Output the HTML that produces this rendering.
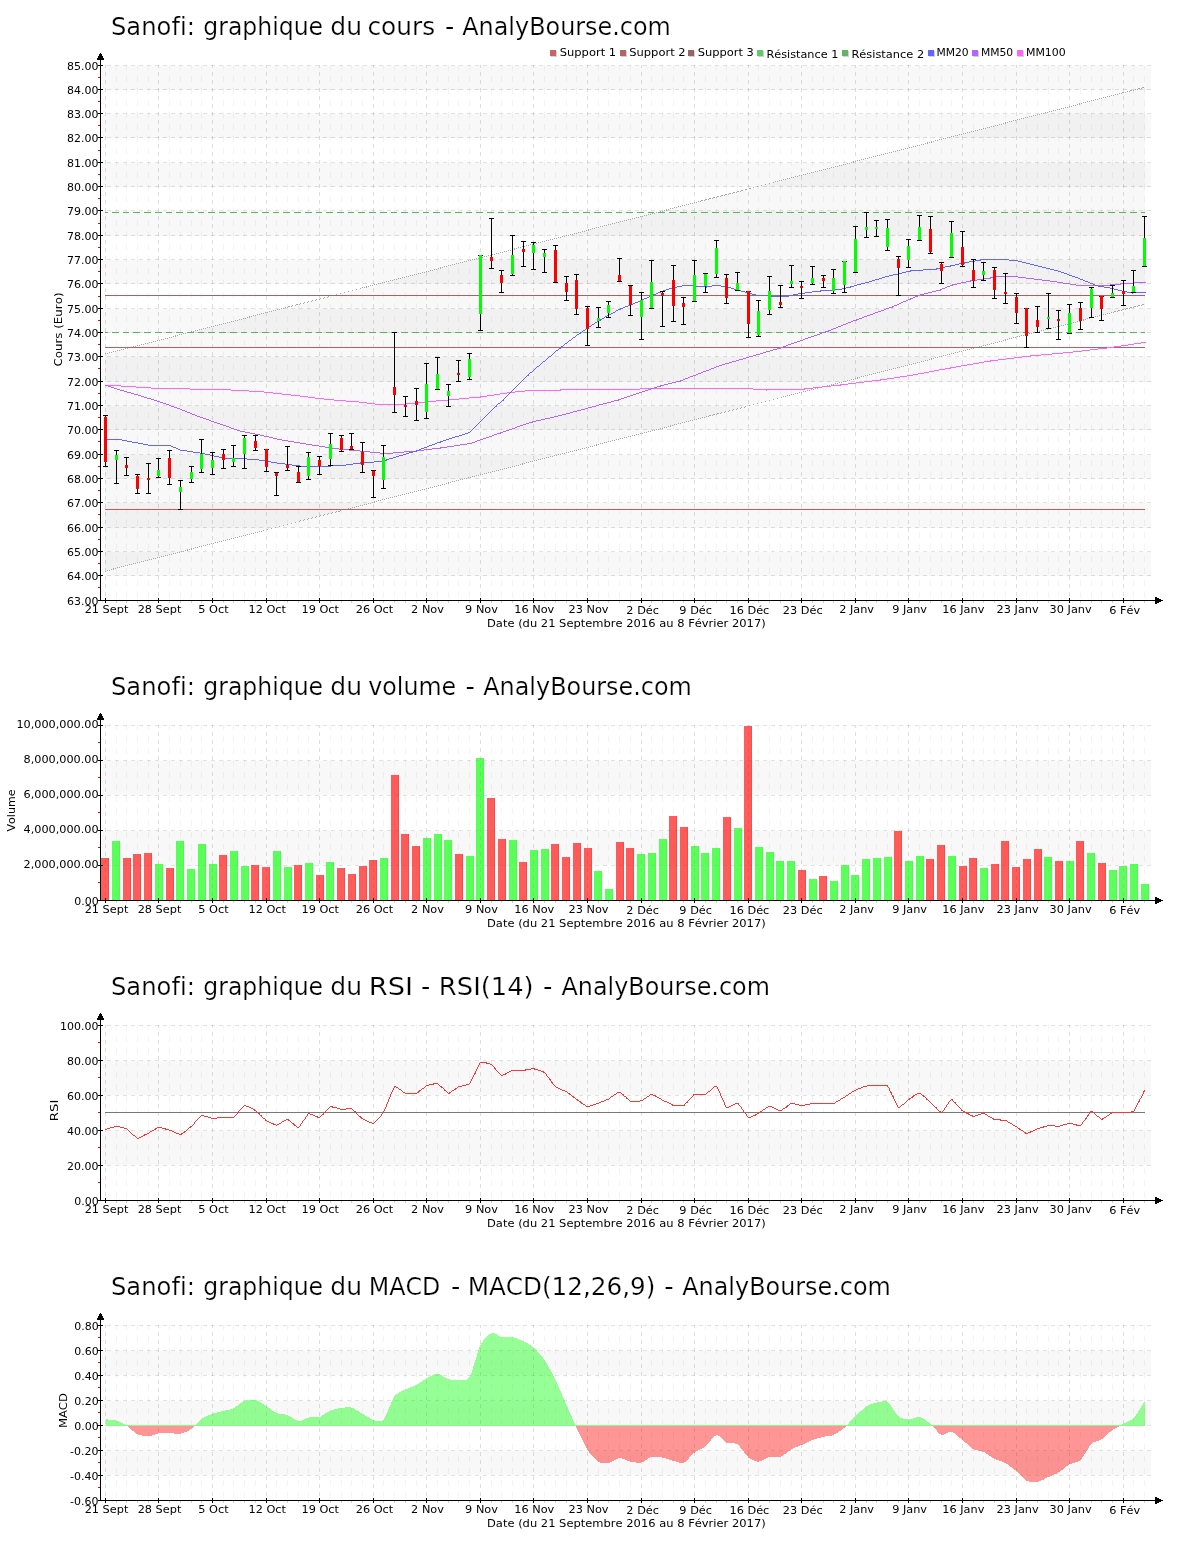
<!DOCTYPE html>
<html lang="fr"><head><meta charset="utf-8"><title>Sanofi - AnalyBourse.com</title>
<style>html,body{margin:0;padding:0;background:#fff}svg{display:block;will-change:transform}text{font-family:'DejaVu Sans','Liberation Sans',sans-serif;fill:#000;font-variant-ligatures:none;font-feature-settings:"liga" 0,"clig" 0;font-kerning:none}.T{stroke:#fff;stroke-width:.22px}</style></head><body>
<svg width="1200" height="1550" viewBox="0 0 1200 1550">
<rect width="1200" height="1550" fill="#fff"/>
<text x="110.99" y="34.60" font-size="24" textLength="83.84" lengthAdjust="spacingAndGlyphs" class="T">Sanofi:</text>
<text x="203.27" y="34.60" font-size="24" textLength="119.85" lengthAdjust="spacingAndGlyphs" class="T">graphique</text>
<text x="330.29" y="34.60" font-size="24" textLength="31.81" lengthAdjust="spacingAndGlyphs" class="T">du</text>
<text x="367.51" y="34.60" font-size="24" textLength="67.55" lengthAdjust="spacingAndGlyphs" class="T">cours</text>
<text x="444.96" y="34.60" font-size="24" textLength="9.30" lengthAdjust="spacingAndGlyphs" class="T">-</text>
<text x="462.25" y="34.60" font-size="24" textLength="208.63" lengthAdjust="spacingAndGlyphs" class="T">AnalyBourse.com</text>
<g shape-rendering="crispEdges">
<rect x="102" y="66" width="1049" height="24" fill="#f8f8f8"/>
<rect x="102" y="114" width="1049" height="24" fill="#f8f8f8"/>
<rect x="102" y="163" width="1049" height="24" fill="#f8f8f8"/>
<rect x="102" y="211" width="1049" height="25" fill="#f8f8f8"/>
<rect x="102" y="260" width="1049" height="24" fill="#f8f8f8"/>
<rect x="102" y="309" width="1049" height="24" fill="#f8f8f8"/>
<rect x="102" y="357" width="1049" height="25" fill="#f8f8f8"/>
<rect x="102" y="406" width="1049" height="24" fill="#f8f8f8"/>
<rect x="102" y="455" width="1049" height="24" fill="#f8f8f8"/>
<rect x="102" y="503" width="1049" height="25" fill="#f8f8f8"/>
<rect x="102" y="552" width="1049" height="24" fill="#f8f8f8"/>
</g>
<polygon points="105,354.1 1145,87.2 1145,304.2 105,571.2" fill="#000" fill-opacity="0.027"/>
<g shape-rendering="crispEdges" fill="none" stroke-width="1">
<line x1="105.5" y1="65" x2="105.5" y2="600" stroke="#000" stroke-opacity="0.125" stroke-dasharray="4 4" stroke-dashoffset="1"/>
<line x1="116.5" y1="65" x2="116.5" y2="600" stroke="#000" stroke-opacity="0.045" stroke-dasharray="6 6" stroke-dashoffset="1"/>
<line x1="126.5" y1="65" x2="126.5" y2="600" stroke="#000" stroke-opacity="0.045" stroke-dasharray="6 6" stroke-dashoffset="1"/>
<line x1="137.5" y1="65" x2="137.5" y2="600" stroke="#000" stroke-opacity="0.045" stroke-dasharray="6 6" stroke-dashoffset="1"/>
<line x1="148.5" y1="65" x2="148.5" y2="600" stroke="#000" stroke-opacity="0.045" stroke-dasharray="6 6" stroke-dashoffset="1"/>
<line x1="158.5" y1="65" x2="158.5" y2="600" stroke="#000" stroke-opacity="0.125" stroke-dasharray="4 4" stroke-dashoffset="1"/>
<line x1="169.5" y1="65" x2="169.5" y2="600" stroke="#000" stroke-opacity="0.045" stroke-dasharray="6 6" stroke-dashoffset="1"/>
<line x1="180.5" y1="65" x2="180.5" y2="600" stroke="#000" stroke-opacity="0.045" stroke-dasharray="6 6" stroke-dashoffset="1"/>
<line x1="191.5" y1="65" x2="191.5" y2="600" stroke="#000" stroke-opacity="0.045" stroke-dasharray="6 6" stroke-dashoffset="1"/>
<line x1="201.5" y1="65" x2="201.5" y2="600" stroke="#000" stroke-opacity="0.045" stroke-dasharray="6 6" stroke-dashoffset="1"/>
<line x1="212.5" y1="65" x2="212.5" y2="600" stroke="#000" stroke-opacity="0.125" stroke-dasharray="4 4" stroke-dashoffset="1"/>
<line x1="223.5" y1="65" x2="223.5" y2="600" stroke="#000" stroke-opacity="0.045" stroke-dasharray="6 6" stroke-dashoffset="1"/>
<line x1="233.5" y1="65" x2="233.5" y2="600" stroke="#000" stroke-opacity="0.045" stroke-dasharray="6 6" stroke-dashoffset="1"/>
<line x1="244.5" y1="65" x2="244.5" y2="600" stroke="#000" stroke-opacity="0.045" stroke-dasharray="6 6" stroke-dashoffset="1"/>
<line x1="255.5" y1="65" x2="255.5" y2="600" stroke="#000" stroke-opacity="0.045" stroke-dasharray="6 6" stroke-dashoffset="1"/>
<line x1="266.5" y1="65" x2="266.5" y2="600" stroke="#000" stroke-opacity="0.125" stroke-dasharray="4 4" stroke-dashoffset="1"/>
<line x1="276.5" y1="65" x2="276.5" y2="600" stroke="#000" stroke-opacity="0.045" stroke-dasharray="6 6" stroke-dashoffset="1"/>
<line x1="287.5" y1="65" x2="287.5" y2="600" stroke="#000" stroke-opacity="0.045" stroke-dasharray="6 6" stroke-dashoffset="1"/>
<line x1="298.5" y1="65" x2="298.5" y2="600" stroke="#000" stroke-opacity="0.045" stroke-dasharray="6 6" stroke-dashoffset="1"/>
<line x1="308.5" y1="65" x2="308.5" y2="600" stroke="#000" stroke-opacity="0.045" stroke-dasharray="6 6" stroke-dashoffset="1"/>
<line x1="319.5" y1="65" x2="319.5" y2="600" stroke="#000" stroke-opacity="0.125" stroke-dasharray="4 4" stroke-dashoffset="1"/>
<line x1="330.5" y1="65" x2="330.5" y2="600" stroke="#000" stroke-opacity="0.045" stroke-dasharray="6 6" stroke-dashoffset="1"/>
<line x1="341.5" y1="65" x2="341.5" y2="600" stroke="#000" stroke-opacity="0.045" stroke-dasharray="6 6" stroke-dashoffset="1"/>
<line x1="351.5" y1="65" x2="351.5" y2="600" stroke="#000" stroke-opacity="0.045" stroke-dasharray="6 6" stroke-dashoffset="1"/>
<line x1="362.5" y1="65" x2="362.5" y2="600" stroke="#000" stroke-opacity="0.045" stroke-dasharray="6 6" stroke-dashoffset="1"/>
<line x1="373.5" y1="65" x2="373.5" y2="600" stroke="#000" stroke-opacity="0.125" stroke-dasharray="4 4" stroke-dashoffset="1"/>
<line x1="383.5" y1="65" x2="383.5" y2="600" stroke="#000" stroke-opacity="0.045" stroke-dasharray="6 6" stroke-dashoffset="1"/>
<line x1="394.5" y1="65" x2="394.5" y2="600" stroke="#000" stroke-opacity="0.045" stroke-dasharray="6 6" stroke-dashoffset="1"/>
<line x1="405.5" y1="65" x2="405.5" y2="600" stroke="#000" stroke-opacity="0.045" stroke-dasharray="6 6" stroke-dashoffset="1"/>
<line x1="416.5" y1="65" x2="416.5" y2="600" stroke="#000" stroke-opacity="0.045" stroke-dasharray="6 6" stroke-dashoffset="1"/>
<line x1="426.5" y1="65" x2="426.5" y2="600" stroke="#000" stroke-opacity="0.125" stroke-dasharray="4 4" stroke-dashoffset="1"/>
<line x1="437.5" y1="65" x2="437.5" y2="600" stroke="#000" stroke-opacity="0.045" stroke-dasharray="6 6" stroke-dashoffset="1"/>
<line x1="448.5" y1="65" x2="448.5" y2="600" stroke="#000" stroke-opacity="0.045" stroke-dasharray="6 6" stroke-dashoffset="1"/>
<line x1="458.5" y1="65" x2="458.5" y2="600" stroke="#000" stroke-opacity="0.045" stroke-dasharray="6 6" stroke-dashoffset="1"/>
<line x1="469.5" y1="65" x2="469.5" y2="600" stroke="#000" stroke-opacity="0.045" stroke-dasharray="6 6" stroke-dashoffset="1"/>
<line x1="480.5" y1="65" x2="480.5" y2="600" stroke="#000" stroke-opacity="0.125" stroke-dasharray="4 4" stroke-dashoffset="1"/>
<line x1="491.5" y1="65" x2="491.5" y2="600" stroke="#000" stroke-opacity="0.045" stroke-dasharray="6 6" stroke-dashoffset="1"/>
<line x1="501.5" y1="65" x2="501.5" y2="600" stroke="#000" stroke-opacity="0.045" stroke-dasharray="6 6" stroke-dashoffset="1"/>
<line x1="512.5" y1="65" x2="512.5" y2="600" stroke="#000" stroke-opacity="0.045" stroke-dasharray="6 6" stroke-dashoffset="1"/>
<line x1="523.5" y1="65" x2="523.5" y2="600" stroke="#000" stroke-opacity="0.045" stroke-dasharray="6 6" stroke-dashoffset="1"/>
<line x1="533.5" y1="65" x2="533.5" y2="600" stroke="#000" stroke-opacity="0.125" stroke-dasharray="4 4" stroke-dashoffset="1"/>
<line x1="544.5" y1="65" x2="544.5" y2="600" stroke="#000" stroke-opacity="0.045" stroke-dasharray="6 6" stroke-dashoffset="1"/>
<line x1="555.5" y1="65" x2="555.5" y2="600" stroke="#000" stroke-opacity="0.045" stroke-dasharray="6 6" stroke-dashoffset="1"/>
<line x1="566.5" y1="65" x2="566.5" y2="600" stroke="#000" stroke-opacity="0.045" stroke-dasharray="6 6" stroke-dashoffset="1"/>
<line x1="576.5" y1="65" x2="576.5" y2="600" stroke="#000" stroke-opacity="0.045" stroke-dasharray="6 6" stroke-dashoffset="1"/>
<line x1="587.5" y1="65" x2="587.5" y2="600" stroke="#000" stroke-opacity="0.125" stroke-dasharray="4 4" stroke-dashoffset="1"/>
<line x1="598.5" y1="65" x2="598.5" y2="600" stroke="#000" stroke-opacity="0.045" stroke-dasharray="6 6" stroke-dashoffset="1"/>
<line x1="608.5" y1="65" x2="608.5" y2="600" stroke="#000" stroke-opacity="0.045" stroke-dasharray="6 6" stroke-dashoffset="1"/>
<line x1="619.5" y1="65" x2="619.5" y2="600" stroke="#000" stroke-opacity="0.045" stroke-dasharray="6 6" stroke-dashoffset="1"/>
<line x1="630.5" y1="65" x2="630.5" y2="600" stroke="#000" stroke-opacity="0.045" stroke-dasharray="6 6" stroke-dashoffset="1"/>
<line x1="641.5" y1="65" x2="641.5" y2="600" stroke="#000" stroke-opacity="0.125" stroke-dasharray="4 4" stroke-dashoffset="1"/>
<line x1="651.5" y1="65" x2="651.5" y2="600" stroke="#000" stroke-opacity="0.045" stroke-dasharray="6 6" stroke-dashoffset="1"/>
<line x1="662.5" y1="65" x2="662.5" y2="600" stroke="#000" stroke-opacity="0.045" stroke-dasharray="6 6" stroke-dashoffset="1"/>
<line x1="673.5" y1="65" x2="673.5" y2="600" stroke="#000" stroke-opacity="0.045" stroke-dasharray="6 6" stroke-dashoffset="1"/>
<line x1="683.5" y1="65" x2="683.5" y2="600" stroke="#000" stroke-opacity="0.045" stroke-dasharray="6 6" stroke-dashoffset="1"/>
<line x1="694.5" y1="65" x2="694.5" y2="600" stroke="#000" stroke-opacity="0.125" stroke-dasharray="4 4" stroke-dashoffset="1"/>
<line x1="705.5" y1="65" x2="705.5" y2="600" stroke="#000" stroke-opacity="0.045" stroke-dasharray="6 6" stroke-dashoffset="1"/>
<line x1="716.5" y1="65" x2="716.5" y2="600" stroke="#000" stroke-opacity="0.045" stroke-dasharray="6 6" stroke-dashoffset="1"/>
<line x1="726.5" y1="65" x2="726.5" y2="600" stroke="#000" stroke-opacity="0.045" stroke-dasharray="6 6" stroke-dashoffset="1"/>
<line x1="737.5" y1="65" x2="737.5" y2="600" stroke="#000" stroke-opacity="0.045" stroke-dasharray="6 6" stroke-dashoffset="1"/>
<line x1="748.5" y1="65" x2="748.5" y2="600" stroke="#000" stroke-opacity="0.125" stroke-dasharray="4 4" stroke-dashoffset="1"/>
<line x1="758.5" y1="65" x2="758.5" y2="600" stroke="#000" stroke-opacity="0.045" stroke-dasharray="6 6" stroke-dashoffset="1"/>
<line x1="769.5" y1="65" x2="769.5" y2="600" stroke="#000" stroke-opacity="0.045" stroke-dasharray="6 6" stroke-dashoffset="1"/>
<line x1="780.5" y1="65" x2="780.5" y2="600" stroke="#000" stroke-opacity="0.045" stroke-dasharray="6 6" stroke-dashoffset="1"/>
<line x1="791.5" y1="65" x2="791.5" y2="600" stroke="#000" stroke-opacity="0.045" stroke-dasharray="6 6" stroke-dashoffset="1"/>
<line x1="801.5" y1="65" x2="801.5" y2="600" stroke="#000" stroke-opacity="0.125" stroke-dasharray="4 4" stroke-dashoffset="1"/>
<line x1="812.5" y1="65" x2="812.5" y2="600" stroke="#000" stroke-opacity="0.045" stroke-dasharray="6 6" stroke-dashoffset="1"/>
<line x1="823.5" y1="65" x2="823.5" y2="600" stroke="#000" stroke-opacity="0.045" stroke-dasharray="6 6" stroke-dashoffset="1"/>
<line x1="833.5" y1="65" x2="833.5" y2="600" stroke="#000" stroke-opacity="0.045" stroke-dasharray="6 6" stroke-dashoffset="1"/>
<line x1="844.5" y1="65" x2="844.5" y2="600" stroke="#000" stroke-opacity="0.045" stroke-dasharray="6 6" stroke-dashoffset="1"/>
<line x1="855.5" y1="65" x2="855.5" y2="600" stroke="#000" stroke-opacity="0.125" stroke-dasharray="4 4" stroke-dashoffset="1"/>
<line x1="866.5" y1="65" x2="866.5" y2="600" stroke="#000" stroke-opacity="0.045" stroke-dasharray="6 6" stroke-dashoffset="1"/>
<line x1="876.5" y1="65" x2="876.5" y2="600" stroke="#000" stroke-opacity="0.045" stroke-dasharray="6 6" stroke-dashoffset="1"/>
<line x1="887.5" y1="65" x2="887.5" y2="600" stroke="#000" stroke-opacity="0.045" stroke-dasharray="6 6" stroke-dashoffset="1"/>
<line x1="898.5" y1="65" x2="898.5" y2="600" stroke="#000" stroke-opacity="0.045" stroke-dasharray="6 6" stroke-dashoffset="1"/>
<line x1="908.5" y1="65" x2="908.5" y2="600" stroke="#000" stroke-opacity="0.125" stroke-dasharray="4 4" stroke-dashoffset="1"/>
<line x1="919.5" y1="65" x2="919.5" y2="600" stroke="#000" stroke-opacity="0.045" stroke-dasharray="6 6" stroke-dashoffset="1"/>
<line x1="930.5" y1="65" x2="930.5" y2="600" stroke="#000" stroke-opacity="0.045" stroke-dasharray="6 6" stroke-dashoffset="1"/>
<line x1="941.5" y1="65" x2="941.5" y2="600" stroke="#000" stroke-opacity="0.045" stroke-dasharray="6 6" stroke-dashoffset="1"/>
<line x1="951.5" y1="65" x2="951.5" y2="600" stroke="#000" stroke-opacity="0.045" stroke-dasharray="6 6" stroke-dashoffset="1"/>
<line x1="962.5" y1="65" x2="962.5" y2="600" stroke="#000" stroke-opacity="0.125" stroke-dasharray="4 4" stroke-dashoffset="1"/>
<line x1="973.5" y1="65" x2="973.5" y2="600" stroke="#000" stroke-opacity="0.045" stroke-dasharray="6 6" stroke-dashoffset="1"/>
<line x1="983.5" y1="65" x2="983.5" y2="600" stroke="#000" stroke-opacity="0.045" stroke-dasharray="6 6" stroke-dashoffset="1"/>
<line x1="994.5" y1="65" x2="994.5" y2="600" stroke="#000" stroke-opacity="0.045" stroke-dasharray="6 6" stroke-dashoffset="1"/>
<line x1="1005.5" y1="65" x2="1005.5" y2="600" stroke="#000" stroke-opacity="0.045" stroke-dasharray="6 6" stroke-dashoffset="1"/>
<line x1="1016.5" y1="65" x2="1016.5" y2="600" stroke="#000" stroke-opacity="0.125" stroke-dasharray="4 4" stroke-dashoffset="1"/>
<line x1="1026.5" y1="65" x2="1026.5" y2="600" stroke="#000" stroke-opacity="0.045" stroke-dasharray="6 6" stroke-dashoffset="1"/>
<line x1="1037.5" y1="65" x2="1037.5" y2="600" stroke="#000" stroke-opacity="0.045" stroke-dasharray="6 6" stroke-dashoffset="1"/>
<line x1="1048.5" y1="65" x2="1048.5" y2="600" stroke="#000" stroke-opacity="0.045" stroke-dasharray="6 6" stroke-dashoffset="1"/>
<line x1="1058.5" y1="65" x2="1058.5" y2="600" stroke="#000" stroke-opacity="0.045" stroke-dasharray="6 6" stroke-dashoffset="1"/>
<line x1="1069.5" y1="65" x2="1069.5" y2="600" stroke="#000" stroke-opacity="0.125" stroke-dasharray="4 4" stroke-dashoffset="1"/>
<line x1="1080.5" y1="65" x2="1080.5" y2="600" stroke="#000" stroke-opacity="0.045" stroke-dasharray="6 6" stroke-dashoffset="1"/>
<line x1="1091.5" y1="65" x2="1091.5" y2="600" stroke="#000" stroke-opacity="0.045" stroke-dasharray="6 6" stroke-dashoffset="1"/>
<line x1="1101.5" y1="65" x2="1101.5" y2="600" stroke="#000" stroke-opacity="0.045" stroke-dasharray="6 6" stroke-dashoffset="1"/>
<line x1="1112.5" y1="65" x2="1112.5" y2="600" stroke="#000" stroke-opacity="0.045" stroke-dasharray="6 6" stroke-dashoffset="1"/>
<line x1="1123.5" y1="65" x2="1123.5" y2="600" stroke="#000" stroke-opacity="0.125" stroke-dasharray="4 4" stroke-dashoffset="1"/>
<line x1="1133.5" y1="65" x2="1133.5" y2="600" stroke="#000" stroke-opacity="0.045" stroke-dasharray="6 6" stroke-dashoffset="1"/>
<line x1="1144.5" y1="65" x2="1144.5" y2="600" stroke="#000" stroke-opacity="0.045" stroke-dasharray="6 6" stroke-dashoffset="1"/>
<line x1="102" y1="65.5" x2="1151" y2="65.5" stroke="#000" stroke-opacity="0.115" stroke-dasharray="4 4" stroke-dashoffset="3"/>
<line x1="102" y1="89.5" x2="1151" y2="89.5" stroke="#000" stroke-opacity="0.115" stroke-dasharray="4 4" stroke-dashoffset="3"/>
<line x1="102" y1="113.5" x2="1151" y2="113.5" stroke="#000" stroke-opacity="0.115" stroke-dasharray="4 4" stroke-dashoffset="3"/>
<line x1="102" y1="137.5" x2="1151" y2="137.5" stroke="#000" stroke-opacity="0.115" stroke-dasharray="4 4" stroke-dashoffset="3"/>
<line x1="102" y1="162.5" x2="1151" y2="162.5" stroke="#000" stroke-opacity="0.115" stroke-dasharray="4 4" stroke-dashoffset="3"/>
<line x1="102" y1="186.5" x2="1151" y2="186.5" stroke="#000" stroke-opacity="0.115" stroke-dasharray="4 4" stroke-dashoffset="3"/>
<line x1="102" y1="210.5" x2="1151" y2="210.5" stroke="#000" stroke-opacity="0.115" stroke-dasharray="4 4" stroke-dashoffset="3"/>
<line x1="102" y1="235.5" x2="1151" y2="235.5" stroke="#000" stroke-opacity="0.115" stroke-dasharray="4 4" stroke-dashoffset="3"/>
<line x1="102" y1="259.5" x2="1151" y2="259.5" stroke="#000" stroke-opacity="0.115" stroke-dasharray="4 4" stroke-dashoffset="3"/>
<line x1="102" y1="283.5" x2="1151" y2="283.5" stroke="#000" stroke-opacity="0.115" stroke-dasharray="4 4" stroke-dashoffset="3"/>
<line x1="102" y1="308.5" x2="1151" y2="308.5" stroke="#000" stroke-opacity="0.115" stroke-dasharray="4 4" stroke-dashoffset="3"/>
<line x1="102" y1="332.5" x2="1151" y2="332.5" stroke="#000" stroke-opacity="0.115" stroke-dasharray="4 4" stroke-dashoffset="3"/>
<line x1="102" y1="356.5" x2="1151" y2="356.5" stroke="#000" stroke-opacity="0.115" stroke-dasharray="4 4" stroke-dashoffset="3"/>
<line x1="102" y1="381.5" x2="1151" y2="381.5" stroke="#000" stroke-opacity="0.115" stroke-dasharray="4 4" stroke-dashoffset="3"/>
<line x1="102" y1="405.5" x2="1151" y2="405.5" stroke="#000" stroke-opacity="0.115" stroke-dasharray="4 4" stroke-dashoffset="3"/>
<line x1="102" y1="429.5" x2="1151" y2="429.5" stroke="#000" stroke-opacity="0.115" stroke-dasharray="4 4" stroke-dashoffset="3"/>
<line x1="102" y1="454.5" x2="1151" y2="454.5" stroke="#000" stroke-opacity="0.115" stroke-dasharray="4 4" stroke-dashoffset="3"/>
<line x1="102" y1="478.5" x2="1151" y2="478.5" stroke="#000" stroke-opacity="0.115" stroke-dasharray="4 4" stroke-dashoffset="3"/>
<line x1="102" y1="502.5" x2="1151" y2="502.5" stroke="#000" stroke-opacity="0.115" stroke-dasharray="4 4" stroke-dashoffset="3"/>
<line x1="102" y1="527.5" x2="1151" y2="527.5" stroke="#000" stroke-opacity="0.115" stroke-dasharray="4 4" stroke-dashoffset="3"/>
<line x1="102" y1="551.5" x2="1151" y2="551.5" stroke="#000" stroke-opacity="0.115" stroke-dasharray="4 4" stroke-dashoffset="3"/>
<line x1="102" y1="575.5" x2="1151" y2="575.5" stroke="#000" stroke-opacity="0.115" stroke-dasharray="4 4" stroke-dashoffset="3"/>
</g>
<g fill="none" stroke="#a8a8a8" stroke-width="1" stroke-dasharray="1.03 1.03" shape-rendering="crispEdges">
<line x1="105" y1="354.1" x2="1145" y2="87.2"/>
<line x1="105" y1="571.2" x2="1145" y2="304.2"/>
</g>
<g shape-rendering="crispEdges">
<rect x="105" y="509" width="1040" height="1" fill="#c45c5c"/>
<rect x="105" y="347" width="1040" height="1" fill="#c05c5c"/>
<rect x="105" y="295" width="1040" height="1" fill="#a46464"/>
<line x1="105" y1="332.5" x2="1145" y2="332.5" stroke="#5cb45c" stroke-width="1" stroke-dasharray="6.7 4.015" stroke-dashoffset="3.74"/>
<line x1="105" y1="212.5" x2="1145" y2="212.5" stroke="#5cb45c" stroke-width="1" stroke-dasharray="6.7 4.015" stroke-dashoffset="3.74"/>
</g>
<path d="M1141 342.5h5M1134 343.5h7M1128 344.5h6M1121 345.5h7M1114 346.5h7M1107 347.5h7M1098 348.5h9M1090 349.5h8M1082 350.5h8M1073 351.5h9M1063 352.5h10M1052 353.5h11M1041 354.5h11M1030 355.5h11M1022 356.5h9M1014 357.5h8M1006 358.5h8M998 359.5h8M990 360.5h8M984 361.5h7M979 362.5h5M973 363.5h6M967 364.5h6M961 365.5h6M956 366.5h5M950 367.5h6M945 368.5h6M939 369.5h6M934 370.5h5M929 371.5h5M924 372.5h5M918 373.5h6M913 374.5h5M907 375.5h6M900 376.5h7M894 377.5h6M887 378.5h7M880 379.5h7M872 380.5h9M864 381.5h8M856 382.5h8M848 383.5h8M840 384.5h8M105 385.5h16M831 385.5h10M121 386.5h15M822 386.5h9M136 387.5h15M813 387.5h9M151 388.5h39M640 388.5h113M804 388.5h9M190 389.5h41M560 389.5h80M753 389.5h52M231 390.5h18M525 390.5h36M766 390.5h1M249 391.5h15M515 391.5h10M264 392.5h9M507 392.5h8M273 393.5h9M500 393.5h7M282 394.5h9M494 394.5h6M291 395.5h9M487 395.5h7M300 396.5h8M480 396.5h7M308 397.5h7M469 397.5h12M315 398.5h9M459 398.5h10M324 399.5h10M448 399.5h11M334 400.5h12M436 400.5h13M346 401.5h13M425 401.5h11M359 402.5h8M415 402.5h10M367 403.5h8M405 403.5h10M375 404.5h30" fill="none" stroke="#ff64ff" stroke-width="1" shape-rendering="crispEdges"/>
<path d="M996 276.5h22M990 277.5h6M1018 277.5h8M983 278.5h8M1026 278.5h8M977 279.5h6M1034 279.5h8M970 280.5h7M1042 280.5h8M966 281.5h5M1050 281.5h7M961 282.5h5M1057 282.5h6M1133 282.5h13M957 283.5h4M1063 283.5h7M1120 283.5h13M952 284.5h5M1070 284.5h6M1110 284.5h11M950 285.5h3M1076 285.5h34M947 286.5h3M1100 286.5h1M945 287.5h2M942 288.5h3M940 289.5h2M936 290.5h5M932 291.5h4M928 292.5h4M924 293.5h4M920 294.5h4M918 295.5h3M915 296.5h3M913 297.5h2M910 298.5h3M908 299.5h3M906 300.5h2M903 301.5h3M901 302.5h2M899 303.5h2M897 304.5h2M894 305.5h3M892 306.5h2M889 307.5h4M886 308.5h3M884 309.5h2M881 310.5h3M878 311.5h3M875 312.5h3M873 313.5h2M870 314.5h3M867 315.5h3M864 316.5h3M862 317.5h2M859 318.5h3M856 319.5h3M853 320.5h4M851 321.5h2M848 322.5h3M846 323.5h2M843 324.5h3M841 325.5h2M838 326.5h3M836 327.5h2M833 328.5h3M831 329.5h2M828 330.5h3M825 331.5h4M822 332.5h3M820 333.5h2M817 334.5h3M814 335.5h3M811 336.5h3M808 337.5h3M805 338.5h3M803 339.5h2M800 340.5h3M797 341.5h3M794 342.5h3M791 343.5h3M788 344.5h3M786 345.5h2M783 346.5h3M780 347.5h3M777 348.5h4M773 349.5h4M770 350.5h3M766 351.5h4M763 352.5h3M760 353.5h3M756 354.5h4M753 355.5h3M749 356.5h4M746 357.5h3M743 358.5h3M739 359.5h4M736 360.5h3M732 361.5h4M729 362.5h3M725 363.5h4M722 364.5h3M719 365.5h3M716 366.5h3M714 367.5h2M711 368.5h3M709 369.5h2M706 370.5h3M703 371.5h3M701 372.5h2M698 373.5h3M696 374.5h2M693 375.5h3M690 376.5h3M688 377.5h2M685 378.5h3M683 379.5h2M680 380.5h3M676 381.5h5M672 382.5h4M668 383.5h4M664 384.5h4M105 385.5h3M660 385.5h4M108 386.5h3M657 386.5h4M111 387.5h3M654 387.5h3M114 388.5h3M651 388.5h3M117 389.5h3M648 389.5h3M120 390.5h4M645 390.5h3M124 391.5h3M642 391.5h3M127 392.5h4M639 392.5h3M131 393.5h3M636 393.5h3M134 394.5h4M633 394.5h3M138 395.5h3M630 395.5h3M141 396.5h3M627 396.5h3M144 397.5h3M624 397.5h3M147 398.5h4M621 398.5h3M151 399.5h3M618 399.5h3M154 400.5h3M614 400.5h5M157 401.5h3M611 401.5h3M160 402.5h3M607 402.5h4M163 403.5h3M603 403.5h4M166 404.5h3M599 404.5h4M169 405.5h2M596 405.5h3M171 406.5h3M592 406.5h4M174 407.5h3M588 407.5h4M177 408.5h3M585 408.5h3M180 409.5h2M581 409.5h4M182 410.5h3M577 410.5h4M185 411.5h2M573 411.5h4M187 412.5h3M570 412.5h3M190 413.5h2M566 413.5h4M192 414.5h3M562 414.5h4M195 415.5h2M558 415.5h4M197 416.5h3M554 416.5h4M200 417.5h3M550 417.5h4M203 418.5h3M545 418.5h5M206 419.5h3M541 419.5h4M209 420.5h2M536 420.5h5M211 421.5h3M532 421.5h4M214 422.5h3M529 422.5h4M217 423.5h3M526 423.5h3M220 424.5h3M523 424.5h3M223 425.5h3M520 425.5h3M226 426.5h3M517 426.5h3M229 427.5h2M515 427.5h2M231 428.5h3M512 428.5h3M234 429.5h3M509 429.5h3M237 430.5h3M506 430.5h3M240 431.5h5M503 431.5h3M245 432.5h5M500 432.5h3M250 433.5h5M497 433.5h4M255 434.5h5M494 434.5h3M260 435.5h4M492 435.5h2M264 436.5h5M489 436.5h3M269 437.5h4M486 437.5h3M273 438.5h4M483 438.5h3M277 439.5h5M480 439.5h3M282 440.5h6M477 440.5h3M288 441.5h6M475 441.5h2M294 442.5h6M472 442.5h3M300 443.5h6M467 443.5h5M306 444.5h6M460 444.5h7M312 445.5h7M454 445.5h6M319 446.5h6M447 446.5h7M325 447.5h7M440 447.5h7M332 448.5h7M432 448.5h9M339 449.5h10M424 449.5h8M349 450.5h11M416 450.5h8M360 451.5h10M404 451.5h13M370 452.5h10M393 452.5h11M380 453.5h13" fill="none" stroke="#b464ff" stroke-width="1" shape-rendering="crispEdges"/>
<path d="M980 259.5h29M975 260.5h6M1009 260.5h9M969 261.5h6M1018 261.5h4M964 262.5h5M1022 262.5h4M959 263.5h6M1026 263.5h4M955 264.5h4M1030 264.5h4M950 265.5h5M1034 265.5h4M945 266.5h6M1038 266.5h4M941 267.5h4M1042 267.5h4M936 268.5h5M1046 268.5h4M923 269.5h14M1050 269.5h4M910 270.5h13M1054 270.5h4M906 271.5h5M1058 271.5h3M902 272.5h4M1061 272.5h3M898 273.5h4M1064 273.5h3M893 274.5h5M1067 274.5h2M889 275.5h4M1069 275.5h3M885 276.5h4M1072 276.5h3M882 277.5h3M1075 277.5h3M879 278.5h3M1078 278.5h2M875 279.5h4M1080 279.5h3M872 280.5h3M1083 280.5h2M869 281.5h3M1085 281.5h3M865 282.5h4M1088 282.5h2M861 283.5h4M1090 283.5h3M857 284.5h4M1093 284.5h2M682 285.5h13M712 285.5h9M854 285.5h3M1095 285.5h3M677 286.5h5M695 286.5h17M721 286.5h6M850 286.5h4M1098 286.5h6M672 287.5h5M706 287.5h1M727 287.5h4M846 287.5h5M1104 287.5h6M669 288.5h4M731 288.5h3M842 288.5h4M1110 288.5h4M666 289.5h3M734 289.5h4M833 289.5h9M1114 289.5h4M663 290.5h3M738 290.5h3M820 290.5h13M1118 290.5h4M660 291.5h3M741 291.5h4M812 291.5h9M1122 291.5h5M658 292.5h3M745 292.5h3M805 292.5h7M1127 292.5h19M656 293.5h2M748 293.5h4M798 293.5h7M1132 293.5h1M653 294.5h3M752 294.5h4M793 294.5h5M651 295.5h2M756 295.5h12M788 295.5h5M649 296.5h2M768 296.5h21M647 297.5h2M780 297.5h1M644 298.5h3M642 299.5h2M640 300.5h2M638 301.5h3M635 302.5h3M633 303.5h2M630 304.5h3M628 305.5h2M625 306.5h3M623 307.5h2M620 308.5h3M618 309.5h3M616 310.5h2M615 311.5h1M613 312.5h2M611 313.5h2M609 314.5h2M607 315.5h2M605 316.5h2M604 317.5h1M602 318.5h2M600 319.5h2M598 320.5h3M597 321.5h1M595 322.5h2M594 323.5h1M592 324.5h2M591 325.5h1M589 326.5h2M588 327.5h1M586 328.5h2M585 329.5h1M583 330.5h2M582 331.5h1M580 332.5h2M579 333.5h2M577 334.5h2M576 335.5h1M575 336.5h1M573 337.5h2M572 338.5h1M571 339.5h1M569 340.5h2M568 341.5h1M567 342.5h1M565 343.5h2M564 344.5h1M563 345.5h1M561 346.5h2M560 347.5h1M559 348.5h2M558 349.5h1M556 350.5h2M555 351.5h1M554 352.5h1M553 353.5h1M552 354.5h1M551 355.5h1M549 356.5h2M548 357.5h1M547 358.5h1M546 359.5h1M545 360.5h1M543 361.5h2M542 362.5h1M541 363.5h1M540 364.5h1M539 365.5h1M537 366.5h2M536 367.5h1M535 368.5h1M534 369.5h1M533 370.5h1M532 371.5h1M530 372.5h2M529 373.5h1M528 374.5h1M527 375.5h2M526 376.5h1M525 377.5h1M524 378.5h1M523 379.5h1M522 380.5h1M521 381.5h1M520 382.5h1M519 383.5h1M518 384.5h1M517 385.5h1M516 386.5h1M515 387.5h1M514 388.5h1M513 389.5h1M512 390.5h1M511 391.5h1M510 392.5h1M509 393.5h1M508 394.5h1M507 395.5h1M506 396.5h1M505 397.5h1M504 398.5h1M503 399.5h1M502 400.5h2M501 401.5h1M500 402.5h1M498 403.5h2M497 404.5h1M496 405.5h1M495 406.5h2M494 407.5h1M493 408.5h1M492 409.5h1M491 410.5h1M490 411.5h1M489 412.5h1M488 413.5h1M487 414.5h1M486 415.5h1M485 416.5h1M484 417.5h1M483 418.5h1M482 419.5h1M481 420.5h1M480 421.5h1M479 422.5h1M478 423.5h1M477 424.5h1M476 425.5h1M475 426.5h1M474 427.5h1M473 428.5h1M472 429.5h1M471 430.5h1M470 431.5h1M468 432.5h2M465 433.5h3M462 434.5h3M459 435.5h3M455 436.5h4M452 437.5h3M449 438.5h3M105 439.5h17M446 439.5h3M122 440.5h5M443 440.5h3M127 441.5h5M440 441.5h3M132 442.5h6M437 442.5h4M138 443.5h5M435 443.5h2M143 444.5h5M432 444.5h3M148 445.5h23M429 445.5h3M171 446.5h2M427 446.5h2M173 447.5h3M424 447.5h3M176 448.5h2M421 448.5h3M178 449.5h2M419 449.5h2M180 450.5h7M416 450.5h3M187 451.5h6M413 451.5h4M193 452.5h7M409 452.5h4M200 453.5h5M406 453.5h3M205 454.5h5M403 454.5h3M210 455.5h4M399 455.5h4M214 456.5h5M396 456.5h3M219 457.5h5M393 457.5h3M224 458.5h23M389 458.5h4M247 459.5h12M386 459.5h3M259 460.5h6M382 460.5h5M265 461.5h6M374 461.5h8M271 462.5h6M360 462.5h14M277 463.5h8M353 463.5h8M285 464.5h7M346 464.5h7M292 465.5h8M331 465.5h15M300 466.5h31" fill="none" stroke="#6464ff" stroke-width="1" shape-rendering="crispEdges"/>
<g shape-rendering="crispEdges">
<rect x="105" y="415" width="1" height="52" fill="#000"/>
<rect x="103" y="415" width="5" height="1" fill="#000"/>
<rect x="103" y="466" width="5" height="1" fill="#000"/>
<rect x="104" y="417" width="3" height="45" fill="#ff0000"/>
<rect x="116" y="450" width="1" height="34" fill="#000"/>
<rect x="114" y="450" width="5" height="1" fill="#000"/>
<rect x="114" y="483" width="5" height="1" fill="#000"/>
<rect x="115" y="455" width="3" height="5" fill="#00ff00"/>
<rect x="126" y="457" width="1" height="19" fill="#000"/>
<rect x="124" y="457" width="5" height="1" fill="#000"/>
<rect x="124" y="475" width="5" height="1" fill="#000"/>
<rect x="125" y="465" width="3" height="3" fill="#ff0000"/>
<rect x="137" y="474" width="1" height="20" fill="#000"/>
<rect x="135" y="474" width="5" height="1" fill="#000"/>
<rect x="135" y="493" width="5" height="1" fill="#000"/>
<rect x="136" y="476" width="3" height="13" fill="#ff0000"/>
<rect x="148" y="463" width="1" height="31" fill="#000"/>
<rect x="146" y="463" width="5" height="1" fill="#000"/>
<rect x="146" y="493" width="5" height="1" fill="#000"/>
<rect x="147" y="478" width="3" height="2" fill="#ff0000"/>
<rect x="158" y="458" width="1" height="20" fill="#000"/>
<rect x="156" y="458" width="5" height="1" fill="#000"/>
<rect x="156" y="477" width="5" height="1" fill="#000"/>
<rect x="157" y="470" width="3" height="6" fill="#00ff00"/>
<rect x="169" y="450" width="1" height="35" fill="#000"/>
<rect x="167" y="450" width="5" height="1" fill="#000"/>
<rect x="167" y="484" width="5" height="1" fill="#000"/>
<rect x="168" y="458" width="3" height="20" fill="#ff0000"/>
<rect x="180" y="480" width="1" height="30" fill="#000"/>
<rect x="178" y="480" width="5" height="1" fill="#000"/>
<rect x="178" y="509" width="5" height="1" fill="#000"/>
<rect x="179" y="487" width="3" height="5" fill="#00ff00"/>
<rect x="191" y="466" width="1" height="17" fill="#000"/>
<rect x="189" y="466" width="5" height="1" fill="#000"/>
<rect x="189" y="482" width="5" height="1" fill="#000"/>
<rect x="190" y="472" width="3" height="7" fill="#00ff00"/>
<rect x="201" y="439" width="1" height="34" fill="#000"/>
<rect x="199" y="439" width="5" height="1" fill="#000"/>
<rect x="199" y="472" width="5" height="1" fill="#000"/>
<rect x="200" y="454" width="3" height="15" fill="#00ff00"/>
<rect x="212" y="452" width="1" height="23" fill="#000"/>
<rect x="210" y="452" width="5" height="1" fill="#000"/>
<rect x="210" y="474" width="5" height="1" fill="#000"/>
<rect x="211" y="460" width="3" height="8" fill="#00ff00"/>
<rect x="223" y="449" width="1" height="20" fill="#000"/>
<rect x="221" y="449" width="5" height="1" fill="#000"/>
<rect x="221" y="468" width="5" height="1" fill="#000"/>
<rect x="222" y="454" width="3" height="6" fill="#ff0000"/>
<rect x="233" y="445" width="1" height="22" fill="#000"/>
<rect x="231" y="445" width="5" height="1" fill="#000"/>
<rect x="231" y="466" width="5" height="1" fill="#000"/>
<rect x="232" y="458" width="3" height="4" fill="#00ff00"/>
<rect x="244" y="435" width="1" height="34" fill="#000"/>
<rect x="242" y="435" width="5" height="1" fill="#000"/>
<rect x="242" y="468" width="5" height="1" fill="#000"/>
<rect x="243" y="438" width="3" height="16" fill="#00ff00"/>
<rect x="255" y="435" width="1" height="16" fill="#000"/>
<rect x="253" y="435" width="5" height="1" fill="#000"/>
<rect x="253" y="450" width="5" height="1" fill="#000"/>
<rect x="254" y="441" width="3" height="7" fill="#ff0000"/>
<rect x="266" y="449" width="1" height="23" fill="#000"/>
<rect x="264" y="449" width="5" height="1" fill="#000"/>
<rect x="264" y="471" width="5" height="1" fill="#000"/>
<rect x="265" y="449" width="3" height="18" fill="#ff0000"/>
<rect x="276" y="472" width="1" height="24" fill="#000"/>
<rect x="274" y="472" width="5" height="1" fill="#000"/>
<rect x="274" y="495" width="5" height="1" fill="#000"/>
<rect x="275" y="473" width="3" height="3" fill="#ff0000"/>
<rect x="287" y="446" width="1" height="25" fill="#000"/>
<rect x="285" y="446" width="5" height="1" fill="#000"/>
<rect x="285" y="470" width="5" height="1" fill="#000"/>
<rect x="286" y="465" width="3" height="3" fill="#ff0000"/>
<rect x="298" y="466" width="1" height="17" fill="#000"/>
<rect x="296" y="466" width="5" height="1" fill="#000"/>
<rect x="296" y="482" width="5" height="1" fill="#000"/>
<rect x="297" y="472" width="3" height="10" fill="#ff0000"/>
<rect x="308" y="452" width="1" height="28" fill="#000"/>
<rect x="306" y="452" width="5" height="1" fill="#000"/>
<rect x="306" y="479" width="5" height="1" fill="#000"/>
<rect x="307" y="457" width="3" height="19" fill="#00ff00"/>
<rect x="319" y="456" width="1" height="19" fill="#000"/>
<rect x="317" y="456" width="5" height="1" fill="#000"/>
<rect x="317" y="474" width="5" height="1" fill="#000"/>
<rect x="318" y="460" width="3" height="6" fill="#ff0000"/>
<rect x="330" y="433" width="1" height="33" fill="#000"/>
<rect x="328" y="433" width="5" height="1" fill="#000"/>
<rect x="328" y="465" width="5" height="1" fill="#000"/>
<rect x="329" y="444" width="3" height="15" fill="#00ff00"/>
<rect x="341" y="435" width="1" height="17" fill="#000"/>
<rect x="339" y="435" width="5" height="1" fill="#000"/>
<rect x="339" y="451" width="5" height="1" fill="#000"/>
<rect x="340" y="438" width="3" height="12" fill="#ff0000"/>
<rect x="351" y="433" width="1" height="17" fill="#000"/>
<rect x="349" y="433" width="5" height="1" fill="#000"/>
<rect x="349" y="449" width="5" height="1" fill="#000"/>
<rect x="350" y="446" width="3" height="3" fill="#ff0000"/>
<rect x="362" y="442" width="1" height="31" fill="#000"/>
<rect x="360" y="442" width="5" height="1" fill="#000"/>
<rect x="360" y="472" width="5" height="1" fill="#000"/>
<rect x="361" y="452" width="3" height="13" fill="#ff0000"/>
<rect x="373" y="470" width="1" height="28" fill="#000"/>
<rect x="371" y="470" width="5" height="1" fill="#000"/>
<rect x="371" y="497" width="5" height="1" fill="#000"/>
<rect x="372" y="471" width="3" height="5" fill="#ff0000"/>
<rect x="383" y="445" width="1" height="44" fill="#000"/>
<rect x="381" y="445" width="5" height="1" fill="#000"/>
<rect x="381" y="488" width="5" height="1" fill="#000"/>
<rect x="382" y="457" width="3" height="23" fill="#00ff00"/>
<rect x="394" y="332" width="1" height="81" fill="#000"/>
<rect x="392" y="332" width="5" height="1" fill="#000"/>
<rect x="392" y="412" width="5" height="1" fill="#000"/>
<rect x="393" y="387" width="3" height="8" fill="#ff0000"/>
<rect x="405" y="396" width="1" height="21" fill="#000"/>
<rect x="403" y="396" width="5" height="1" fill="#000"/>
<rect x="403" y="416" width="5" height="1" fill="#000"/>
<rect x="404" y="405" width="3" height="2" fill="#ff0000"/>
<rect x="416" y="388" width="1" height="33" fill="#000"/>
<rect x="414" y="388" width="5" height="1" fill="#000"/>
<rect x="414" y="420" width="5" height="1" fill="#000"/>
<rect x="415" y="401" width="3" height="4" fill="#ff0000"/>
<rect x="426" y="363" width="1" height="56" fill="#000"/>
<rect x="424" y="363" width="5" height="1" fill="#000"/>
<rect x="424" y="418" width="5" height="1" fill="#000"/>
<rect x="425" y="384" width="3" height="28" fill="#00ff00"/>
<rect x="437" y="357" width="1" height="33" fill="#000"/>
<rect x="435" y="357" width="5" height="1" fill="#000"/>
<rect x="435" y="389" width="5" height="1" fill="#000"/>
<rect x="436" y="374" width="3" height="15" fill="#00ff00"/>
<rect x="448" y="384" width="1" height="23" fill="#000"/>
<rect x="446" y="384" width="5" height="1" fill="#000"/>
<rect x="446" y="406" width="5" height="1" fill="#000"/>
<rect x="447" y="391" width="3" height="5" fill="#00ff00"/>
<rect x="458" y="360" width="1" height="22" fill="#000"/>
<rect x="456" y="360" width="5" height="1" fill="#000"/>
<rect x="456" y="381" width="5" height="1" fill="#000"/>
<rect x="457" y="373" width="3" height="2" fill="#ff0000"/>
<rect x="469" y="353" width="1" height="27" fill="#000"/>
<rect x="467" y="353" width="5" height="1" fill="#000"/>
<rect x="467" y="379" width="5" height="1" fill="#000"/>
<rect x="468" y="359" width="3" height="18" fill="#00ff00"/>
<rect x="480" y="255" width="1" height="76" fill="#000"/>
<rect x="478" y="255" width="5" height="1" fill="#000"/>
<rect x="478" y="330" width="5" height="1" fill="#000"/>
<rect x="479" y="255" width="3" height="59" fill="#00ff00"/>
<rect x="491" y="218" width="1" height="51" fill="#000"/>
<rect x="489" y="218" width="5" height="1" fill="#000"/>
<rect x="489" y="268" width="5" height="1" fill="#000"/>
<rect x="490" y="257" width="3" height="4" fill="#ff0000"/>
<rect x="501" y="270" width="1" height="23" fill="#000"/>
<rect x="499" y="270" width="5" height="1" fill="#000"/>
<rect x="499" y="292" width="5" height="1" fill="#000"/>
<rect x="500" y="275" width="3" height="8" fill="#ff0000"/>
<rect x="512" y="235" width="1" height="41" fill="#000"/>
<rect x="510" y="235" width="5" height="1" fill="#000"/>
<rect x="510" y="275" width="5" height="1" fill="#000"/>
<rect x="511" y="255" width="3" height="19" fill="#00ff00"/>
<rect x="523" y="241" width="1" height="26" fill="#000"/>
<rect x="521" y="241" width="5" height="1" fill="#000"/>
<rect x="521" y="266" width="5" height="1" fill="#000"/>
<rect x="522" y="249" width="3" height="3" fill="#ff0000"/>
<rect x="533" y="242" width="1" height="28" fill="#000"/>
<rect x="531" y="242" width="5" height="1" fill="#000"/>
<rect x="531" y="269" width="5" height="1" fill="#000"/>
<rect x="532" y="245" width="3" height="8" fill="#00ff00"/>
<rect x="544" y="249" width="1" height="24" fill="#000"/>
<rect x="542" y="249" width="5" height="1" fill="#000"/>
<rect x="542" y="272" width="5" height="1" fill="#000"/>
<rect x="543" y="253" width="3" height="4" fill="#00ff00"/>
<rect x="555" y="245" width="1" height="38" fill="#000"/>
<rect x="553" y="245" width="5" height="1" fill="#000"/>
<rect x="553" y="282" width="5" height="1" fill="#000"/>
<rect x="554" y="250" width="3" height="32" fill="#ff0000"/>
<rect x="566" y="276" width="1" height="25" fill="#000"/>
<rect x="564" y="276" width="5" height="1" fill="#000"/>
<rect x="564" y="300" width="5" height="1" fill="#000"/>
<rect x="565" y="283" width="3" height="9" fill="#ff0000"/>
<rect x="576" y="274" width="1" height="41" fill="#000"/>
<rect x="574" y="274" width="5" height="1" fill="#000"/>
<rect x="574" y="314" width="5" height="1" fill="#000"/>
<rect x="575" y="280" width="3" height="29" fill="#ff0000"/>
<rect x="587" y="306" width="1" height="40" fill="#000"/>
<rect x="585" y="306" width="5" height="1" fill="#000"/>
<rect x="585" y="345" width="5" height="1" fill="#000"/>
<rect x="586" y="308" width="3" height="21" fill="#ff0000"/>
<rect x="598" y="307" width="1" height="21" fill="#000"/>
<rect x="596" y="307" width="5" height="1" fill="#000"/>
<rect x="596" y="327" width="5" height="1" fill="#000"/>
<rect x="597" y="318" width="3" height="3" fill="#00ff00"/>
<rect x="608" y="301" width="1" height="17" fill="#000"/>
<rect x="606" y="301" width="5" height="1" fill="#000"/>
<rect x="606" y="317" width="5" height="1" fill="#000"/>
<rect x="607" y="305" width="3" height="8" fill="#00ff00"/>
<rect x="619" y="258" width="1" height="24" fill="#000"/>
<rect x="617" y="258" width="5" height="1" fill="#000"/>
<rect x="617" y="281" width="5" height="1" fill="#000"/>
<rect x="618" y="275" width="3" height="6" fill="#ff0000"/>
<rect x="630" y="285" width="1" height="31" fill="#000"/>
<rect x="628" y="285" width="5" height="1" fill="#000"/>
<rect x="628" y="315" width="5" height="1" fill="#000"/>
<rect x="629" y="286" width="3" height="19" fill="#ff0000"/>
<rect x="641" y="292" width="1" height="48" fill="#000"/>
<rect x="639" y="292" width="5" height="1" fill="#000"/>
<rect x="639" y="339" width="5" height="1" fill="#000"/>
<rect x="640" y="300" width="3" height="17" fill="#00ff00"/>
<rect x="651" y="260" width="1" height="49" fill="#000"/>
<rect x="649" y="260" width="5" height="1" fill="#000"/>
<rect x="649" y="308" width="5" height="1" fill="#000"/>
<rect x="650" y="282" width="3" height="26" fill="#00ff00"/>
<rect x="662" y="291" width="1" height="36" fill="#000"/>
<rect x="660" y="291" width="5" height="1" fill="#000"/>
<rect x="660" y="326" width="5" height="1" fill="#000"/>
<rect x="661" y="293" width="3" height="3" fill="#ff0000"/>
<rect x="673" y="265" width="1" height="57" fill="#000"/>
<rect x="671" y="265" width="5" height="1" fill="#000"/>
<rect x="671" y="321" width="5" height="1" fill="#000"/>
<rect x="672" y="280" width="3" height="26" fill="#ff0000"/>
<rect x="683" y="297" width="1" height="28" fill="#000"/>
<rect x="681" y="297" width="5" height="1" fill="#000"/>
<rect x="681" y="324" width="5" height="1" fill="#000"/>
<rect x="682" y="303" width="3" height="4" fill="#ff0000"/>
<rect x="694" y="260" width="1" height="42" fill="#000"/>
<rect x="692" y="260" width="5" height="1" fill="#000"/>
<rect x="692" y="301" width="5" height="1" fill="#000"/>
<rect x="693" y="275" width="3" height="26" fill="#00ff00"/>
<rect x="705" y="273" width="1" height="20" fill="#000"/>
<rect x="703" y="273" width="5" height="1" fill="#000"/>
<rect x="703" y="292" width="5" height="1" fill="#000"/>
<rect x="704" y="274" width="3" height="12" fill="#00ff00"/>
<rect x="716" y="240" width="1" height="38" fill="#000"/>
<rect x="714" y="240" width="5" height="1" fill="#000"/>
<rect x="714" y="277" width="5" height="1" fill="#000"/>
<rect x="715" y="248" width="3" height="26" fill="#00ff00"/>
<rect x="726" y="274" width="1" height="30" fill="#000"/>
<rect x="724" y="274" width="5" height="1" fill="#000"/>
<rect x="724" y="303" width="5" height="1" fill="#000"/>
<rect x="725" y="278" width="3" height="20" fill="#ff0000"/>
<rect x="737" y="272" width="1" height="19" fill="#000"/>
<rect x="735" y="272" width="5" height="1" fill="#000"/>
<rect x="735" y="290" width="5" height="1" fill="#000"/>
<rect x="736" y="283" width="3" height="7" fill="#00ff00"/>
<rect x="748" y="291" width="1" height="47" fill="#000"/>
<rect x="746" y="291" width="5" height="1" fill="#000"/>
<rect x="746" y="337" width="5" height="1" fill="#000"/>
<rect x="747" y="291" width="3" height="33" fill="#ff0000"/>
<rect x="758" y="300" width="1" height="37" fill="#000"/>
<rect x="756" y="300" width="5" height="1" fill="#000"/>
<rect x="756" y="336" width="5" height="1" fill="#000"/>
<rect x="757" y="311" width="3" height="24" fill="#00ff00"/>
<rect x="769" y="276" width="1" height="39" fill="#000"/>
<rect x="767" y="276" width="5" height="1" fill="#000"/>
<rect x="767" y="314" width="5" height="1" fill="#000"/>
<rect x="768" y="291" width="3" height="19" fill="#00ff00"/>
<rect x="780" y="285" width="1" height="23" fill="#000"/>
<rect x="778" y="285" width="5" height="1" fill="#000"/>
<rect x="778" y="307" width="5" height="1" fill="#000"/>
<rect x="779" y="302" width="3" height="3" fill="#ff0000"/>
<rect x="791" y="265" width="1" height="23" fill="#000"/>
<rect x="789" y="265" width="5" height="1" fill="#000"/>
<rect x="789" y="287" width="5" height="1" fill="#000"/>
<rect x="790" y="281" width="3" height="3" fill="#00ff00"/>
<rect x="801" y="281" width="1" height="18" fill="#000"/>
<rect x="799" y="281" width="5" height="1" fill="#000"/>
<rect x="799" y="298" width="5" height="1" fill="#000"/>
<rect x="800" y="286" width="3" height="2" fill="#ff0000"/>
<rect x="812" y="266" width="1" height="19" fill="#000"/>
<rect x="810" y="266" width="5" height="1" fill="#000"/>
<rect x="810" y="284" width="5" height="1" fill="#000"/>
<rect x="811" y="278" width="3" height="5" fill="#00ff00"/>
<rect x="823" y="275" width="1" height="13" fill="#000"/>
<rect x="821" y="275" width="5" height="1" fill="#000"/>
<rect x="821" y="287" width="5" height="1" fill="#000"/>
<rect x="822" y="278" width="3" height="3" fill="#ff0000"/>
<rect x="833" y="269" width="1" height="25" fill="#000"/>
<rect x="831" y="269" width="5" height="1" fill="#000"/>
<rect x="831" y="293" width="5" height="1" fill="#000"/>
<rect x="832" y="278" width="3" height="13" fill="#00ff00"/>
<rect x="844" y="261" width="1" height="32" fill="#000"/>
<rect x="842" y="261" width="5" height="1" fill="#000"/>
<rect x="842" y="292" width="5" height="1" fill="#000"/>
<rect x="843" y="261" width="3" height="24" fill="#00ff00"/>
<rect x="855" y="226" width="1" height="47" fill="#000"/>
<rect x="853" y="226" width="5" height="1" fill="#000"/>
<rect x="853" y="272" width="5" height="1" fill="#000"/>
<rect x="854" y="239" width="3" height="33" fill="#00ff00"/>
<rect x="866" y="212" width="1" height="26" fill="#000"/>
<rect x="864" y="212" width="5" height="1" fill="#000"/>
<rect x="864" y="237" width="5" height="1" fill="#000"/>
<rect x="865" y="227" width="3" height="3" fill="#00ff00"/>
<rect x="876" y="220" width="1" height="17" fill="#000"/>
<rect x="874" y="220" width="5" height="1" fill="#000"/>
<rect x="874" y="236" width="5" height="1" fill="#000"/>
<rect x="875" y="227" width="3" height="2" fill="#00ff00"/>
<rect x="887" y="219" width="1" height="32" fill="#000"/>
<rect x="885" y="219" width="5" height="1" fill="#000"/>
<rect x="885" y="250" width="5" height="1" fill="#000"/>
<rect x="886" y="228" width="3" height="19" fill="#00ff00"/>
<rect x="898" y="256" width="1" height="40" fill="#000"/>
<rect x="896" y="256" width="5" height="1" fill="#000"/>
<rect x="896" y="295" width="5" height="1" fill="#000"/>
<rect x="897" y="259" width="3" height="9" fill="#ff0000"/>
<rect x="908" y="239" width="1" height="29" fill="#000"/>
<rect x="906" y="239" width="5" height="1" fill="#000"/>
<rect x="906" y="267" width="5" height="1" fill="#000"/>
<rect x="907" y="246" width="3" height="14" fill="#00ff00"/>
<rect x="919" y="215" width="1" height="26" fill="#000"/>
<rect x="917" y="215" width="5" height="1" fill="#000"/>
<rect x="917" y="240" width="5" height="1" fill="#000"/>
<rect x="918" y="227" width="3" height="13" fill="#00ff00"/>
<rect x="930" y="216" width="1" height="38" fill="#000"/>
<rect x="928" y="216" width="5" height="1" fill="#000"/>
<rect x="928" y="253" width="5" height="1" fill="#000"/>
<rect x="929" y="229" width="3" height="23" fill="#ff0000"/>
<rect x="941" y="262" width="1" height="22" fill="#000"/>
<rect x="939" y="262" width="5" height="1" fill="#000"/>
<rect x="939" y="283" width="5" height="1" fill="#000"/>
<rect x="940" y="264" width="3" height="7" fill="#ff0000"/>
<rect x="951" y="221" width="1" height="37" fill="#000"/>
<rect x="949" y="221" width="5" height="1" fill="#000"/>
<rect x="949" y="257" width="5" height="1" fill="#000"/>
<rect x="950" y="233" width="3" height="24" fill="#00ff00"/>
<rect x="962" y="231" width="1" height="36" fill="#000"/>
<rect x="960" y="231" width="5" height="1" fill="#000"/>
<rect x="960" y="266" width="5" height="1" fill="#000"/>
<rect x="961" y="247" width="3" height="18" fill="#ff0000"/>
<rect x="973" y="259" width="1" height="29" fill="#000"/>
<rect x="971" y="259" width="5" height="1" fill="#000"/>
<rect x="971" y="287" width="5" height="1" fill="#000"/>
<rect x="972" y="270" width="3" height="11" fill="#ff0000"/>
<rect x="983" y="262" width="1" height="19" fill="#000"/>
<rect x="981" y="262" width="5" height="1" fill="#000"/>
<rect x="981" y="280" width="5" height="1" fill="#000"/>
<rect x="982" y="271" width="3" height="4" fill="#00ff00"/>
<rect x="994" y="267" width="1" height="32" fill="#000"/>
<rect x="992" y="267" width="5" height="1" fill="#000"/>
<rect x="992" y="298" width="5" height="1" fill="#000"/>
<rect x="993" y="270" width="3" height="20" fill="#ff0000"/>
<rect x="1005" y="273" width="1" height="31" fill="#000"/>
<rect x="1003" y="273" width="5" height="1" fill="#000"/>
<rect x="1003" y="303" width="5" height="1" fill="#000"/>
<rect x="1004" y="292" width="3" height="2" fill="#ff0000"/>
<rect x="1016" y="293" width="1" height="31" fill="#000"/>
<rect x="1014" y="293" width="5" height="1" fill="#000"/>
<rect x="1014" y="323" width="5" height="1" fill="#000"/>
<rect x="1015" y="297" width="3" height="16" fill="#ff0000"/>
<rect x="1026" y="308" width="1" height="40" fill="#000"/>
<rect x="1024" y="308" width="5" height="1" fill="#000"/>
<rect x="1024" y="347" width="5" height="1" fill="#000"/>
<rect x="1025" y="308" width="3" height="28" fill="#ff0000"/>
<rect x="1037" y="306" width="1" height="27" fill="#000"/>
<rect x="1035" y="306" width="5" height="1" fill="#000"/>
<rect x="1035" y="332" width="5" height="1" fill="#000"/>
<rect x="1036" y="320" width="3" height="7" fill="#ff0000"/>
<rect x="1048" y="293" width="1" height="36" fill="#000"/>
<rect x="1046" y="293" width="5" height="1" fill="#000"/>
<rect x="1046" y="328" width="5" height="1" fill="#000"/>
<rect x="1047" y="317" width="3" height="2" fill="#00ff00"/>
<rect x="1058" y="310" width="1" height="30" fill="#000"/>
<rect x="1056" y="310" width="5" height="1" fill="#000"/>
<rect x="1056" y="339" width="5" height="1" fill="#000"/>
<rect x="1057" y="319" width="3" height="2" fill="#ff0000"/>
<rect x="1069" y="304" width="1" height="30" fill="#000"/>
<rect x="1067" y="304" width="5" height="1" fill="#000"/>
<rect x="1067" y="333" width="5" height="1" fill="#000"/>
<rect x="1068" y="313" width="3" height="20" fill="#00ff00"/>
<rect x="1080" y="302" width="1" height="28" fill="#000"/>
<rect x="1078" y="302" width="5" height="1" fill="#000"/>
<rect x="1078" y="329" width="5" height="1" fill="#000"/>
<rect x="1079" y="308" width="3" height="13" fill="#ff0000"/>
<rect x="1091" y="287" width="1" height="31" fill="#000"/>
<rect x="1089" y="287" width="5" height="1" fill="#000"/>
<rect x="1089" y="317" width="5" height="1" fill="#000"/>
<rect x="1090" y="289" width="3" height="19" fill="#00ff00"/>
<rect x="1101" y="296" width="1" height="25" fill="#000"/>
<rect x="1099" y="296" width="5" height="1" fill="#000"/>
<rect x="1099" y="320" width="5" height="1" fill="#000"/>
<rect x="1100" y="296" width="3" height="13" fill="#ff0000"/>
<rect x="1112" y="285" width="1" height="13" fill="#000"/>
<rect x="1110" y="285" width="5" height="1" fill="#000"/>
<rect x="1110" y="297" width="5" height="1" fill="#000"/>
<rect x="1111" y="293" width="3" height="4" fill="#00ff00"/>
<rect x="1123" y="280" width="1" height="26" fill="#000"/>
<rect x="1121" y="280" width="5" height="1" fill="#000"/>
<rect x="1121" y="305" width="5" height="1" fill="#000"/>
<rect x="1122" y="291" width="3" height="3" fill="#ff0000"/>
<rect x="1133" y="270" width="1" height="23" fill="#000"/>
<rect x="1131" y="270" width="5" height="1" fill="#000"/>
<rect x="1131" y="292" width="5" height="1" fill="#000"/>
<rect x="1132" y="286" width="3" height="6" fill="#00ff00"/>
<rect x="1144" y="216" width="1" height="51" fill="#000"/>
<rect x="1142" y="216" width="5" height="1" fill="#000"/>
<rect x="1142" y="266" width="5" height="1" fill="#000"/>
<rect x="1143" y="238" width="3" height="28" fill="#00ff00"/>
</g>
<g shape-rendering="crispEdges">
<rect x="100" y="58" width="1" height="543" fill="#000"/>
<rect x="100" y="600" width="1056" height="1" fill="#000"/>
<rect x="98" y="65" width="5" height="1" fill="#000"/>
<rect x="98" y="77" width="2" height="1" fill="#f00"/>
<rect x="98" y="89" width="5" height="1" fill="#000"/>
<rect x="98" y="101" width="2" height="1" fill="#f00"/>
<rect x="98" y="113" width="5" height="1" fill="#000"/>
<rect x="98" y="125" width="2" height="1" fill="#f00"/>
<rect x="98" y="137" width="5" height="1" fill="#000"/>
<rect x="98" y="150" width="2" height="1" fill="#f00"/>
<rect x="98" y="162" width="5" height="1" fill="#000"/>
<rect x="98" y="174" width="2" height="1" fill="#f00"/>
<rect x="98" y="186" width="5" height="1" fill="#000"/>
<rect x="98" y="198" width="2" height="1" fill="#f00"/>
<rect x="98" y="210" width="5" height="1" fill="#000"/>
<rect x="98" y="223" width="2" height="1" fill="#f00"/>
<rect x="98" y="235" width="5" height="1" fill="#000"/>
<rect x="98" y="247" width="2" height="1" fill="#f00"/>
<rect x="98" y="259" width="5" height="1" fill="#000"/>
<rect x="98" y="271" width="2" height="1" fill="#f00"/>
<rect x="98" y="283" width="5" height="1" fill="#000"/>
<rect x="98" y="296" width="2" height="1" fill="#f00"/>
<rect x="98" y="308" width="5" height="1" fill="#000"/>
<rect x="98" y="320" width="2" height="1" fill="#f00"/>
<rect x="98" y="332" width="5" height="1" fill="#000"/>
<rect x="98" y="344" width="2" height="1" fill="#f00"/>
<rect x="98" y="356" width="5" height="1" fill="#000"/>
<rect x="98" y="368" width="2" height="1" fill="#f00"/>
<rect x="98" y="381" width="5" height="1" fill="#000"/>
<rect x="98" y="393" width="2" height="1" fill="#f00"/>
<rect x="98" y="405" width="5" height="1" fill="#000"/>
<rect x="98" y="417" width="2" height="1" fill="#f00"/>
<rect x="98" y="429" width="5" height="1" fill="#000"/>
<rect x="98" y="441" width="2" height="1" fill="#f00"/>
<rect x="98" y="454" width="5" height="1" fill="#000"/>
<rect x="98" y="466" width="2" height="1" fill="#f00"/>
<rect x="98" y="478" width="5" height="1" fill="#000"/>
<rect x="98" y="490" width="2" height="1" fill="#f00"/>
<rect x="98" y="502" width="5" height="1" fill="#000"/>
<rect x="98" y="514" width="2" height="1" fill="#f00"/>
<rect x="98" y="527" width="5" height="1" fill="#000"/>
<rect x="98" y="539" width="2" height="1" fill="#f00"/>
<rect x="98" y="551" width="5" height="1" fill="#000"/>
<rect x="98" y="563" width="2" height="1" fill="#f00"/>
<rect x="98" y="575" width="5" height="1" fill="#000"/>
<rect x="98" y="587" width="2" height="1" fill="#f00"/>
<rect x="98" y="600" width="5" height="1" fill="#000"/>
<rect x="105" y="598" width="1" height="5" fill="#000"/>
<rect x="158" y="598" width="1" height="5" fill="#000"/>
<rect x="212" y="598" width="1" height="5" fill="#000"/>
<rect x="266" y="598" width="1" height="5" fill="#000"/>
<rect x="319" y="598" width="1" height="5" fill="#000"/>
<rect x="373" y="598" width="1" height="5" fill="#000"/>
<rect x="426" y="598" width="1" height="5" fill="#000"/>
<rect x="480" y="598" width="1" height="5" fill="#000"/>
<rect x="533" y="598" width="1" height="5" fill="#000"/>
<rect x="587" y="598" width="1" height="5" fill="#000"/>
<rect x="641" y="598" width="1" height="5" fill="#000"/>
<rect x="694" y="598" width="1" height="5" fill="#000"/>
<rect x="748" y="598" width="1" height="5" fill="#000"/>
<rect x="801" y="598" width="1" height="5" fill="#000"/>
<rect x="855" y="598" width="1" height="5" fill="#000"/>
<rect x="908" y="598" width="1" height="5" fill="#000"/>
<rect x="962" y="598" width="1" height="5" fill="#000"/>
<rect x="1016" y="598" width="1" height="5" fill="#000"/>
<rect x="1069" y="598" width="1" height="5" fill="#000"/>
<rect x="1123" y="598" width="1" height="5" fill="#000"/>
<rect x="116" y="601" width="1" height="2" fill="#d0d0d0"/>
<rect x="126" y="601" width="1" height="2" fill="#d0d0d0"/>
<rect x="137" y="601" width="1" height="2" fill="#d0d0d0"/>
<rect x="148" y="601" width="1" height="2" fill="#d0d0d0"/>
<rect x="169" y="601" width="1" height="2" fill="#d0d0d0"/>
<rect x="180" y="601" width="1" height="2" fill="#d0d0d0"/>
<rect x="191" y="601" width="1" height="2" fill="#d0d0d0"/>
<rect x="201" y="601" width="1" height="2" fill="#d0d0d0"/>
<rect x="223" y="601" width="1" height="2" fill="#d0d0d0"/>
<rect x="233" y="601" width="1" height="2" fill="#d0d0d0"/>
<rect x="244" y="601" width="1" height="2" fill="#d0d0d0"/>
<rect x="255" y="601" width="1" height="2" fill="#d0d0d0"/>
<rect x="276" y="601" width="1" height="2" fill="#d0d0d0"/>
<rect x="287" y="601" width="1" height="2" fill="#d0d0d0"/>
<rect x="298" y="601" width="1" height="2" fill="#d0d0d0"/>
<rect x="308" y="601" width="1" height="2" fill="#d0d0d0"/>
<rect x="330" y="601" width="1" height="2" fill="#d0d0d0"/>
<rect x="341" y="601" width="1" height="2" fill="#d0d0d0"/>
<rect x="351" y="601" width="1" height="2" fill="#d0d0d0"/>
<rect x="362" y="601" width="1" height="2" fill="#d0d0d0"/>
<rect x="383" y="601" width="1" height="2" fill="#d0d0d0"/>
<rect x="394" y="601" width="1" height="2" fill="#d0d0d0"/>
<rect x="405" y="601" width="1" height="2" fill="#d0d0d0"/>
<rect x="416" y="601" width="1" height="2" fill="#d0d0d0"/>
<rect x="437" y="601" width="1" height="2" fill="#d0d0d0"/>
<rect x="448" y="601" width="1" height="2" fill="#d0d0d0"/>
<rect x="458" y="601" width="1" height="2" fill="#d0d0d0"/>
<rect x="469" y="601" width="1" height="2" fill="#d0d0d0"/>
<rect x="491" y="601" width="1" height="2" fill="#d0d0d0"/>
<rect x="501" y="601" width="1" height="2" fill="#d0d0d0"/>
<rect x="512" y="601" width="1" height="2" fill="#d0d0d0"/>
<rect x="523" y="601" width="1" height="2" fill="#d0d0d0"/>
<rect x="544" y="601" width="1" height="2" fill="#d0d0d0"/>
<rect x="555" y="601" width="1" height="2" fill="#d0d0d0"/>
<rect x="566" y="601" width="1" height="2" fill="#d0d0d0"/>
<rect x="576" y="601" width="1" height="2" fill="#d0d0d0"/>
<rect x="598" y="601" width="1" height="2" fill="#d0d0d0"/>
<rect x="608" y="601" width="1" height="2" fill="#d0d0d0"/>
<rect x="619" y="601" width="1" height="2" fill="#d0d0d0"/>
<rect x="630" y="601" width="1" height="2" fill="#d0d0d0"/>
<rect x="651" y="601" width="1" height="2" fill="#d0d0d0"/>
<rect x="662" y="601" width="1" height="2" fill="#d0d0d0"/>
<rect x="673" y="601" width="1" height="2" fill="#d0d0d0"/>
<rect x="683" y="601" width="1" height="2" fill="#d0d0d0"/>
<rect x="705" y="601" width="1" height="2" fill="#d0d0d0"/>
<rect x="716" y="601" width="1" height="2" fill="#d0d0d0"/>
<rect x="726" y="601" width="1" height="2" fill="#d0d0d0"/>
<rect x="737" y="601" width="1" height="2" fill="#d0d0d0"/>
<rect x="758" y="601" width="1" height="2" fill="#d0d0d0"/>
<rect x="769" y="601" width="1" height="2" fill="#d0d0d0"/>
<rect x="780" y="601" width="1" height="2" fill="#d0d0d0"/>
<rect x="791" y="601" width="1" height="2" fill="#d0d0d0"/>
<rect x="812" y="601" width="1" height="2" fill="#d0d0d0"/>
<rect x="823" y="601" width="1" height="2" fill="#d0d0d0"/>
<rect x="833" y="601" width="1" height="2" fill="#d0d0d0"/>
<rect x="844" y="601" width="1" height="2" fill="#d0d0d0"/>
<rect x="866" y="601" width="1" height="2" fill="#d0d0d0"/>
<rect x="876" y="601" width="1" height="2" fill="#d0d0d0"/>
<rect x="887" y="601" width="1" height="2" fill="#d0d0d0"/>
<rect x="898" y="601" width="1" height="2" fill="#d0d0d0"/>
<rect x="919" y="601" width="1" height="2" fill="#d0d0d0"/>
<rect x="930" y="601" width="1" height="2" fill="#d0d0d0"/>
<rect x="941" y="601" width="1" height="2" fill="#d0d0d0"/>
<rect x="951" y="601" width="1" height="2" fill="#d0d0d0"/>
<rect x="973" y="601" width="1" height="2" fill="#d0d0d0"/>
<rect x="983" y="601" width="1" height="2" fill="#d0d0d0"/>
<rect x="994" y="601" width="1" height="2" fill="#d0d0d0"/>
<rect x="1005" y="601" width="1" height="2" fill="#d0d0d0"/>
<rect x="1026" y="601" width="1" height="2" fill="#d0d0d0"/>
<rect x="1037" y="601" width="1" height="2" fill="#d0d0d0"/>
<rect x="1048" y="601" width="1" height="2" fill="#d0d0d0"/>
<rect x="1058" y="601" width="1" height="2" fill="#d0d0d0"/>
<rect x="1080" y="601" width="1" height="2" fill="#d0d0d0"/>
<rect x="1091" y="601" width="1" height="2" fill="#d0d0d0"/>
<rect x="1101" y="601" width="1" height="2" fill="#d0d0d0"/>
<rect x="1112" y="601" width="1" height="2" fill="#d0d0d0"/>
<rect x="1133" y="601" width="1" height="2" fill="#d0d0d0"/>
<rect x="1144" y="601" width="1" height="2" fill="#d0d0d0"/>
</g>
<g shape-rendering="crispEdges" fill="#000">
<rect x="97" y="58" width="7" height="2"/>
<rect x="1155" y="597" width="2" height="7"/>
<rect x="98" y="56" width="5" height="2"/>
<rect x="1157" y="598" width="2" height="5"/>
<rect x="99" y="54" width="3" height="2"/>
<rect x="1159" y="599" width="2" height="3"/>
<rect x="100" y="53" width="1" height="1"/>
<rect x="1161" y="600" width="2" height="1"/>
</g>
<text x="67.00" y="69.70" font-size="10.67" textLength="31.43" lengthAdjust="spacingAndGlyphs">85.00</text>
<text x="67.00" y="93.70" font-size="10.67" textLength="31.43" lengthAdjust="spacingAndGlyphs">84.00</text>
<text x="67.00" y="117.70" font-size="10.67" textLength="31.43" lengthAdjust="spacingAndGlyphs">83.00</text>
<text x="67.00" y="141.70" font-size="10.67" textLength="31.43" lengthAdjust="spacingAndGlyphs">82.00</text>
<text x="67.00" y="166.70" font-size="10.67" textLength="31.43" lengthAdjust="spacingAndGlyphs">81.00</text>
<text x="67.00" y="190.70" font-size="10.67" textLength="31.43" lengthAdjust="spacingAndGlyphs">80.00</text>
<text x="67.00" y="214.70" font-size="10.67" textLength="31.43" lengthAdjust="spacingAndGlyphs">79.00</text>
<text x="67.00" y="239.70" font-size="10.67" textLength="31.43" lengthAdjust="spacingAndGlyphs">78.00</text>
<text x="67.00" y="263.70" font-size="10.67" textLength="31.43" lengthAdjust="spacingAndGlyphs">77.00</text>
<text x="67.00" y="287.70" font-size="10.67" textLength="31.43" lengthAdjust="spacingAndGlyphs">76.00</text>
<text x="67.00" y="312.70" font-size="10.67" textLength="31.43" lengthAdjust="spacingAndGlyphs">75.00</text>
<text x="67.00" y="336.70" font-size="10.67" textLength="31.43" lengthAdjust="spacingAndGlyphs">74.00</text>
<text x="67.00" y="360.70" font-size="10.67" textLength="31.43" lengthAdjust="spacingAndGlyphs">73.00</text>
<text x="67.00" y="385.70" font-size="10.67" textLength="31.43" lengthAdjust="spacingAndGlyphs">72.00</text>
<text x="67.00" y="409.70" font-size="10.67" textLength="31.43" lengthAdjust="spacingAndGlyphs">71.00</text>
<text x="67.00" y="433.70" font-size="10.67" textLength="31.43" lengthAdjust="spacingAndGlyphs">70.00</text>
<text x="67.00" y="458.70" font-size="10.67" textLength="31.43" lengthAdjust="spacingAndGlyphs">69.00</text>
<text x="67.00" y="482.70" font-size="10.67" textLength="31.43" lengthAdjust="spacingAndGlyphs">68.00</text>
<text x="67.00" y="506.70" font-size="10.67" textLength="31.43" lengthAdjust="spacingAndGlyphs">67.00</text>
<text x="67.00" y="531.70" font-size="10.67" textLength="31.43" lengthAdjust="spacingAndGlyphs">66.00</text>
<text x="67.00" y="555.70" font-size="10.67" textLength="31.43" lengthAdjust="spacingAndGlyphs">65.00</text>
<text x="67.00" y="579.70" font-size="10.67" textLength="31.43" lengthAdjust="spacingAndGlyphs">64.00</text>
<text x="67.00" y="604.70" font-size="10.67" textLength="31.43" lengthAdjust="spacingAndGlyphs">63.00</text>
<text x="84.67" y="613.00" font-size="10.67" textLength="43.69" lengthAdjust="spacingAndGlyphs">21 Sept</text>
<text x="137.67" y="613.00" font-size="10.67" textLength="43.69" lengthAdjust="spacingAndGlyphs">28 Sept</text>
<text x="198.30" y="613.00" font-size="10.67" textLength="30.31" lengthAdjust="spacingAndGlyphs">5 Oct</text>
<text x="248.46" y="613.00" font-size="10.67" textLength="37.50" lengthAdjust="spacingAndGlyphs">12 Oct</text>
<text x="301.46" y="613.00" font-size="10.67" textLength="37.50" lengthAdjust="spacingAndGlyphs">19 Oct</text>
<text x="355.72" y="613.00" font-size="10.67" textLength="37.50" lengthAdjust="spacingAndGlyphs">26 Oct</text>
<text x="411.11" y="613.00" font-size="10.67" textLength="32.83" lengthAdjust="spacingAndGlyphs">2 Nov</text>
<text x="465.11" y="613.00" font-size="10.67" textLength="32.83" lengthAdjust="spacingAndGlyphs">9 Nov</text>
<text x="514.26" y="613.00" font-size="10.67" textLength="40.02" lengthAdjust="spacingAndGlyphs">16 Nov</text>
<text x="568.53" y="613.00" font-size="10.67" textLength="40.02" lengthAdjust="spacingAndGlyphs">23 Nov</text>
<text x="626.37" y="614.30" font-size="10.67" textLength="32.64" lengthAdjust="spacingAndGlyphs">2 Déc</text>
<text x="679.37" y="614.30" font-size="10.67" textLength="32.64" lengthAdjust="spacingAndGlyphs">9 Déc</text>
<text x="729.53" y="614.30" font-size="10.67" textLength="39.83" lengthAdjust="spacingAndGlyphs">16 Déc</text>
<text x="782.79" y="614.30" font-size="10.67" textLength="39.83" lengthAdjust="spacingAndGlyphs">23 Déc</text>
<text x="839.18" y="613.00" font-size="10.67" textLength="34.88" lengthAdjust="spacingAndGlyphs">2 Janv</text>
<text x="892.18" y="613.00" font-size="10.67" textLength="34.88" lengthAdjust="spacingAndGlyphs">9 Janv</text>
<text x="942.33" y="613.00" font-size="10.67" textLength="42.07" lengthAdjust="spacingAndGlyphs">16 Janv</text>
<text x="996.60" y="613.00" font-size="10.67" textLength="42.07" lengthAdjust="spacingAndGlyphs">23 Janv</text>
<text x="1049.60" y="613.00" font-size="10.67" textLength="42.07" lengthAdjust="spacingAndGlyphs">30 Janv</text>
<text x="1109.16" y="614.30" font-size="10.67" textLength="30.92" lengthAdjust="spacingAndGlyphs">6 Fév</text>
<text x="487.02" y="626.50" font-size="10.67" textLength="278.69" lengthAdjust="spacingAndGlyphs">Date (du 21 Septembre 2016 au 8 Février 2017)</text>
<text transform="translate(62.00 366.55) rotate(-90)" font-size="10.67" textLength="74.06" lengthAdjust="spacingAndGlyphs">Cours (Euro)</text>
<rect x="551" y="51" width="6" height="6" fill="#000" fill-opacity="0.18" shape-rendering="crispEdges"/>
<rect x="550" y="50" width="6" height="6" fill="#c86464" shape-rendering="crispEdges"/>
<text x="559.69" y="56.00" font-size="10.67" textLength="56.44" lengthAdjust="spacingAndGlyphs">Support 1</text>
<rect x="621" y="51" width="6" height="6" fill="#000" fill-opacity="0.18" shape-rendering="crispEdges"/>
<rect x="620" y="50" width="6" height="6" fill="#b46464" shape-rendering="crispEdges"/>
<text x="629.19" y="56.00" font-size="10.67" textLength="56.44" lengthAdjust="spacingAndGlyphs">Support 2</text>
<rect x="689" y="51" width="6" height="6" fill="#000" fill-opacity="0.18" shape-rendering="crispEdges"/>
<rect x="688" y="50" width="6" height="6" fill="#966464" shape-rendering="crispEdges"/>
<text x="697.69" y="56.00" font-size="10.67" textLength="56.16" lengthAdjust="spacingAndGlyphs">Support 3</text>
<rect x="758" y="51" width="6" height="6" fill="#000" fill-opacity="0.18" shape-rendering="crispEdges"/>
<rect x="757" y="50" width="6" height="6" fill="#64c864" shape-rendering="crispEdges"/>
<text x="766.44" y="58.00" font-size="10.67" textLength="71.93" lengthAdjust="spacingAndGlyphs">Résistance 1</text>
<rect x="843" y="51" width="6" height="6" fill="#000" fill-opacity="0.18" shape-rendering="crispEdges"/>
<rect x="842" y="50" width="6" height="6" fill="#64b464" shape-rendering="crispEdges"/>
<text x="851.43" y="58.00" font-size="10.67" textLength="72.72" lengthAdjust="spacingAndGlyphs">Résistance 2</text>
<rect x="929" y="51" width="6" height="6" fill="#000" fill-opacity="0.18" shape-rendering="crispEdges"/>
<rect x="928" y="50" width="6" height="6" fill="#6464ff" shape-rendering="crispEdges"/>
<text x="936.49" y="56.30" font-size="10.67" textLength="32.22" lengthAdjust="spacingAndGlyphs">MM20</text>
<rect x="973" y="51" width="6" height="6" fill="#000" fill-opacity="0.18" shape-rendering="crispEdges"/>
<rect x="972" y="50" width="6" height="6" fill="#b464ff" shape-rendering="crispEdges"/>
<text x="980.99" y="56.30" font-size="10.67" textLength="32.22" lengthAdjust="spacingAndGlyphs">MM50</text>
<rect x="1018" y="51" width="6" height="6" fill="#000" fill-opacity="0.18" shape-rendering="crispEdges"/>
<rect x="1017" y="50" width="6" height="6" fill="#ff64ff" shape-rendering="crispEdges"/>
<text x="1025.97" y="56.30" font-size="10.67" textLength="39.78" lengthAdjust="spacingAndGlyphs">MM100</text>
<text x="110.99" y="694.60" font-size="24" textLength="83.84" lengthAdjust="spacingAndGlyphs" class="T">Sanofi:</text>
<text x="203.27" y="694.60" font-size="24" textLength="119.85" lengthAdjust="spacingAndGlyphs" class="T">graphique</text>
<text x="330.29" y="694.60" font-size="24" textLength="31.81" lengthAdjust="spacingAndGlyphs" class="T">du</text>
<text x="368.26" y="694.60" font-size="24" textLength="87.90" lengthAdjust="spacingAndGlyphs" class="T">volume</text>
<text x="465.54" y="694.60" font-size="24" textLength="9.44" lengthAdjust="spacingAndGlyphs" class="T">-</text>
<text x="483.25" y="694.60" font-size="24" textLength="208.63" lengthAdjust="spacingAndGlyphs" class="T">AnalyBourse.com</text>
<g shape-rendering="crispEdges">
<rect x="102" y="761" width="1049" height="34" fill="#f8f8f8"/>
<rect x="102" y="831" width="1049" height="34" fill="#f8f8f8"/>
</g>
<g shape-rendering="crispEdges" fill="none" stroke-width="1">
<line x1="105.5" y1="725" x2="105.5" y2="900" stroke="#000" stroke-opacity="0.125" stroke-dasharray="4 4" stroke-dashoffset="1"/>
<line x1="116.5" y1="725" x2="116.5" y2="900" stroke="#000" stroke-opacity="0.045" stroke-dasharray="6 6" stroke-dashoffset="1"/>
<line x1="126.5" y1="725" x2="126.5" y2="900" stroke="#000" stroke-opacity="0.045" stroke-dasharray="6 6" stroke-dashoffset="1"/>
<line x1="137.5" y1="725" x2="137.5" y2="900" stroke="#000" stroke-opacity="0.045" stroke-dasharray="6 6" stroke-dashoffset="1"/>
<line x1="148.5" y1="725" x2="148.5" y2="900" stroke="#000" stroke-opacity="0.045" stroke-dasharray="6 6" stroke-dashoffset="1"/>
<line x1="158.5" y1="725" x2="158.5" y2="900" stroke="#000" stroke-opacity="0.125" stroke-dasharray="4 4" stroke-dashoffset="1"/>
<line x1="169.5" y1="725" x2="169.5" y2="900" stroke="#000" stroke-opacity="0.045" stroke-dasharray="6 6" stroke-dashoffset="1"/>
<line x1="180.5" y1="725" x2="180.5" y2="900" stroke="#000" stroke-opacity="0.045" stroke-dasharray="6 6" stroke-dashoffset="1"/>
<line x1="191.5" y1="725" x2="191.5" y2="900" stroke="#000" stroke-opacity="0.045" stroke-dasharray="6 6" stroke-dashoffset="1"/>
<line x1="201.5" y1="725" x2="201.5" y2="900" stroke="#000" stroke-opacity="0.045" stroke-dasharray="6 6" stroke-dashoffset="1"/>
<line x1="212.5" y1="725" x2="212.5" y2="900" stroke="#000" stroke-opacity="0.125" stroke-dasharray="4 4" stroke-dashoffset="1"/>
<line x1="223.5" y1="725" x2="223.5" y2="900" stroke="#000" stroke-opacity="0.045" stroke-dasharray="6 6" stroke-dashoffset="1"/>
<line x1="233.5" y1="725" x2="233.5" y2="900" stroke="#000" stroke-opacity="0.045" stroke-dasharray="6 6" stroke-dashoffset="1"/>
<line x1="244.5" y1="725" x2="244.5" y2="900" stroke="#000" stroke-opacity="0.045" stroke-dasharray="6 6" stroke-dashoffset="1"/>
<line x1="255.5" y1="725" x2="255.5" y2="900" stroke="#000" stroke-opacity="0.045" stroke-dasharray="6 6" stroke-dashoffset="1"/>
<line x1="266.5" y1="725" x2="266.5" y2="900" stroke="#000" stroke-opacity="0.125" stroke-dasharray="4 4" stroke-dashoffset="1"/>
<line x1="276.5" y1="725" x2="276.5" y2="900" stroke="#000" stroke-opacity="0.045" stroke-dasharray="6 6" stroke-dashoffset="1"/>
<line x1="287.5" y1="725" x2="287.5" y2="900" stroke="#000" stroke-opacity="0.045" stroke-dasharray="6 6" stroke-dashoffset="1"/>
<line x1="298.5" y1="725" x2="298.5" y2="900" stroke="#000" stroke-opacity="0.045" stroke-dasharray="6 6" stroke-dashoffset="1"/>
<line x1="308.5" y1="725" x2="308.5" y2="900" stroke="#000" stroke-opacity="0.045" stroke-dasharray="6 6" stroke-dashoffset="1"/>
<line x1="319.5" y1="725" x2="319.5" y2="900" stroke="#000" stroke-opacity="0.125" stroke-dasharray="4 4" stroke-dashoffset="1"/>
<line x1="330.5" y1="725" x2="330.5" y2="900" stroke="#000" stroke-opacity="0.045" stroke-dasharray="6 6" stroke-dashoffset="1"/>
<line x1="341.5" y1="725" x2="341.5" y2="900" stroke="#000" stroke-opacity="0.045" stroke-dasharray="6 6" stroke-dashoffset="1"/>
<line x1="351.5" y1="725" x2="351.5" y2="900" stroke="#000" stroke-opacity="0.045" stroke-dasharray="6 6" stroke-dashoffset="1"/>
<line x1="362.5" y1="725" x2="362.5" y2="900" stroke="#000" stroke-opacity="0.045" stroke-dasharray="6 6" stroke-dashoffset="1"/>
<line x1="373.5" y1="725" x2="373.5" y2="900" stroke="#000" stroke-opacity="0.125" stroke-dasharray="4 4" stroke-dashoffset="1"/>
<line x1="383.5" y1="725" x2="383.5" y2="900" stroke="#000" stroke-opacity="0.045" stroke-dasharray="6 6" stroke-dashoffset="1"/>
<line x1="394.5" y1="725" x2="394.5" y2="900" stroke="#000" stroke-opacity="0.045" stroke-dasharray="6 6" stroke-dashoffset="1"/>
<line x1="405.5" y1="725" x2="405.5" y2="900" stroke="#000" stroke-opacity="0.045" stroke-dasharray="6 6" stroke-dashoffset="1"/>
<line x1="416.5" y1="725" x2="416.5" y2="900" stroke="#000" stroke-opacity="0.045" stroke-dasharray="6 6" stroke-dashoffset="1"/>
<line x1="426.5" y1="725" x2="426.5" y2="900" stroke="#000" stroke-opacity="0.125" stroke-dasharray="4 4" stroke-dashoffset="1"/>
<line x1="437.5" y1="725" x2="437.5" y2="900" stroke="#000" stroke-opacity="0.045" stroke-dasharray="6 6" stroke-dashoffset="1"/>
<line x1="448.5" y1="725" x2="448.5" y2="900" stroke="#000" stroke-opacity="0.045" stroke-dasharray="6 6" stroke-dashoffset="1"/>
<line x1="458.5" y1="725" x2="458.5" y2="900" stroke="#000" stroke-opacity="0.045" stroke-dasharray="6 6" stroke-dashoffset="1"/>
<line x1="469.5" y1="725" x2="469.5" y2="900" stroke="#000" stroke-opacity="0.045" stroke-dasharray="6 6" stroke-dashoffset="1"/>
<line x1="480.5" y1="725" x2="480.5" y2="900" stroke="#000" stroke-opacity="0.125" stroke-dasharray="4 4" stroke-dashoffset="1"/>
<line x1="491.5" y1="725" x2="491.5" y2="900" stroke="#000" stroke-opacity="0.045" stroke-dasharray="6 6" stroke-dashoffset="1"/>
<line x1="501.5" y1="725" x2="501.5" y2="900" stroke="#000" stroke-opacity="0.045" stroke-dasharray="6 6" stroke-dashoffset="1"/>
<line x1="512.5" y1="725" x2="512.5" y2="900" stroke="#000" stroke-opacity="0.045" stroke-dasharray="6 6" stroke-dashoffset="1"/>
<line x1="523.5" y1="725" x2="523.5" y2="900" stroke="#000" stroke-opacity="0.045" stroke-dasharray="6 6" stroke-dashoffset="1"/>
<line x1="533.5" y1="725" x2="533.5" y2="900" stroke="#000" stroke-opacity="0.125" stroke-dasharray="4 4" stroke-dashoffset="1"/>
<line x1="544.5" y1="725" x2="544.5" y2="900" stroke="#000" stroke-opacity="0.045" stroke-dasharray="6 6" stroke-dashoffset="1"/>
<line x1="555.5" y1="725" x2="555.5" y2="900" stroke="#000" stroke-opacity="0.045" stroke-dasharray="6 6" stroke-dashoffset="1"/>
<line x1="566.5" y1="725" x2="566.5" y2="900" stroke="#000" stroke-opacity="0.045" stroke-dasharray="6 6" stroke-dashoffset="1"/>
<line x1="576.5" y1="725" x2="576.5" y2="900" stroke="#000" stroke-opacity="0.045" stroke-dasharray="6 6" stroke-dashoffset="1"/>
<line x1="587.5" y1="725" x2="587.5" y2="900" stroke="#000" stroke-opacity="0.125" stroke-dasharray="4 4" stroke-dashoffset="1"/>
<line x1="598.5" y1="725" x2="598.5" y2="900" stroke="#000" stroke-opacity="0.045" stroke-dasharray="6 6" stroke-dashoffset="1"/>
<line x1="608.5" y1="725" x2="608.5" y2="900" stroke="#000" stroke-opacity="0.045" stroke-dasharray="6 6" stroke-dashoffset="1"/>
<line x1="619.5" y1="725" x2="619.5" y2="900" stroke="#000" stroke-opacity="0.045" stroke-dasharray="6 6" stroke-dashoffset="1"/>
<line x1="630.5" y1="725" x2="630.5" y2="900" stroke="#000" stroke-opacity="0.045" stroke-dasharray="6 6" stroke-dashoffset="1"/>
<line x1="641.5" y1="725" x2="641.5" y2="900" stroke="#000" stroke-opacity="0.125" stroke-dasharray="4 4" stroke-dashoffset="1"/>
<line x1="651.5" y1="725" x2="651.5" y2="900" stroke="#000" stroke-opacity="0.045" stroke-dasharray="6 6" stroke-dashoffset="1"/>
<line x1="662.5" y1="725" x2="662.5" y2="900" stroke="#000" stroke-opacity="0.045" stroke-dasharray="6 6" stroke-dashoffset="1"/>
<line x1="673.5" y1="725" x2="673.5" y2="900" stroke="#000" stroke-opacity="0.045" stroke-dasharray="6 6" stroke-dashoffset="1"/>
<line x1="683.5" y1="725" x2="683.5" y2="900" stroke="#000" stroke-opacity="0.045" stroke-dasharray="6 6" stroke-dashoffset="1"/>
<line x1="694.5" y1="725" x2="694.5" y2="900" stroke="#000" stroke-opacity="0.125" stroke-dasharray="4 4" stroke-dashoffset="1"/>
<line x1="705.5" y1="725" x2="705.5" y2="900" stroke="#000" stroke-opacity="0.045" stroke-dasharray="6 6" stroke-dashoffset="1"/>
<line x1="716.5" y1="725" x2="716.5" y2="900" stroke="#000" stroke-opacity="0.045" stroke-dasharray="6 6" stroke-dashoffset="1"/>
<line x1="726.5" y1="725" x2="726.5" y2="900" stroke="#000" stroke-opacity="0.045" stroke-dasharray="6 6" stroke-dashoffset="1"/>
<line x1="737.5" y1="725" x2="737.5" y2="900" stroke="#000" stroke-opacity="0.045" stroke-dasharray="6 6" stroke-dashoffset="1"/>
<line x1="748.5" y1="725" x2="748.5" y2="900" stroke="#000" stroke-opacity="0.125" stroke-dasharray="4 4" stroke-dashoffset="1"/>
<line x1="758.5" y1="725" x2="758.5" y2="900" stroke="#000" stroke-opacity="0.045" stroke-dasharray="6 6" stroke-dashoffset="1"/>
<line x1="769.5" y1="725" x2="769.5" y2="900" stroke="#000" stroke-opacity="0.045" stroke-dasharray="6 6" stroke-dashoffset="1"/>
<line x1="780.5" y1="725" x2="780.5" y2="900" stroke="#000" stroke-opacity="0.045" stroke-dasharray="6 6" stroke-dashoffset="1"/>
<line x1="791.5" y1="725" x2="791.5" y2="900" stroke="#000" stroke-opacity="0.045" stroke-dasharray="6 6" stroke-dashoffset="1"/>
<line x1="801.5" y1="725" x2="801.5" y2="900" stroke="#000" stroke-opacity="0.125" stroke-dasharray="4 4" stroke-dashoffset="1"/>
<line x1="812.5" y1="725" x2="812.5" y2="900" stroke="#000" stroke-opacity="0.045" stroke-dasharray="6 6" stroke-dashoffset="1"/>
<line x1="823.5" y1="725" x2="823.5" y2="900" stroke="#000" stroke-opacity="0.045" stroke-dasharray="6 6" stroke-dashoffset="1"/>
<line x1="833.5" y1="725" x2="833.5" y2="900" stroke="#000" stroke-opacity="0.045" stroke-dasharray="6 6" stroke-dashoffset="1"/>
<line x1="844.5" y1="725" x2="844.5" y2="900" stroke="#000" stroke-opacity="0.045" stroke-dasharray="6 6" stroke-dashoffset="1"/>
<line x1="855.5" y1="725" x2="855.5" y2="900" stroke="#000" stroke-opacity="0.125" stroke-dasharray="4 4" stroke-dashoffset="1"/>
<line x1="866.5" y1="725" x2="866.5" y2="900" stroke="#000" stroke-opacity="0.045" stroke-dasharray="6 6" stroke-dashoffset="1"/>
<line x1="876.5" y1="725" x2="876.5" y2="900" stroke="#000" stroke-opacity="0.045" stroke-dasharray="6 6" stroke-dashoffset="1"/>
<line x1="887.5" y1="725" x2="887.5" y2="900" stroke="#000" stroke-opacity="0.045" stroke-dasharray="6 6" stroke-dashoffset="1"/>
<line x1="898.5" y1="725" x2="898.5" y2="900" stroke="#000" stroke-opacity="0.045" stroke-dasharray="6 6" stroke-dashoffset="1"/>
<line x1="908.5" y1="725" x2="908.5" y2="900" stroke="#000" stroke-opacity="0.125" stroke-dasharray="4 4" stroke-dashoffset="1"/>
<line x1="919.5" y1="725" x2="919.5" y2="900" stroke="#000" stroke-opacity="0.045" stroke-dasharray="6 6" stroke-dashoffset="1"/>
<line x1="930.5" y1="725" x2="930.5" y2="900" stroke="#000" stroke-opacity="0.045" stroke-dasharray="6 6" stroke-dashoffset="1"/>
<line x1="941.5" y1="725" x2="941.5" y2="900" stroke="#000" stroke-opacity="0.045" stroke-dasharray="6 6" stroke-dashoffset="1"/>
<line x1="951.5" y1="725" x2="951.5" y2="900" stroke="#000" stroke-opacity="0.045" stroke-dasharray="6 6" stroke-dashoffset="1"/>
<line x1="962.5" y1="725" x2="962.5" y2="900" stroke="#000" stroke-opacity="0.125" stroke-dasharray="4 4" stroke-dashoffset="1"/>
<line x1="973.5" y1="725" x2="973.5" y2="900" stroke="#000" stroke-opacity="0.045" stroke-dasharray="6 6" stroke-dashoffset="1"/>
<line x1="983.5" y1="725" x2="983.5" y2="900" stroke="#000" stroke-opacity="0.045" stroke-dasharray="6 6" stroke-dashoffset="1"/>
<line x1="994.5" y1="725" x2="994.5" y2="900" stroke="#000" stroke-opacity="0.045" stroke-dasharray="6 6" stroke-dashoffset="1"/>
<line x1="1005.5" y1="725" x2="1005.5" y2="900" stroke="#000" stroke-opacity="0.045" stroke-dasharray="6 6" stroke-dashoffset="1"/>
<line x1="1016.5" y1="725" x2="1016.5" y2="900" stroke="#000" stroke-opacity="0.125" stroke-dasharray="4 4" stroke-dashoffset="1"/>
<line x1="1026.5" y1="725" x2="1026.5" y2="900" stroke="#000" stroke-opacity="0.045" stroke-dasharray="6 6" stroke-dashoffset="1"/>
<line x1="1037.5" y1="725" x2="1037.5" y2="900" stroke="#000" stroke-opacity="0.045" stroke-dasharray="6 6" stroke-dashoffset="1"/>
<line x1="1048.5" y1="725" x2="1048.5" y2="900" stroke="#000" stroke-opacity="0.045" stroke-dasharray="6 6" stroke-dashoffset="1"/>
<line x1="1058.5" y1="725" x2="1058.5" y2="900" stroke="#000" stroke-opacity="0.045" stroke-dasharray="6 6" stroke-dashoffset="1"/>
<line x1="1069.5" y1="725" x2="1069.5" y2="900" stroke="#000" stroke-opacity="0.125" stroke-dasharray="4 4" stroke-dashoffset="1"/>
<line x1="1080.5" y1="725" x2="1080.5" y2="900" stroke="#000" stroke-opacity="0.045" stroke-dasharray="6 6" stroke-dashoffset="1"/>
<line x1="1091.5" y1="725" x2="1091.5" y2="900" stroke="#000" stroke-opacity="0.045" stroke-dasharray="6 6" stroke-dashoffset="1"/>
<line x1="1101.5" y1="725" x2="1101.5" y2="900" stroke="#000" stroke-opacity="0.045" stroke-dasharray="6 6" stroke-dashoffset="1"/>
<line x1="1112.5" y1="725" x2="1112.5" y2="900" stroke="#000" stroke-opacity="0.045" stroke-dasharray="6 6" stroke-dashoffset="1"/>
<line x1="1123.5" y1="725" x2="1123.5" y2="900" stroke="#000" stroke-opacity="0.125" stroke-dasharray="4 4" stroke-dashoffset="1"/>
<line x1="1133.5" y1="725" x2="1133.5" y2="900" stroke="#000" stroke-opacity="0.045" stroke-dasharray="6 6" stroke-dashoffset="1"/>
<line x1="1144.5" y1="725" x2="1144.5" y2="900" stroke="#000" stroke-opacity="0.045" stroke-dasharray="6 6" stroke-dashoffset="1"/>
<line x1="102" y1="725.5" x2="1151" y2="725.5" stroke="#000" stroke-opacity="0.115" stroke-dasharray="4 4" stroke-dashoffset="3"/>
<line x1="102" y1="760.5" x2="1151" y2="760.5" stroke="#000" stroke-opacity="0.115" stroke-dasharray="4 4" stroke-dashoffset="3"/>
<line x1="102" y1="795.5" x2="1151" y2="795.5" stroke="#000" stroke-opacity="0.115" stroke-dasharray="4 4" stroke-dashoffset="3"/>
<line x1="102" y1="830.5" x2="1151" y2="830.5" stroke="#000" stroke-opacity="0.115" stroke-dasharray="4 4" stroke-dashoffset="3"/>
<line x1="102" y1="865.5" x2="1151" y2="865.5" stroke="#000" stroke-opacity="0.115" stroke-dasharray="4 4" stroke-dashoffset="3"/>
</g>
<g shape-rendering="crispEdges">
<rect x="101" y="858" width="8" height="42" fill="#ff0000" fill-opacity="0.64"/>
<rect x="108" y="858" width="1" height="42" fill="#ff0000" fill-opacity="0.2"/>
<rect x="112" y="841" width="8" height="59" fill="#00ff00" fill-opacity="0.64"/>
<rect x="119" y="841" width="1" height="59" fill="#00ff00" fill-opacity="0.2"/>
<rect x="123" y="858" width="8" height="42" fill="#ff0000" fill-opacity="0.64"/>
<rect x="130" y="858" width="1" height="42" fill="#ff0000" fill-opacity="0.2"/>
<rect x="133" y="854" width="8" height="46" fill="#ff0000" fill-opacity="0.64"/>
<rect x="140" y="854" width="1" height="46" fill="#ff0000" fill-opacity="0.2"/>
<rect x="144" y="853" width="8" height="47" fill="#ff0000" fill-opacity="0.64"/>
<rect x="151" y="853" width="1" height="47" fill="#ff0000" fill-opacity="0.2"/>
<rect x="155" y="864" width="8" height="36" fill="#00ff00" fill-opacity="0.64"/>
<rect x="162" y="864" width="1" height="36" fill="#00ff00" fill-opacity="0.2"/>
<rect x="166" y="868" width="8" height="32" fill="#ff0000" fill-opacity="0.64"/>
<rect x="173" y="868" width="1" height="32" fill="#ff0000" fill-opacity="0.2"/>
<rect x="176" y="841" width="8" height="59" fill="#00ff00" fill-opacity="0.64"/>
<rect x="183" y="841" width="1" height="59" fill="#00ff00" fill-opacity="0.2"/>
<rect x="187" y="869" width="8" height="31" fill="#00ff00" fill-opacity="0.64"/>
<rect x="194" y="869" width="1" height="31" fill="#00ff00" fill-opacity="0.2"/>
<rect x="198" y="844" width="8" height="56" fill="#00ff00" fill-opacity="0.64"/>
<rect x="205" y="844" width="1" height="56" fill="#00ff00" fill-opacity="0.2"/>
<rect x="209" y="864" width="8" height="36" fill="#00ff00" fill-opacity="0.64"/>
<rect x="216" y="864" width="1" height="36" fill="#00ff00" fill-opacity="0.2"/>
<rect x="219" y="855" width="8" height="45" fill="#ff0000" fill-opacity="0.64"/>
<rect x="226" y="855" width="1" height="45" fill="#ff0000" fill-opacity="0.2"/>
<rect x="230" y="851" width="8" height="49" fill="#00ff00" fill-opacity="0.64"/>
<rect x="237" y="851" width="1" height="49" fill="#00ff00" fill-opacity="0.2"/>
<rect x="241" y="866" width="8" height="34" fill="#00ff00" fill-opacity="0.64"/>
<rect x="248" y="866" width="1" height="34" fill="#00ff00" fill-opacity="0.2"/>
<rect x="251" y="865" width="8" height="35" fill="#ff0000" fill-opacity="0.64"/>
<rect x="258" y="865" width="1" height="35" fill="#ff0000" fill-opacity="0.2"/>
<rect x="262" y="867" width="8" height="33" fill="#ff0000" fill-opacity="0.64"/>
<rect x="269" y="867" width="1" height="33" fill="#ff0000" fill-opacity="0.2"/>
<rect x="273" y="851" width="8" height="49" fill="#00ff00" fill-opacity="0.64"/>
<rect x="280" y="851" width="1" height="49" fill="#00ff00" fill-opacity="0.2"/>
<rect x="284" y="867" width="8" height="33" fill="#00ff00" fill-opacity="0.64"/>
<rect x="291" y="867" width="1" height="33" fill="#00ff00" fill-opacity="0.2"/>
<rect x="294" y="865" width="8" height="35" fill="#ff0000" fill-opacity="0.64"/>
<rect x="301" y="865" width="1" height="35" fill="#ff0000" fill-opacity="0.2"/>
<rect x="305" y="863" width="8" height="37" fill="#00ff00" fill-opacity="0.64"/>
<rect x="312" y="863" width="1" height="37" fill="#00ff00" fill-opacity="0.2"/>
<rect x="316" y="875" width="8" height="25" fill="#ff0000" fill-opacity="0.64"/>
<rect x="323" y="875" width="1" height="25" fill="#ff0000" fill-opacity="0.2"/>
<rect x="326" y="862" width="8" height="38" fill="#00ff00" fill-opacity="0.64"/>
<rect x="333" y="862" width="1" height="38" fill="#00ff00" fill-opacity="0.2"/>
<rect x="337" y="868" width="8" height="32" fill="#ff0000" fill-opacity="0.64"/>
<rect x="344" y="868" width="1" height="32" fill="#ff0000" fill-opacity="0.2"/>
<rect x="348" y="874" width="8" height="26" fill="#ff0000" fill-opacity="0.64"/>
<rect x="355" y="874" width="1" height="26" fill="#ff0000" fill-opacity="0.2"/>
<rect x="359" y="866" width="8" height="34" fill="#ff0000" fill-opacity="0.64"/>
<rect x="366" y="866" width="1" height="34" fill="#ff0000" fill-opacity="0.2"/>
<rect x="369" y="860" width="8" height="40" fill="#ff0000" fill-opacity="0.64"/>
<rect x="376" y="860" width="1" height="40" fill="#ff0000" fill-opacity="0.2"/>
<rect x="380" y="858" width="8" height="42" fill="#00ff00" fill-opacity="0.64"/>
<rect x="387" y="858" width="1" height="42" fill="#00ff00" fill-opacity="0.2"/>
<rect x="391" y="775" width="8" height="125" fill="#ff0000" fill-opacity="0.64"/>
<rect x="398" y="775" width="1" height="125" fill="#ff0000" fill-opacity="0.2"/>
<rect x="401" y="834" width="8" height="66" fill="#ff0000" fill-opacity="0.64"/>
<rect x="408" y="834" width="1" height="66" fill="#ff0000" fill-opacity="0.2"/>
<rect x="412" y="846" width="8" height="54" fill="#ff0000" fill-opacity="0.64"/>
<rect x="419" y="846" width="1" height="54" fill="#ff0000" fill-opacity="0.2"/>
<rect x="423" y="838" width="8" height="62" fill="#00ff00" fill-opacity="0.64"/>
<rect x="430" y="838" width="1" height="62" fill="#00ff00" fill-opacity="0.2"/>
<rect x="434" y="834" width="8" height="66" fill="#00ff00" fill-opacity="0.64"/>
<rect x="441" y="834" width="1" height="66" fill="#00ff00" fill-opacity="0.2"/>
<rect x="444" y="840" width="8" height="60" fill="#00ff00" fill-opacity="0.64"/>
<rect x="451" y="840" width="1" height="60" fill="#00ff00" fill-opacity="0.2"/>
<rect x="455" y="854" width="8" height="46" fill="#ff0000" fill-opacity="0.64"/>
<rect x="462" y="854" width="1" height="46" fill="#ff0000" fill-opacity="0.2"/>
<rect x="466" y="856" width="8" height="44" fill="#00ff00" fill-opacity="0.64"/>
<rect x="473" y="856" width="1" height="44" fill="#00ff00" fill-opacity="0.2"/>
<rect x="476" y="758" width="8" height="142" fill="#00ff00" fill-opacity="0.64"/>
<rect x="483" y="758" width="1" height="142" fill="#00ff00" fill-opacity="0.2"/>
<rect x="487" y="798" width="8" height="102" fill="#ff0000" fill-opacity="0.64"/>
<rect x="494" y="798" width="1" height="102" fill="#ff0000" fill-opacity="0.2"/>
<rect x="498" y="839" width="8" height="61" fill="#ff0000" fill-opacity="0.64"/>
<rect x="505" y="839" width="1" height="61" fill="#ff0000" fill-opacity="0.2"/>
<rect x="509" y="840" width="8" height="60" fill="#00ff00" fill-opacity="0.64"/>
<rect x="516" y="840" width="1" height="60" fill="#00ff00" fill-opacity="0.2"/>
<rect x="519" y="862" width="8" height="38" fill="#ff0000" fill-opacity="0.64"/>
<rect x="526" y="862" width="1" height="38" fill="#ff0000" fill-opacity="0.2"/>
<rect x="530" y="850" width="8" height="50" fill="#00ff00" fill-opacity="0.64"/>
<rect x="537" y="850" width="1" height="50" fill="#00ff00" fill-opacity="0.2"/>
<rect x="541" y="849" width="8" height="51" fill="#00ff00" fill-opacity="0.64"/>
<rect x="548" y="849" width="1" height="51" fill="#00ff00" fill-opacity="0.2"/>
<rect x="551" y="844" width="8" height="56" fill="#ff0000" fill-opacity="0.64"/>
<rect x="558" y="844" width="1" height="56" fill="#ff0000" fill-opacity="0.2"/>
<rect x="562" y="857" width="8" height="43" fill="#ff0000" fill-opacity="0.64"/>
<rect x="569" y="857" width="1" height="43" fill="#ff0000" fill-opacity="0.2"/>
<rect x="573" y="843" width="8" height="57" fill="#ff0000" fill-opacity="0.64"/>
<rect x="580" y="843" width="1" height="57" fill="#ff0000" fill-opacity="0.2"/>
<rect x="584" y="848" width="8" height="52" fill="#ff0000" fill-opacity="0.64"/>
<rect x="591" y="848" width="1" height="52" fill="#ff0000" fill-opacity="0.2"/>
<rect x="594" y="871" width="8" height="29" fill="#00ff00" fill-opacity="0.64"/>
<rect x="601" y="871" width="1" height="29" fill="#00ff00" fill-opacity="0.2"/>
<rect x="605" y="889" width="8" height="11" fill="#00ff00" fill-opacity="0.64"/>
<rect x="612" y="889" width="1" height="11" fill="#00ff00" fill-opacity="0.2"/>
<rect x="616" y="842" width="8" height="58" fill="#ff0000" fill-opacity="0.64"/>
<rect x="623" y="842" width="1" height="58" fill="#ff0000" fill-opacity="0.2"/>
<rect x="626" y="848" width="8" height="52" fill="#ff0000" fill-opacity="0.64"/>
<rect x="633" y="848" width="1" height="52" fill="#ff0000" fill-opacity="0.2"/>
<rect x="637" y="854" width="8" height="46" fill="#00ff00" fill-opacity="0.64"/>
<rect x="644" y="854" width="1" height="46" fill="#00ff00" fill-opacity="0.2"/>
<rect x="648" y="853" width="8" height="47" fill="#00ff00" fill-opacity="0.64"/>
<rect x="655" y="853" width="1" height="47" fill="#00ff00" fill-opacity="0.2"/>
<rect x="659" y="839" width="8" height="61" fill="#00ff00" fill-opacity="0.64"/>
<rect x="666" y="839" width="1" height="61" fill="#00ff00" fill-opacity="0.2"/>
<rect x="669" y="816" width="8" height="84" fill="#ff0000" fill-opacity="0.64"/>
<rect x="676" y="816" width="1" height="84" fill="#ff0000" fill-opacity="0.2"/>
<rect x="680" y="827" width="8" height="73" fill="#ff0000" fill-opacity="0.64"/>
<rect x="687" y="827" width="1" height="73" fill="#ff0000" fill-opacity="0.2"/>
<rect x="691" y="846" width="8" height="54" fill="#00ff00" fill-opacity="0.64"/>
<rect x="698" y="846" width="1" height="54" fill="#00ff00" fill-opacity="0.2"/>
<rect x="701" y="853" width="8" height="47" fill="#00ff00" fill-opacity="0.64"/>
<rect x="708" y="853" width="1" height="47" fill="#00ff00" fill-opacity="0.2"/>
<rect x="712" y="848" width="8" height="52" fill="#00ff00" fill-opacity="0.64"/>
<rect x="719" y="848" width="1" height="52" fill="#00ff00" fill-opacity="0.2"/>
<rect x="723" y="817" width="8" height="83" fill="#ff0000" fill-opacity="0.64"/>
<rect x="730" y="817" width="1" height="83" fill="#ff0000" fill-opacity="0.2"/>
<rect x="734" y="828" width="8" height="72" fill="#00ff00" fill-opacity="0.64"/>
<rect x="741" y="828" width="1" height="72" fill="#00ff00" fill-opacity="0.2"/>
<rect x="744" y="726" width="8" height="174" fill="#ff0000" fill-opacity="0.64"/>
<rect x="751" y="726" width="1" height="174" fill="#ff0000" fill-opacity="0.2"/>
<rect x="755" y="847" width="8" height="53" fill="#00ff00" fill-opacity="0.64"/>
<rect x="762" y="847" width="1" height="53" fill="#00ff00" fill-opacity="0.2"/>
<rect x="766" y="852" width="8" height="48" fill="#00ff00" fill-opacity="0.64"/>
<rect x="773" y="852" width="1" height="48" fill="#00ff00" fill-opacity="0.2"/>
<rect x="776" y="861" width="8" height="39" fill="#00ff00" fill-opacity="0.64"/>
<rect x="783" y="861" width="1" height="39" fill="#00ff00" fill-opacity="0.2"/>
<rect x="787" y="861" width="8" height="39" fill="#00ff00" fill-opacity="0.64"/>
<rect x="794" y="861" width="1" height="39" fill="#00ff00" fill-opacity="0.2"/>
<rect x="798" y="870" width="8" height="30" fill="#ff0000" fill-opacity="0.64"/>
<rect x="805" y="870" width="1" height="30" fill="#ff0000" fill-opacity="0.2"/>
<rect x="809" y="879" width="8" height="21" fill="#00ff00" fill-opacity="0.64"/>
<rect x="816" y="879" width="1" height="21" fill="#00ff00" fill-opacity="0.2"/>
<rect x="819" y="876" width="8" height="24" fill="#ff0000" fill-opacity="0.64"/>
<rect x="826" y="876" width="1" height="24" fill="#ff0000" fill-opacity="0.2"/>
<rect x="830" y="881" width="8" height="19" fill="#00ff00" fill-opacity="0.64"/>
<rect x="837" y="881" width="1" height="19" fill="#00ff00" fill-opacity="0.2"/>
<rect x="841" y="865" width="8" height="35" fill="#00ff00" fill-opacity="0.64"/>
<rect x="848" y="865" width="1" height="35" fill="#00ff00" fill-opacity="0.2"/>
<rect x="851" y="875" width="8" height="25" fill="#00ff00" fill-opacity="0.64"/>
<rect x="858" y="875" width="1" height="25" fill="#00ff00" fill-opacity="0.2"/>
<rect x="862" y="859" width="8" height="41" fill="#00ff00" fill-opacity="0.64"/>
<rect x="869" y="859" width="1" height="41" fill="#00ff00" fill-opacity="0.2"/>
<rect x="873" y="858" width="8" height="42" fill="#00ff00" fill-opacity="0.64"/>
<rect x="880" y="858" width="1" height="42" fill="#00ff00" fill-opacity="0.2"/>
<rect x="884" y="857" width="8" height="43" fill="#00ff00" fill-opacity="0.64"/>
<rect x="891" y="857" width="1" height="43" fill="#00ff00" fill-opacity="0.2"/>
<rect x="894" y="831" width="8" height="69" fill="#ff0000" fill-opacity="0.64"/>
<rect x="901" y="831" width="1" height="69" fill="#ff0000" fill-opacity="0.2"/>
<rect x="905" y="861" width="8" height="39" fill="#00ff00" fill-opacity="0.64"/>
<rect x="912" y="861" width="1" height="39" fill="#00ff00" fill-opacity="0.2"/>
<rect x="916" y="856" width="8" height="44" fill="#00ff00" fill-opacity="0.64"/>
<rect x="923" y="856" width="1" height="44" fill="#00ff00" fill-opacity="0.2"/>
<rect x="926" y="859" width="8" height="41" fill="#ff0000" fill-opacity="0.64"/>
<rect x="933" y="859" width="1" height="41" fill="#ff0000" fill-opacity="0.2"/>
<rect x="937" y="845" width="8" height="55" fill="#ff0000" fill-opacity="0.64"/>
<rect x="944" y="845" width="1" height="55" fill="#ff0000" fill-opacity="0.2"/>
<rect x="948" y="856" width="8" height="44" fill="#00ff00" fill-opacity="0.64"/>
<rect x="955" y="856" width="1" height="44" fill="#00ff00" fill-opacity="0.2"/>
<rect x="959" y="866" width="8" height="34" fill="#ff0000" fill-opacity="0.64"/>
<rect x="966" y="866" width="1" height="34" fill="#ff0000" fill-opacity="0.2"/>
<rect x="969" y="858" width="8" height="42" fill="#ff0000" fill-opacity="0.64"/>
<rect x="976" y="858" width="1" height="42" fill="#ff0000" fill-opacity="0.2"/>
<rect x="980" y="868" width="8" height="32" fill="#00ff00" fill-opacity="0.64"/>
<rect x="987" y="868" width="1" height="32" fill="#00ff00" fill-opacity="0.2"/>
<rect x="991" y="864" width="8" height="36" fill="#ff0000" fill-opacity="0.64"/>
<rect x="998" y="864" width="1" height="36" fill="#ff0000" fill-opacity="0.2"/>
<rect x="1001" y="841" width="8" height="59" fill="#ff0000" fill-opacity="0.64"/>
<rect x="1008" y="841" width="1" height="59" fill="#ff0000" fill-opacity="0.2"/>
<rect x="1012" y="867" width="8" height="33" fill="#ff0000" fill-opacity="0.64"/>
<rect x="1019" y="867" width="1" height="33" fill="#ff0000" fill-opacity="0.2"/>
<rect x="1023" y="859" width="8" height="41" fill="#ff0000" fill-opacity="0.64"/>
<rect x="1030" y="859" width="1" height="41" fill="#ff0000" fill-opacity="0.2"/>
<rect x="1034" y="849" width="8" height="51" fill="#ff0000" fill-opacity="0.64"/>
<rect x="1041" y="849" width="1" height="51" fill="#ff0000" fill-opacity="0.2"/>
<rect x="1044" y="857" width="8" height="43" fill="#00ff00" fill-opacity="0.64"/>
<rect x="1051" y="857" width="1" height="43" fill="#00ff00" fill-opacity="0.2"/>
<rect x="1055" y="861" width="8" height="39" fill="#ff0000" fill-opacity="0.64"/>
<rect x="1062" y="861" width="1" height="39" fill="#ff0000" fill-opacity="0.2"/>
<rect x="1066" y="861" width="8" height="39" fill="#00ff00" fill-opacity="0.64"/>
<rect x="1073" y="861" width="1" height="39" fill="#00ff00" fill-opacity="0.2"/>
<rect x="1076" y="841" width="8" height="59" fill="#ff0000" fill-opacity="0.64"/>
<rect x="1083" y="841" width="1" height="59" fill="#ff0000" fill-opacity="0.2"/>
<rect x="1087" y="853" width="8" height="47" fill="#00ff00" fill-opacity="0.64"/>
<rect x="1094" y="853" width="1" height="47" fill="#00ff00" fill-opacity="0.2"/>
<rect x="1098" y="863" width="8" height="37" fill="#ff0000" fill-opacity="0.64"/>
<rect x="1105" y="863" width="1" height="37" fill="#ff0000" fill-opacity="0.2"/>
<rect x="1109" y="870" width="8" height="30" fill="#00ff00" fill-opacity="0.64"/>
<rect x="1116" y="870" width="1" height="30" fill="#00ff00" fill-opacity="0.2"/>
<rect x="1119" y="866" width="8" height="34" fill="#00ff00" fill-opacity="0.64"/>
<rect x="1126" y="866" width="1" height="34" fill="#00ff00" fill-opacity="0.2"/>
<rect x="1130" y="864" width="8" height="36" fill="#00ff00" fill-opacity="0.64"/>
<rect x="1137" y="864" width="1" height="36" fill="#00ff00" fill-opacity="0.2"/>
<rect x="1141" y="884" width="8" height="16" fill="#00ff00" fill-opacity="0.64"/>
<rect x="1148" y="884" width="1" height="16" fill="#00ff00" fill-opacity="0.2"/>
</g>
<g shape-rendering="crispEdges">
<rect x="100" y="718" width="1" height="183" fill="#000"/>
<rect x="100" y="900" width="1056" height="1" fill="#000"/>
<rect x="98" y="725" width="5" height="1" fill="#000"/>
<rect x="98" y="742" width="2" height="1" fill="#f00"/>
<rect x="98" y="760" width="5" height="1" fill="#000"/>
<rect x="98" y="777" width="2" height="1" fill="#f00"/>
<rect x="98" y="795" width="5" height="1" fill="#000"/>
<rect x="98" y="812" width="2" height="1" fill="#f00"/>
<rect x="98" y="830" width="5" height="1" fill="#000"/>
<rect x="98" y="847" width="2" height="1" fill="#f00"/>
<rect x="98" y="865" width="5" height="1" fill="#000"/>
<rect x="98" y="882" width="2" height="1" fill="#f00"/>
<rect x="98" y="900" width="5" height="1" fill="#000"/>
<rect x="105" y="898" width="1" height="5" fill="#000"/>
<rect x="158" y="898" width="1" height="5" fill="#000"/>
<rect x="212" y="898" width="1" height="5" fill="#000"/>
<rect x="266" y="898" width="1" height="5" fill="#000"/>
<rect x="319" y="898" width="1" height="5" fill="#000"/>
<rect x="373" y="898" width="1" height="5" fill="#000"/>
<rect x="426" y="898" width="1" height="5" fill="#000"/>
<rect x="480" y="898" width="1" height="5" fill="#000"/>
<rect x="533" y="898" width="1" height="5" fill="#000"/>
<rect x="587" y="898" width="1" height="5" fill="#000"/>
<rect x="641" y="898" width="1" height="5" fill="#000"/>
<rect x="694" y="898" width="1" height="5" fill="#000"/>
<rect x="748" y="898" width="1" height="5" fill="#000"/>
<rect x="801" y="898" width="1" height="5" fill="#000"/>
<rect x="855" y="898" width="1" height="5" fill="#000"/>
<rect x="908" y="898" width="1" height="5" fill="#000"/>
<rect x="962" y="898" width="1" height="5" fill="#000"/>
<rect x="1016" y="898" width="1" height="5" fill="#000"/>
<rect x="1069" y="898" width="1" height="5" fill="#000"/>
<rect x="1123" y="898" width="1" height="5" fill="#000"/>
<rect x="116" y="901" width="1" height="2" fill="#d0d0d0"/>
<rect x="126" y="901" width="1" height="2" fill="#d0d0d0"/>
<rect x="137" y="901" width="1" height="2" fill="#d0d0d0"/>
<rect x="148" y="901" width="1" height="2" fill="#d0d0d0"/>
<rect x="169" y="901" width="1" height="2" fill="#d0d0d0"/>
<rect x="180" y="901" width="1" height="2" fill="#d0d0d0"/>
<rect x="191" y="901" width="1" height="2" fill="#d0d0d0"/>
<rect x="201" y="901" width="1" height="2" fill="#d0d0d0"/>
<rect x="223" y="901" width="1" height="2" fill="#d0d0d0"/>
<rect x="233" y="901" width="1" height="2" fill="#d0d0d0"/>
<rect x="244" y="901" width="1" height="2" fill="#d0d0d0"/>
<rect x="255" y="901" width="1" height="2" fill="#d0d0d0"/>
<rect x="276" y="901" width="1" height="2" fill="#d0d0d0"/>
<rect x="287" y="901" width="1" height="2" fill="#d0d0d0"/>
<rect x="298" y="901" width="1" height="2" fill="#d0d0d0"/>
<rect x="308" y="901" width="1" height="2" fill="#d0d0d0"/>
<rect x="330" y="901" width="1" height="2" fill="#d0d0d0"/>
<rect x="341" y="901" width="1" height="2" fill="#d0d0d0"/>
<rect x="351" y="901" width="1" height="2" fill="#d0d0d0"/>
<rect x="362" y="901" width="1" height="2" fill="#d0d0d0"/>
<rect x="383" y="901" width="1" height="2" fill="#d0d0d0"/>
<rect x="394" y="901" width="1" height="2" fill="#d0d0d0"/>
<rect x="405" y="901" width="1" height="2" fill="#d0d0d0"/>
<rect x="416" y="901" width="1" height="2" fill="#d0d0d0"/>
<rect x="437" y="901" width="1" height="2" fill="#d0d0d0"/>
<rect x="448" y="901" width="1" height="2" fill="#d0d0d0"/>
<rect x="458" y="901" width="1" height="2" fill="#d0d0d0"/>
<rect x="469" y="901" width="1" height="2" fill="#d0d0d0"/>
<rect x="491" y="901" width="1" height="2" fill="#d0d0d0"/>
<rect x="501" y="901" width="1" height="2" fill="#d0d0d0"/>
<rect x="512" y="901" width="1" height="2" fill="#d0d0d0"/>
<rect x="523" y="901" width="1" height="2" fill="#d0d0d0"/>
<rect x="544" y="901" width="1" height="2" fill="#d0d0d0"/>
<rect x="555" y="901" width="1" height="2" fill="#d0d0d0"/>
<rect x="566" y="901" width="1" height="2" fill="#d0d0d0"/>
<rect x="576" y="901" width="1" height="2" fill="#d0d0d0"/>
<rect x="598" y="901" width="1" height="2" fill="#d0d0d0"/>
<rect x="608" y="901" width="1" height="2" fill="#d0d0d0"/>
<rect x="619" y="901" width="1" height="2" fill="#d0d0d0"/>
<rect x="630" y="901" width="1" height="2" fill="#d0d0d0"/>
<rect x="651" y="901" width="1" height="2" fill="#d0d0d0"/>
<rect x="662" y="901" width="1" height="2" fill="#d0d0d0"/>
<rect x="673" y="901" width="1" height="2" fill="#d0d0d0"/>
<rect x="683" y="901" width="1" height="2" fill="#d0d0d0"/>
<rect x="705" y="901" width="1" height="2" fill="#d0d0d0"/>
<rect x="716" y="901" width="1" height="2" fill="#d0d0d0"/>
<rect x="726" y="901" width="1" height="2" fill="#d0d0d0"/>
<rect x="737" y="901" width="1" height="2" fill="#d0d0d0"/>
<rect x="758" y="901" width="1" height="2" fill="#d0d0d0"/>
<rect x="769" y="901" width="1" height="2" fill="#d0d0d0"/>
<rect x="780" y="901" width="1" height="2" fill="#d0d0d0"/>
<rect x="791" y="901" width="1" height="2" fill="#d0d0d0"/>
<rect x="812" y="901" width="1" height="2" fill="#d0d0d0"/>
<rect x="823" y="901" width="1" height="2" fill="#d0d0d0"/>
<rect x="833" y="901" width="1" height="2" fill="#d0d0d0"/>
<rect x="844" y="901" width="1" height="2" fill="#d0d0d0"/>
<rect x="866" y="901" width="1" height="2" fill="#d0d0d0"/>
<rect x="876" y="901" width="1" height="2" fill="#d0d0d0"/>
<rect x="887" y="901" width="1" height="2" fill="#d0d0d0"/>
<rect x="898" y="901" width="1" height="2" fill="#d0d0d0"/>
<rect x="919" y="901" width="1" height="2" fill="#d0d0d0"/>
<rect x="930" y="901" width="1" height="2" fill="#d0d0d0"/>
<rect x="941" y="901" width="1" height="2" fill="#d0d0d0"/>
<rect x="951" y="901" width="1" height="2" fill="#d0d0d0"/>
<rect x="973" y="901" width="1" height="2" fill="#d0d0d0"/>
<rect x="983" y="901" width="1" height="2" fill="#d0d0d0"/>
<rect x="994" y="901" width="1" height="2" fill="#d0d0d0"/>
<rect x="1005" y="901" width="1" height="2" fill="#d0d0d0"/>
<rect x="1026" y="901" width="1" height="2" fill="#d0d0d0"/>
<rect x="1037" y="901" width="1" height="2" fill="#d0d0d0"/>
<rect x="1048" y="901" width="1" height="2" fill="#d0d0d0"/>
<rect x="1058" y="901" width="1" height="2" fill="#d0d0d0"/>
<rect x="1080" y="901" width="1" height="2" fill="#d0d0d0"/>
<rect x="1091" y="901" width="1" height="2" fill="#d0d0d0"/>
<rect x="1101" y="901" width="1" height="2" fill="#d0d0d0"/>
<rect x="1112" y="901" width="1" height="2" fill="#d0d0d0"/>
<rect x="1133" y="901" width="1" height="2" fill="#d0d0d0"/>
<rect x="1144" y="901" width="1" height="2" fill="#d0d0d0"/>
</g>
<g shape-rendering="crispEdges" fill="#000">
<rect x="97" y="718" width="7" height="2"/>
<rect x="1155" y="897" width="2" height="7"/>
<rect x="98" y="716" width="5" height="2"/>
<rect x="1157" y="898" width="2" height="5"/>
<rect x="99" y="714" width="3" height="2"/>
<rect x="1159" y="899" width="2" height="3"/>
<rect x="100" y="713" width="1" height="1"/>
<rect x="1161" y="900" width="2" height="1"/>
</g>
<text x="16.40" y="728.10" font-size="10.67" textLength="82.26" lengthAdjust="spacingAndGlyphs">10,000,000.00</text>
<text x="23.52" y="763.10" font-size="10.67" textLength="75.10" lengthAdjust="spacingAndGlyphs">8,000,000.00</text>
<text x="23.52" y="798.10" font-size="10.67" textLength="75.10" lengthAdjust="spacingAndGlyphs">6,000,000.00</text>
<text x="23.52" y="833.10" font-size="10.67" textLength="75.10" lengthAdjust="spacingAndGlyphs">4,000,000.00</text>
<text x="23.52" y="868.10" font-size="10.67" textLength="75.10" lengthAdjust="spacingAndGlyphs">2,000,000.00</text>
<text x="74.21" y="904.70" font-size="10.67" textLength="24.45" lengthAdjust="spacingAndGlyphs">0.00</text>
<text x="84.67" y="913.00" font-size="10.67" textLength="43.69" lengthAdjust="spacingAndGlyphs">21 Sept</text>
<text x="137.67" y="913.00" font-size="10.67" textLength="43.69" lengthAdjust="spacingAndGlyphs">28 Sept</text>
<text x="198.30" y="913.00" font-size="10.67" textLength="30.31" lengthAdjust="spacingAndGlyphs">5 Oct</text>
<text x="248.46" y="913.00" font-size="10.67" textLength="37.50" lengthAdjust="spacingAndGlyphs">12 Oct</text>
<text x="301.46" y="913.00" font-size="10.67" textLength="37.50" lengthAdjust="spacingAndGlyphs">19 Oct</text>
<text x="355.72" y="913.00" font-size="10.67" textLength="37.50" lengthAdjust="spacingAndGlyphs">26 Oct</text>
<text x="411.11" y="913.00" font-size="10.67" textLength="32.83" lengthAdjust="spacingAndGlyphs">2 Nov</text>
<text x="465.11" y="913.00" font-size="10.67" textLength="32.83" lengthAdjust="spacingAndGlyphs">9 Nov</text>
<text x="514.26" y="913.00" font-size="10.67" textLength="40.02" lengthAdjust="spacingAndGlyphs">16 Nov</text>
<text x="568.53" y="913.00" font-size="10.67" textLength="40.02" lengthAdjust="spacingAndGlyphs">23 Nov</text>
<text x="626.37" y="914.30" font-size="10.67" textLength="32.64" lengthAdjust="spacingAndGlyphs">2 Déc</text>
<text x="679.37" y="914.30" font-size="10.67" textLength="32.64" lengthAdjust="spacingAndGlyphs">9 Déc</text>
<text x="729.53" y="914.30" font-size="10.67" textLength="39.83" lengthAdjust="spacingAndGlyphs">16 Déc</text>
<text x="782.79" y="914.30" font-size="10.67" textLength="39.83" lengthAdjust="spacingAndGlyphs">23 Déc</text>
<text x="839.18" y="913.00" font-size="10.67" textLength="34.88" lengthAdjust="spacingAndGlyphs">2 Janv</text>
<text x="892.18" y="913.00" font-size="10.67" textLength="34.88" lengthAdjust="spacingAndGlyphs">9 Janv</text>
<text x="942.33" y="913.00" font-size="10.67" textLength="42.07" lengthAdjust="spacingAndGlyphs">16 Janv</text>
<text x="996.60" y="913.00" font-size="10.67" textLength="42.07" lengthAdjust="spacingAndGlyphs">23 Janv</text>
<text x="1049.60" y="913.00" font-size="10.67" textLength="42.07" lengthAdjust="spacingAndGlyphs">30 Janv</text>
<text x="1109.16" y="914.30" font-size="10.67" textLength="30.92" lengthAdjust="spacingAndGlyphs">6 Fév</text>
<text x="487.02" y="926.50" font-size="10.67" textLength="278.69" lengthAdjust="spacingAndGlyphs">Date (du 21 Septembre 2016 au 8 Février 2017)</text>
<text transform="translate(14.90 831.50) rotate(-90)" font-size="10.67" textLength="41.99" lengthAdjust="spacingAndGlyphs">Volume</text>
<text x="110.99" y="994.60" font-size="24" textLength="83.84" lengthAdjust="spacingAndGlyphs" class="T">Sanofi:</text>
<text x="203.27" y="994.60" font-size="24" textLength="119.85" lengthAdjust="spacingAndGlyphs" class="T">graphique</text>
<text x="330.29" y="994.60" font-size="24" textLength="31.81" lengthAdjust="spacingAndGlyphs" class="T">du</text>
<text x="368.74" y="994.60" font-size="24" textLength="44.31" lengthAdjust="spacingAndGlyphs" class="T">RSI</text>
<text x="420.96" y="994.60" font-size="24" textLength="9.30" lengthAdjust="spacingAndGlyphs" class="T">-</text>
<text x="438.88" y="994.60" font-size="24" textLength="94.78" lengthAdjust="spacingAndGlyphs" class="T">RSI(14)</text>
<text x="543.14" y="994.60" font-size="24" textLength="9.43" lengthAdjust="spacingAndGlyphs" class="T">-</text>
<text x="561.55" y="994.60" font-size="24" textLength="208.33" lengthAdjust="spacingAndGlyphs" class="T">AnalyBourse.com</text>
<g shape-rendering="crispEdges">
<rect x="102" y="1061" width="1049" height="34" fill="#f8f8f8"/>
<rect x="102" y="1131" width="1049" height="34" fill="#f8f8f8"/>
</g>
<g shape-rendering="crispEdges" fill="none" stroke-width="1">
<line x1="105.5" y1="1025" x2="105.5" y2="1200" stroke="#000" stroke-opacity="0.125" stroke-dasharray="4 4" stroke-dashoffset="1"/>
<line x1="116.5" y1="1025" x2="116.5" y2="1200" stroke="#000" stroke-opacity="0.045" stroke-dasharray="6 6" stroke-dashoffset="1"/>
<line x1="126.5" y1="1025" x2="126.5" y2="1200" stroke="#000" stroke-opacity="0.045" stroke-dasharray="6 6" stroke-dashoffset="1"/>
<line x1="137.5" y1="1025" x2="137.5" y2="1200" stroke="#000" stroke-opacity="0.045" stroke-dasharray="6 6" stroke-dashoffset="1"/>
<line x1="148.5" y1="1025" x2="148.5" y2="1200" stroke="#000" stroke-opacity="0.045" stroke-dasharray="6 6" stroke-dashoffset="1"/>
<line x1="158.5" y1="1025" x2="158.5" y2="1200" stroke="#000" stroke-opacity="0.125" stroke-dasharray="4 4" stroke-dashoffset="1"/>
<line x1="169.5" y1="1025" x2="169.5" y2="1200" stroke="#000" stroke-opacity="0.045" stroke-dasharray="6 6" stroke-dashoffset="1"/>
<line x1="180.5" y1="1025" x2="180.5" y2="1200" stroke="#000" stroke-opacity="0.045" stroke-dasharray="6 6" stroke-dashoffset="1"/>
<line x1="191.5" y1="1025" x2="191.5" y2="1200" stroke="#000" stroke-opacity="0.045" stroke-dasharray="6 6" stroke-dashoffset="1"/>
<line x1="201.5" y1="1025" x2="201.5" y2="1200" stroke="#000" stroke-opacity="0.045" stroke-dasharray="6 6" stroke-dashoffset="1"/>
<line x1="212.5" y1="1025" x2="212.5" y2="1200" stroke="#000" stroke-opacity="0.125" stroke-dasharray="4 4" stroke-dashoffset="1"/>
<line x1="223.5" y1="1025" x2="223.5" y2="1200" stroke="#000" stroke-opacity="0.045" stroke-dasharray="6 6" stroke-dashoffset="1"/>
<line x1="233.5" y1="1025" x2="233.5" y2="1200" stroke="#000" stroke-opacity="0.045" stroke-dasharray="6 6" stroke-dashoffset="1"/>
<line x1="244.5" y1="1025" x2="244.5" y2="1200" stroke="#000" stroke-opacity="0.045" stroke-dasharray="6 6" stroke-dashoffset="1"/>
<line x1="255.5" y1="1025" x2="255.5" y2="1200" stroke="#000" stroke-opacity="0.045" stroke-dasharray="6 6" stroke-dashoffset="1"/>
<line x1="266.5" y1="1025" x2="266.5" y2="1200" stroke="#000" stroke-opacity="0.125" stroke-dasharray="4 4" stroke-dashoffset="1"/>
<line x1="276.5" y1="1025" x2="276.5" y2="1200" stroke="#000" stroke-opacity="0.045" stroke-dasharray="6 6" stroke-dashoffset="1"/>
<line x1="287.5" y1="1025" x2="287.5" y2="1200" stroke="#000" stroke-opacity="0.045" stroke-dasharray="6 6" stroke-dashoffset="1"/>
<line x1="298.5" y1="1025" x2="298.5" y2="1200" stroke="#000" stroke-opacity="0.045" stroke-dasharray="6 6" stroke-dashoffset="1"/>
<line x1="308.5" y1="1025" x2="308.5" y2="1200" stroke="#000" stroke-opacity="0.045" stroke-dasharray="6 6" stroke-dashoffset="1"/>
<line x1="319.5" y1="1025" x2="319.5" y2="1200" stroke="#000" stroke-opacity="0.125" stroke-dasharray="4 4" stroke-dashoffset="1"/>
<line x1="330.5" y1="1025" x2="330.5" y2="1200" stroke="#000" stroke-opacity="0.045" stroke-dasharray="6 6" stroke-dashoffset="1"/>
<line x1="341.5" y1="1025" x2="341.5" y2="1200" stroke="#000" stroke-opacity="0.045" stroke-dasharray="6 6" stroke-dashoffset="1"/>
<line x1="351.5" y1="1025" x2="351.5" y2="1200" stroke="#000" stroke-opacity="0.045" stroke-dasharray="6 6" stroke-dashoffset="1"/>
<line x1="362.5" y1="1025" x2="362.5" y2="1200" stroke="#000" stroke-opacity="0.045" stroke-dasharray="6 6" stroke-dashoffset="1"/>
<line x1="373.5" y1="1025" x2="373.5" y2="1200" stroke="#000" stroke-opacity="0.125" stroke-dasharray="4 4" stroke-dashoffset="1"/>
<line x1="383.5" y1="1025" x2="383.5" y2="1200" stroke="#000" stroke-opacity="0.045" stroke-dasharray="6 6" stroke-dashoffset="1"/>
<line x1="394.5" y1="1025" x2="394.5" y2="1200" stroke="#000" stroke-opacity="0.045" stroke-dasharray="6 6" stroke-dashoffset="1"/>
<line x1="405.5" y1="1025" x2="405.5" y2="1200" stroke="#000" stroke-opacity="0.045" stroke-dasharray="6 6" stroke-dashoffset="1"/>
<line x1="416.5" y1="1025" x2="416.5" y2="1200" stroke="#000" stroke-opacity="0.045" stroke-dasharray="6 6" stroke-dashoffset="1"/>
<line x1="426.5" y1="1025" x2="426.5" y2="1200" stroke="#000" stroke-opacity="0.125" stroke-dasharray="4 4" stroke-dashoffset="1"/>
<line x1="437.5" y1="1025" x2="437.5" y2="1200" stroke="#000" stroke-opacity="0.045" stroke-dasharray="6 6" stroke-dashoffset="1"/>
<line x1="448.5" y1="1025" x2="448.5" y2="1200" stroke="#000" stroke-opacity="0.045" stroke-dasharray="6 6" stroke-dashoffset="1"/>
<line x1="458.5" y1="1025" x2="458.5" y2="1200" stroke="#000" stroke-opacity="0.045" stroke-dasharray="6 6" stroke-dashoffset="1"/>
<line x1="469.5" y1="1025" x2="469.5" y2="1200" stroke="#000" stroke-opacity="0.045" stroke-dasharray="6 6" stroke-dashoffset="1"/>
<line x1="480.5" y1="1025" x2="480.5" y2="1200" stroke="#000" stroke-opacity="0.125" stroke-dasharray="4 4" stroke-dashoffset="1"/>
<line x1="491.5" y1="1025" x2="491.5" y2="1200" stroke="#000" stroke-opacity="0.045" stroke-dasharray="6 6" stroke-dashoffset="1"/>
<line x1="501.5" y1="1025" x2="501.5" y2="1200" stroke="#000" stroke-opacity="0.045" stroke-dasharray="6 6" stroke-dashoffset="1"/>
<line x1="512.5" y1="1025" x2="512.5" y2="1200" stroke="#000" stroke-opacity="0.045" stroke-dasharray="6 6" stroke-dashoffset="1"/>
<line x1="523.5" y1="1025" x2="523.5" y2="1200" stroke="#000" stroke-opacity="0.045" stroke-dasharray="6 6" stroke-dashoffset="1"/>
<line x1="533.5" y1="1025" x2="533.5" y2="1200" stroke="#000" stroke-opacity="0.125" stroke-dasharray="4 4" stroke-dashoffset="1"/>
<line x1="544.5" y1="1025" x2="544.5" y2="1200" stroke="#000" stroke-opacity="0.045" stroke-dasharray="6 6" stroke-dashoffset="1"/>
<line x1="555.5" y1="1025" x2="555.5" y2="1200" stroke="#000" stroke-opacity="0.045" stroke-dasharray="6 6" stroke-dashoffset="1"/>
<line x1="566.5" y1="1025" x2="566.5" y2="1200" stroke="#000" stroke-opacity="0.045" stroke-dasharray="6 6" stroke-dashoffset="1"/>
<line x1="576.5" y1="1025" x2="576.5" y2="1200" stroke="#000" stroke-opacity="0.045" stroke-dasharray="6 6" stroke-dashoffset="1"/>
<line x1="587.5" y1="1025" x2="587.5" y2="1200" stroke="#000" stroke-opacity="0.125" stroke-dasharray="4 4" stroke-dashoffset="1"/>
<line x1="598.5" y1="1025" x2="598.5" y2="1200" stroke="#000" stroke-opacity="0.045" stroke-dasharray="6 6" stroke-dashoffset="1"/>
<line x1="608.5" y1="1025" x2="608.5" y2="1200" stroke="#000" stroke-opacity="0.045" stroke-dasharray="6 6" stroke-dashoffset="1"/>
<line x1="619.5" y1="1025" x2="619.5" y2="1200" stroke="#000" stroke-opacity="0.045" stroke-dasharray="6 6" stroke-dashoffset="1"/>
<line x1="630.5" y1="1025" x2="630.5" y2="1200" stroke="#000" stroke-opacity="0.045" stroke-dasharray="6 6" stroke-dashoffset="1"/>
<line x1="641.5" y1="1025" x2="641.5" y2="1200" stroke="#000" stroke-opacity="0.125" stroke-dasharray="4 4" stroke-dashoffset="1"/>
<line x1="651.5" y1="1025" x2="651.5" y2="1200" stroke="#000" stroke-opacity="0.045" stroke-dasharray="6 6" stroke-dashoffset="1"/>
<line x1="662.5" y1="1025" x2="662.5" y2="1200" stroke="#000" stroke-opacity="0.045" stroke-dasharray="6 6" stroke-dashoffset="1"/>
<line x1="673.5" y1="1025" x2="673.5" y2="1200" stroke="#000" stroke-opacity="0.045" stroke-dasharray="6 6" stroke-dashoffset="1"/>
<line x1="683.5" y1="1025" x2="683.5" y2="1200" stroke="#000" stroke-opacity="0.045" stroke-dasharray="6 6" stroke-dashoffset="1"/>
<line x1="694.5" y1="1025" x2="694.5" y2="1200" stroke="#000" stroke-opacity="0.125" stroke-dasharray="4 4" stroke-dashoffset="1"/>
<line x1="705.5" y1="1025" x2="705.5" y2="1200" stroke="#000" stroke-opacity="0.045" stroke-dasharray="6 6" stroke-dashoffset="1"/>
<line x1="716.5" y1="1025" x2="716.5" y2="1200" stroke="#000" stroke-opacity="0.045" stroke-dasharray="6 6" stroke-dashoffset="1"/>
<line x1="726.5" y1="1025" x2="726.5" y2="1200" stroke="#000" stroke-opacity="0.045" stroke-dasharray="6 6" stroke-dashoffset="1"/>
<line x1="737.5" y1="1025" x2="737.5" y2="1200" stroke="#000" stroke-opacity="0.045" stroke-dasharray="6 6" stroke-dashoffset="1"/>
<line x1="748.5" y1="1025" x2="748.5" y2="1200" stroke="#000" stroke-opacity="0.125" stroke-dasharray="4 4" stroke-dashoffset="1"/>
<line x1="758.5" y1="1025" x2="758.5" y2="1200" stroke="#000" stroke-opacity="0.045" stroke-dasharray="6 6" stroke-dashoffset="1"/>
<line x1="769.5" y1="1025" x2="769.5" y2="1200" stroke="#000" stroke-opacity="0.045" stroke-dasharray="6 6" stroke-dashoffset="1"/>
<line x1="780.5" y1="1025" x2="780.5" y2="1200" stroke="#000" stroke-opacity="0.045" stroke-dasharray="6 6" stroke-dashoffset="1"/>
<line x1="791.5" y1="1025" x2="791.5" y2="1200" stroke="#000" stroke-opacity="0.045" stroke-dasharray="6 6" stroke-dashoffset="1"/>
<line x1="801.5" y1="1025" x2="801.5" y2="1200" stroke="#000" stroke-opacity="0.125" stroke-dasharray="4 4" stroke-dashoffset="1"/>
<line x1="812.5" y1="1025" x2="812.5" y2="1200" stroke="#000" stroke-opacity="0.045" stroke-dasharray="6 6" stroke-dashoffset="1"/>
<line x1="823.5" y1="1025" x2="823.5" y2="1200" stroke="#000" stroke-opacity="0.045" stroke-dasharray="6 6" stroke-dashoffset="1"/>
<line x1="833.5" y1="1025" x2="833.5" y2="1200" stroke="#000" stroke-opacity="0.045" stroke-dasharray="6 6" stroke-dashoffset="1"/>
<line x1="844.5" y1="1025" x2="844.5" y2="1200" stroke="#000" stroke-opacity="0.045" stroke-dasharray="6 6" stroke-dashoffset="1"/>
<line x1="855.5" y1="1025" x2="855.5" y2="1200" stroke="#000" stroke-opacity="0.125" stroke-dasharray="4 4" stroke-dashoffset="1"/>
<line x1="866.5" y1="1025" x2="866.5" y2="1200" stroke="#000" stroke-opacity="0.045" stroke-dasharray="6 6" stroke-dashoffset="1"/>
<line x1="876.5" y1="1025" x2="876.5" y2="1200" stroke="#000" stroke-opacity="0.045" stroke-dasharray="6 6" stroke-dashoffset="1"/>
<line x1="887.5" y1="1025" x2="887.5" y2="1200" stroke="#000" stroke-opacity="0.045" stroke-dasharray="6 6" stroke-dashoffset="1"/>
<line x1="898.5" y1="1025" x2="898.5" y2="1200" stroke="#000" stroke-opacity="0.045" stroke-dasharray="6 6" stroke-dashoffset="1"/>
<line x1="908.5" y1="1025" x2="908.5" y2="1200" stroke="#000" stroke-opacity="0.125" stroke-dasharray="4 4" stroke-dashoffset="1"/>
<line x1="919.5" y1="1025" x2="919.5" y2="1200" stroke="#000" stroke-opacity="0.045" stroke-dasharray="6 6" stroke-dashoffset="1"/>
<line x1="930.5" y1="1025" x2="930.5" y2="1200" stroke="#000" stroke-opacity="0.045" stroke-dasharray="6 6" stroke-dashoffset="1"/>
<line x1="941.5" y1="1025" x2="941.5" y2="1200" stroke="#000" stroke-opacity="0.045" stroke-dasharray="6 6" stroke-dashoffset="1"/>
<line x1="951.5" y1="1025" x2="951.5" y2="1200" stroke="#000" stroke-opacity="0.045" stroke-dasharray="6 6" stroke-dashoffset="1"/>
<line x1="962.5" y1="1025" x2="962.5" y2="1200" stroke="#000" stroke-opacity="0.125" stroke-dasharray="4 4" stroke-dashoffset="1"/>
<line x1="973.5" y1="1025" x2="973.5" y2="1200" stroke="#000" stroke-opacity="0.045" stroke-dasharray="6 6" stroke-dashoffset="1"/>
<line x1="983.5" y1="1025" x2="983.5" y2="1200" stroke="#000" stroke-opacity="0.045" stroke-dasharray="6 6" stroke-dashoffset="1"/>
<line x1="994.5" y1="1025" x2="994.5" y2="1200" stroke="#000" stroke-opacity="0.045" stroke-dasharray="6 6" stroke-dashoffset="1"/>
<line x1="1005.5" y1="1025" x2="1005.5" y2="1200" stroke="#000" stroke-opacity="0.045" stroke-dasharray="6 6" stroke-dashoffset="1"/>
<line x1="1016.5" y1="1025" x2="1016.5" y2="1200" stroke="#000" stroke-opacity="0.125" stroke-dasharray="4 4" stroke-dashoffset="1"/>
<line x1="1026.5" y1="1025" x2="1026.5" y2="1200" stroke="#000" stroke-opacity="0.045" stroke-dasharray="6 6" stroke-dashoffset="1"/>
<line x1="1037.5" y1="1025" x2="1037.5" y2="1200" stroke="#000" stroke-opacity="0.045" stroke-dasharray="6 6" stroke-dashoffset="1"/>
<line x1="1048.5" y1="1025" x2="1048.5" y2="1200" stroke="#000" stroke-opacity="0.045" stroke-dasharray="6 6" stroke-dashoffset="1"/>
<line x1="1058.5" y1="1025" x2="1058.5" y2="1200" stroke="#000" stroke-opacity="0.045" stroke-dasharray="6 6" stroke-dashoffset="1"/>
<line x1="1069.5" y1="1025" x2="1069.5" y2="1200" stroke="#000" stroke-opacity="0.125" stroke-dasharray="4 4" stroke-dashoffset="1"/>
<line x1="1080.5" y1="1025" x2="1080.5" y2="1200" stroke="#000" stroke-opacity="0.045" stroke-dasharray="6 6" stroke-dashoffset="1"/>
<line x1="1091.5" y1="1025" x2="1091.5" y2="1200" stroke="#000" stroke-opacity="0.045" stroke-dasharray="6 6" stroke-dashoffset="1"/>
<line x1="1101.5" y1="1025" x2="1101.5" y2="1200" stroke="#000" stroke-opacity="0.045" stroke-dasharray="6 6" stroke-dashoffset="1"/>
<line x1="1112.5" y1="1025" x2="1112.5" y2="1200" stroke="#000" stroke-opacity="0.045" stroke-dasharray="6 6" stroke-dashoffset="1"/>
<line x1="1123.5" y1="1025" x2="1123.5" y2="1200" stroke="#000" stroke-opacity="0.125" stroke-dasharray="4 4" stroke-dashoffset="1"/>
<line x1="1133.5" y1="1025" x2="1133.5" y2="1200" stroke="#000" stroke-opacity="0.045" stroke-dasharray="6 6" stroke-dashoffset="1"/>
<line x1="1144.5" y1="1025" x2="1144.5" y2="1200" stroke="#000" stroke-opacity="0.045" stroke-dasharray="6 6" stroke-dashoffset="1"/>
<line x1="102" y1="1025.5" x2="1151" y2="1025.5" stroke="#000" stroke-opacity="0.115" stroke-dasharray="4 4" stroke-dashoffset="3"/>
<line x1="102" y1="1060.5" x2="1151" y2="1060.5" stroke="#000" stroke-opacity="0.115" stroke-dasharray="4 4" stroke-dashoffset="3"/>
<line x1="102" y1="1095.5" x2="1151" y2="1095.5" stroke="#000" stroke-opacity="0.115" stroke-dasharray="4 4" stroke-dashoffset="3"/>
<line x1="102" y1="1130.5" x2="1151" y2="1130.5" stroke="#000" stroke-opacity="0.115" stroke-dasharray="4 4" stroke-dashoffset="3"/>
<line x1="102" y1="1165.5" x2="1151" y2="1165.5" stroke="#000" stroke-opacity="0.115" stroke-dasharray="4 4" stroke-dashoffset="3"/>
</g>
<rect x="105" y="1112" width="1040" height="1" fill="#787878" shape-rendering="crispEdges"/>
<path d="M480 1062.5h7M479 1063.5h1M486 1063.5h4M479 1064.5h1M490 1064.5h2M478 1065.5h1M492 1065.5h1M478 1066.5h1M493 1066.5h1M477 1067.5h1M494 1067.5h1M477 1068.5h1M494 1068.5h2M531 1068.5h4M476 1069.5h1M495 1069.5h1M525 1069.5h6M534 1069.5h4M476 1070.5h1M496 1070.5h1M511 1070.5h15M538 1070.5h3M475 1071.5h1M497 1071.5h1M509 1071.5h2M541 1071.5h3M475 1072.5h1M498 1072.5h1M507 1072.5h2M543 1072.5h2M474 1073.5h2M499 1073.5h1M505 1073.5h2M545 1073.5h1M474 1074.5h1M500 1074.5h1M503 1074.5h3M546 1074.5h1M473 1075.5h1M501 1075.5h2M546 1075.5h1M473 1076.5h1M547 1076.5h1M472 1077.5h1M548 1077.5h1M472 1078.5h1M549 1078.5h1M471 1079.5h1M549 1079.5h2M471 1080.5h1M550 1080.5h1M470 1081.5h1M551 1081.5h1M470 1082.5h1M551 1082.5h2M433 1083.5h5M469 1083.5h1M552 1083.5h1M429 1084.5h5M438 1084.5h1M466 1084.5h3M553 1084.5h1M426 1085.5h3M439 1085.5h1M462 1085.5h4M554 1085.5h1M867 1085.5h21M394 1086.5h2M425 1086.5h1M440 1086.5h2M458 1086.5h4M555 1086.5h1M714 1086.5h3M863 1086.5h4M887 1086.5h1M394 1087.5h1M396 1087.5h2M424 1087.5h1M441 1087.5h2M457 1087.5h1M556 1087.5h2M713 1087.5h1M717 1087.5h1M861 1087.5h2M888 1087.5h1M393 1088.5h1M398 1088.5h1M422 1088.5h2M443 1088.5h1M455 1088.5h2M558 1088.5h2M712 1088.5h1M717 1088.5h1M858 1088.5h3M889 1088.5h1M393 1089.5h1M399 1089.5h2M421 1089.5h1M444 1089.5h1M454 1089.5h2M560 1089.5h2M711 1089.5h1M718 1089.5h1M856 1089.5h2M889 1089.5h1M392 1090.5h1M401 1090.5h1M419 1090.5h2M444 1090.5h2M452 1090.5h2M562 1090.5h3M710 1090.5h1M718 1090.5h1M854 1090.5h2M889 1090.5h1M1144 1090.5h1M392 1091.5h1M402 1091.5h1M418 1091.5h2M446 1091.5h1M451 1091.5h1M565 1091.5h2M708 1091.5h2M719 1091.5h1M852 1091.5h2M890 1091.5h1M1143 1091.5h2M391 1092.5h1M403 1092.5h2M417 1092.5h2M447 1092.5h1M449 1092.5h2M567 1092.5h1M617 1092.5h4M707 1092.5h1M719 1092.5h1M851 1092.5h1M890 1092.5h2M1143 1092.5h1M391 1093.5h1M405 1093.5h12M448 1093.5h2M568 1093.5h2M616 1093.5h1M621 1093.5h1M706 1093.5h1M720 1093.5h1M849 1093.5h2M891 1093.5h1M917 1093.5h4M1143 1093.5h1M390 1094.5h1M569 1094.5h2M614 1094.5h2M622 1094.5h2M650 1094.5h3M693 1094.5h13M720 1094.5h1M848 1094.5h1M891 1094.5h1M915 1094.5h2M921 1094.5h1M1142 1094.5h1M390 1095.5h1M571 1095.5h1M613 1095.5h1M623 1095.5h1M649 1095.5h1M653 1095.5h3M693 1095.5h1M720 1095.5h1M846 1095.5h2M892 1095.5h1M913 1095.5h2M922 1095.5h2M1142 1095.5h1M390 1096.5h1M572 1096.5h2M611 1096.5h2M624 1096.5h2M647 1096.5h2M655 1096.5h2M692 1096.5h1M721 1096.5h1M845 1096.5h1M892 1096.5h2M912 1096.5h2M923 1096.5h2M1141 1096.5h1M389 1097.5h1M573 1097.5h2M610 1097.5h1M626 1097.5h1M646 1097.5h1M657 1097.5h2M691 1097.5h1M721 1097.5h1M843 1097.5h2M893 1097.5h1M911 1097.5h2M925 1097.5h1M1141 1097.5h1M389 1098.5h1M575 1098.5h1M609 1098.5h1M626 1098.5h2M644 1098.5h2M659 1098.5h2M690 1098.5h1M722 1098.5h1M841 1098.5h2M893 1098.5h1M909 1098.5h2M926 1098.5h1M1140 1098.5h1M388 1099.5h1M576 1099.5h2M606 1099.5h3M628 1099.5h1M643 1099.5h1M661 1099.5h1M689 1099.5h1M722 1099.5h1M840 1099.5h1M894 1099.5h1M908 1099.5h2M926 1099.5h2M951 1099.5h2M1139 1099.5h1M388 1100.5h1M577 1100.5h2M604 1100.5h2M629 1100.5h1M640 1100.5h3M662 1100.5h2M688 1100.5h1M723 1100.5h1M838 1100.5h2M894 1100.5h1M907 1100.5h1M928 1100.5h1M950 1100.5h1M952 1100.5h1M1139 1100.5h1M388 1101.5h1M579 1101.5h2M601 1101.5h3M630 1101.5h10M664 1101.5h3M687 1101.5h1M723 1101.5h1M836 1101.5h2M895 1101.5h1M906 1101.5h1M929 1101.5h1M949 1101.5h1M953 1101.5h1M1138 1101.5h2M387 1102.5h1M580 1102.5h2M599 1102.5h2M667 1102.5h2M686 1102.5h2M724 1102.5h1M835 1102.5h1M895 1102.5h1M905 1102.5h1M930 1102.5h1M948 1102.5h1M954 1102.5h2M1138 1102.5h1M387 1103.5h1M581 1103.5h2M596 1103.5h3M669 1103.5h2M685 1103.5h1M724 1103.5h1M735 1103.5h4M790 1103.5h5M810 1103.5h25M896 1103.5h1M904 1103.5h1M931 1103.5h1M948 1103.5h1M955 1103.5h1M1137 1103.5h1M386 1104.5h1M583 1104.5h2M593 1104.5h3M671 1104.5h2M684 1104.5h1M724 1104.5h1M733 1104.5h2M738 1104.5h1M789 1104.5h1M795 1104.5h4M805 1104.5h5M896 1104.5h1M902 1104.5h2M932 1104.5h1M947 1104.5h1M956 1104.5h1M1137 1104.5h1M244 1105.5h2M386 1105.5h1M585 1105.5h1M590 1105.5h3M672 1105.5h13M725 1105.5h1M731 1105.5h2M739 1105.5h1M787 1105.5h2M799 1105.5h6M897 1105.5h1M901 1105.5h1M933 1105.5h1M946 1105.5h1M957 1105.5h1M1136 1105.5h1M243 1106.5h1M246 1106.5h3M330 1106.5h3M386 1106.5h1M586 1106.5h4M725 1106.5h1M729 1106.5h2M740 1106.5h1M768 1106.5h4M786 1106.5h2M897 1106.5h1M900 1106.5h1M934 1106.5h1M946 1106.5h1M958 1106.5h1M1136 1106.5h1M242 1107.5h1M249 1107.5h2M329 1107.5h1M332 1107.5h5M385 1107.5h1M726 1107.5h3M741 1107.5h1M766 1107.5h2M772 1107.5h2M785 1107.5h2M898 1107.5h2M935 1107.5h2M945 1107.5h1M959 1107.5h1M1135 1107.5h1M241 1108.5h1M251 1108.5h2M328 1108.5h1M337 1108.5h3M346 1108.5h6M385 1108.5h1M741 1108.5h1M765 1108.5h1M774 1108.5h2M783 1108.5h2M936 1108.5h1M944 1108.5h1M960 1108.5h1M1135 1108.5h1M240 1109.5h1M253 1109.5h2M327 1109.5h1M340 1109.5h6M352 1109.5h1M384 1109.5h1M742 1109.5h1M763 1109.5h2M776 1109.5h2M782 1109.5h1M937 1109.5h1M944 1109.5h1M961 1109.5h1M1134 1109.5h1M239 1110.5h1M254 1110.5h2M326 1110.5h1M353 1110.5h1M384 1110.5h1M743 1110.5h1M762 1110.5h1M778 1110.5h4M938 1110.5h1M943 1110.5h1M961 1110.5h2M1134 1110.5h1M238 1111.5h1M256 1111.5h1M325 1111.5h1M354 1111.5h2M383 1111.5h1M743 1111.5h1M760 1111.5h2M939 1111.5h2M942 1111.5h1M963 1111.5h2M1090 1111.5h3M1131 1111.5h3M238 1112.5h1M257 1112.5h1M324 1112.5h2M355 1112.5h1M383 1112.5h1M744 1112.5h1M759 1112.5h1M940 1112.5h2M965 1112.5h2M1090 1112.5h1M1093 1112.5h1M1112 1112.5h19M237 1113.5h1M258 1113.5h2M308 1113.5h2M323 1113.5h1M356 1113.5h1M382 1113.5h1M745 1113.5h1M757 1113.5h2M966 1113.5h3M981 1113.5h4M1089 1113.5h1M1094 1113.5h1M1110 1113.5h2M236 1114.5h1M259 1114.5h1M307 1114.5h1M310 1114.5h3M322 1114.5h2M357 1114.5h1M381 1114.5h1M746 1114.5h1M755 1114.5h2M968 1114.5h2M978 1114.5h3M985 1114.5h2M1088 1114.5h1M1095 1114.5h1M1109 1114.5h1M201 1115.5h3M235 1115.5h1M260 1115.5h2M307 1115.5h1M313 1115.5h2M321 1115.5h1M358 1115.5h1M381 1115.5h1M746 1115.5h1M753 1115.5h3M970 1115.5h3M975 1115.5h3M987 1115.5h1M1087 1115.5h2M1096 1115.5h1M1107 1115.5h2M200 1116.5h1M204 1116.5h4M234 1116.5h1M261 1116.5h1M306 1116.5h1M315 1116.5h3M320 1116.5h1M359 1116.5h2M380 1116.5h1M747 1116.5h1M751 1116.5h2M972 1116.5h3M988 1116.5h2M1087 1116.5h1M1097 1116.5h2M1106 1116.5h1M199 1117.5h1M208 1117.5h3M217 1117.5h17M262 1117.5h1M305 1117.5h1M317 1117.5h3M360 1117.5h2M379 1117.5h1M748 1117.5h3M990 1117.5h2M1086 1117.5h1M1099 1117.5h1M1104 1117.5h2M198 1118.5h1M211 1118.5h6M263 1118.5h2M305 1118.5h1M361 1118.5h2M378 1118.5h1M992 1118.5h2M1085 1118.5h2M1100 1118.5h1M1102 1118.5h2M197 1119.5h1M265 1119.5h1M286 1119.5h3M304 1119.5h1M363 1119.5h2M377 1119.5h1M993 1119.5h8M1085 1119.5h1M1101 1119.5h2M196 1120.5h1M265 1120.5h2M284 1120.5h2M288 1120.5h2M303 1120.5h1M365 1120.5h2M376 1120.5h1M1000 1120.5h7M1084 1120.5h1M195 1121.5h1M267 1121.5h2M282 1121.5h2M290 1121.5h1M302 1121.5h1M367 1121.5h2M375 1121.5h1M1007 1121.5h1M1083 1121.5h1M194 1122.5h1M269 1122.5h2M281 1122.5h1M291 1122.5h1M302 1122.5h1M369 1122.5h3M374 1122.5h1M1008 1122.5h2M1082 1122.5h1M194 1123.5h1M271 1123.5h3M279 1123.5h2M292 1123.5h2M301 1123.5h1M372 1123.5h2M1010 1123.5h2M1067 1123.5h6M1082 1123.5h1M193 1124.5h1M273 1124.5h3M277 1124.5h2M293 1124.5h2M300 1124.5h1M1012 1124.5h1M1063 1124.5h4M1073 1124.5h4M1081 1124.5h1M192 1125.5h1M276 1125.5h1M294 1125.5h2M300 1125.5h1M1013 1125.5h2M1047 1125.5h8M1060 1125.5h3M1076 1125.5h5M114 1126.5h6M190 1126.5h2M296 1126.5h1M299 1126.5h1M1015 1126.5h2M1043 1126.5h4M1055 1126.5h5M110 1127.5h4M120 1127.5h4M157 1127.5h5M189 1127.5h2M297 1127.5h2M1017 1127.5h1M1040 1127.5h4M107 1128.5h3M124 1128.5h3M155 1128.5h2M162 1128.5h4M188 1128.5h1M1018 1128.5h2M1037 1128.5h3M105 1129.5h2M127 1129.5h1M154 1129.5h2M165 1129.5h4M187 1129.5h1M1019 1129.5h2M1035 1129.5h2M128 1130.5h1M152 1130.5h2M169 1130.5h3M186 1130.5h1M1021 1130.5h2M1033 1130.5h2M129 1131.5h1M150 1131.5h2M172 1131.5h2M184 1131.5h2M1023 1131.5h1M1030 1131.5h3M130 1132.5h1M149 1132.5h1M174 1132.5h2M183 1132.5h2M1024 1132.5h2M1028 1132.5h3M131 1133.5h1M147 1133.5h2M176 1133.5h3M181 1133.5h2M1025 1133.5h3M132 1134.5h1M144 1134.5h3M179 1134.5h3M133 1135.5h2M143 1135.5h2M135 1136.5h1M141 1136.5h2M136 1137.5h1M139 1137.5h2M137 1138.5h2" fill="none" stroke="#ff3434" stroke-width="1" shape-rendering="crispEdges"/>
<g shape-rendering="crispEdges">
<rect x="100" y="1018" width="1" height="183" fill="#000"/>
<rect x="100" y="1200" width="1056" height="1" fill="#000"/>
<rect x="98" y="1025" width="5" height="1" fill="#000"/>
<rect x="98" y="1042" width="2" height="1" fill="#f00"/>
<rect x="98" y="1060" width="5" height="1" fill="#000"/>
<rect x="98" y="1077" width="2" height="1" fill="#f00"/>
<rect x="98" y="1095" width="5" height="1" fill="#000"/>
<rect x="98" y="1112" width="2" height="1" fill="#f00"/>
<rect x="98" y="1130" width="5" height="1" fill="#000"/>
<rect x="98" y="1147" width="2" height="1" fill="#f00"/>
<rect x="98" y="1165" width="5" height="1" fill="#000"/>
<rect x="98" y="1182" width="2" height="1" fill="#f00"/>
<rect x="98" y="1200" width="5" height="1" fill="#000"/>
<rect x="105" y="1198" width="1" height="5" fill="#000"/>
<rect x="158" y="1198" width="1" height="5" fill="#000"/>
<rect x="212" y="1198" width="1" height="5" fill="#000"/>
<rect x="266" y="1198" width="1" height="5" fill="#000"/>
<rect x="319" y="1198" width="1" height="5" fill="#000"/>
<rect x="373" y="1198" width="1" height="5" fill="#000"/>
<rect x="426" y="1198" width="1" height="5" fill="#000"/>
<rect x="480" y="1198" width="1" height="5" fill="#000"/>
<rect x="533" y="1198" width="1" height="5" fill="#000"/>
<rect x="587" y="1198" width="1" height="5" fill="#000"/>
<rect x="641" y="1198" width="1" height="5" fill="#000"/>
<rect x="694" y="1198" width="1" height="5" fill="#000"/>
<rect x="748" y="1198" width="1" height="5" fill="#000"/>
<rect x="801" y="1198" width="1" height="5" fill="#000"/>
<rect x="855" y="1198" width="1" height="5" fill="#000"/>
<rect x="908" y="1198" width="1" height="5" fill="#000"/>
<rect x="962" y="1198" width="1" height="5" fill="#000"/>
<rect x="1016" y="1198" width="1" height="5" fill="#000"/>
<rect x="1069" y="1198" width="1" height="5" fill="#000"/>
<rect x="1123" y="1198" width="1" height="5" fill="#000"/>
<rect x="116" y="1201" width="1" height="2" fill="#d0d0d0"/>
<rect x="126" y="1201" width="1" height="2" fill="#d0d0d0"/>
<rect x="137" y="1201" width="1" height="2" fill="#d0d0d0"/>
<rect x="148" y="1201" width="1" height="2" fill="#d0d0d0"/>
<rect x="169" y="1201" width="1" height="2" fill="#d0d0d0"/>
<rect x="180" y="1201" width="1" height="2" fill="#d0d0d0"/>
<rect x="191" y="1201" width="1" height="2" fill="#d0d0d0"/>
<rect x="201" y="1201" width="1" height="2" fill="#d0d0d0"/>
<rect x="223" y="1201" width="1" height="2" fill="#d0d0d0"/>
<rect x="233" y="1201" width="1" height="2" fill="#d0d0d0"/>
<rect x="244" y="1201" width="1" height="2" fill="#d0d0d0"/>
<rect x="255" y="1201" width="1" height="2" fill="#d0d0d0"/>
<rect x="276" y="1201" width="1" height="2" fill="#d0d0d0"/>
<rect x="287" y="1201" width="1" height="2" fill="#d0d0d0"/>
<rect x="298" y="1201" width="1" height="2" fill="#d0d0d0"/>
<rect x="308" y="1201" width="1" height="2" fill="#d0d0d0"/>
<rect x="330" y="1201" width="1" height="2" fill="#d0d0d0"/>
<rect x="341" y="1201" width="1" height="2" fill="#d0d0d0"/>
<rect x="351" y="1201" width="1" height="2" fill="#d0d0d0"/>
<rect x="362" y="1201" width="1" height="2" fill="#d0d0d0"/>
<rect x="383" y="1201" width="1" height="2" fill="#d0d0d0"/>
<rect x="394" y="1201" width="1" height="2" fill="#d0d0d0"/>
<rect x="405" y="1201" width="1" height="2" fill="#d0d0d0"/>
<rect x="416" y="1201" width="1" height="2" fill="#d0d0d0"/>
<rect x="437" y="1201" width="1" height="2" fill="#d0d0d0"/>
<rect x="448" y="1201" width="1" height="2" fill="#d0d0d0"/>
<rect x="458" y="1201" width="1" height="2" fill="#d0d0d0"/>
<rect x="469" y="1201" width="1" height="2" fill="#d0d0d0"/>
<rect x="491" y="1201" width="1" height="2" fill="#d0d0d0"/>
<rect x="501" y="1201" width="1" height="2" fill="#d0d0d0"/>
<rect x="512" y="1201" width="1" height="2" fill="#d0d0d0"/>
<rect x="523" y="1201" width="1" height="2" fill="#d0d0d0"/>
<rect x="544" y="1201" width="1" height="2" fill="#d0d0d0"/>
<rect x="555" y="1201" width="1" height="2" fill="#d0d0d0"/>
<rect x="566" y="1201" width="1" height="2" fill="#d0d0d0"/>
<rect x="576" y="1201" width="1" height="2" fill="#d0d0d0"/>
<rect x="598" y="1201" width="1" height="2" fill="#d0d0d0"/>
<rect x="608" y="1201" width="1" height="2" fill="#d0d0d0"/>
<rect x="619" y="1201" width="1" height="2" fill="#d0d0d0"/>
<rect x="630" y="1201" width="1" height="2" fill="#d0d0d0"/>
<rect x="651" y="1201" width="1" height="2" fill="#d0d0d0"/>
<rect x="662" y="1201" width="1" height="2" fill="#d0d0d0"/>
<rect x="673" y="1201" width="1" height="2" fill="#d0d0d0"/>
<rect x="683" y="1201" width="1" height="2" fill="#d0d0d0"/>
<rect x="705" y="1201" width="1" height="2" fill="#d0d0d0"/>
<rect x="716" y="1201" width="1" height="2" fill="#d0d0d0"/>
<rect x="726" y="1201" width="1" height="2" fill="#d0d0d0"/>
<rect x="737" y="1201" width="1" height="2" fill="#d0d0d0"/>
<rect x="758" y="1201" width="1" height="2" fill="#d0d0d0"/>
<rect x="769" y="1201" width="1" height="2" fill="#d0d0d0"/>
<rect x="780" y="1201" width="1" height="2" fill="#d0d0d0"/>
<rect x="791" y="1201" width="1" height="2" fill="#d0d0d0"/>
<rect x="812" y="1201" width="1" height="2" fill="#d0d0d0"/>
<rect x="823" y="1201" width="1" height="2" fill="#d0d0d0"/>
<rect x="833" y="1201" width="1" height="2" fill="#d0d0d0"/>
<rect x="844" y="1201" width="1" height="2" fill="#d0d0d0"/>
<rect x="866" y="1201" width="1" height="2" fill="#d0d0d0"/>
<rect x="876" y="1201" width="1" height="2" fill="#d0d0d0"/>
<rect x="887" y="1201" width="1" height="2" fill="#d0d0d0"/>
<rect x="898" y="1201" width="1" height="2" fill="#d0d0d0"/>
<rect x="919" y="1201" width="1" height="2" fill="#d0d0d0"/>
<rect x="930" y="1201" width="1" height="2" fill="#d0d0d0"/>
<rect x="941" y="1201" width="1" height="2" fill="#d0d0d0"/>
<rect x="951" y="1201" width="1" height="2" fill="#d0d0d0"/>
<rect x="973" y="1201" width="1" height="2" fill="#d0d0d0"/>
<rect x="983" y="1201" width="1" height="2" fill="#d0d0d0"/>
<rect x="994" y="1201" width="1" height="2" fill="#d0d0d0"/>
<rect x="1005" y="1201" width="1" height="2" fill="#d0d0d0"/>
<rect x="1026" y="1201" width="1" height="2" fill="#d0d0d0"/>
<rect x="1037" y="1201" width="1" height="2" fill="#d0d0d0"/>
<rect x="1048" y="1201" width="1" height="2" fill="#d0d0d0"/>
<rect x="1058" y="1201" width="1" height="2" fill="#d0d0d0"/>
<rect x="1080" y="1201" width="1" height="2" fill="#d0d0d0"/>
<rect x="1091" y="1201" width="1" height="2" fill="#d0d0d0"/>
<rect x="1101" y="1201" width="1" height="2" fill="#d0d0d0"/>
<rect x="1112" y="1201" width="1" height="2" fill="#d0d0d0"/>
<rect x="1133" y="1201" width="1" height="2" fill="#d0d0d0"/>
<rect x="1144" y="1201" width="1" height="2" fill="#d0d0d0"/>
</g>
<g shape-rendering="crispEdges" fill="#000">
<rect x="97" y="1018" width="7" height="2"/>
<rect x="1155" y="1197" width="2" height="7"/>
<rect x="98" y="1016" width="5" height="2"/>
<rect x="1157" y="1198" width="2" height="5"/>
<rect x="99" y="1014" width="3" height="2"/>
<rect x="1159" y="1199" width="2" height="3"/>
<rect x="100" y="1013" width="1" height="1"/>
<rect x="1161" y="1200" width="2" height="1"/>
</g>
<text x="60.05" y="1029.70" font-size="10.67" textLength="38.42" lengthAdjust="spacingAndGlyphs">100.00</text>
<text x="67.00" y="1064.70" font-size="10.67" textLength="31.43" lengthAdjust="spacingAndGlyphs">80.00</text>
<text x="67.00" y="1099.70" font-size="10.67" textLength="31.43" lengthAdjust="spacingAndGlyphs">60.00</text>
<text x="67.00" y="1134.70" font-size="10.67" textLength="31.43" lengthAdjust="spacingAndGlyphs">40.00</text>
<text x="67.00" y="1169.70" font-size="10.67" textLength="31.43" lengthAdjust="spacingAndGlyphs">20.00</text>
<text x="74.21" y="1204.70" font-size="10.67" textLength="24.45" lengthAdjust="spacingAndGlyphs">0.00</text>
<text x="84.67" y="1213.00" font-size="10.67" textLength="43.69" lengthAdjust="spacingAndGlyphs">21 Sept</text>
<text x="137.67" y="1213.00" font-size="10.67" textLength="43.69" lengthAdjust="spacingAndGlyphs">28 Sept</text>
<text x="198.30" y="1213.00" font-size="10.67" textLength="30.31" lengthAdjust="spacingAndGlyphs">5 Oct</text>
<text x="248.46" y="1213.00" font-size="10.67" textLength="37.50" lengthAdjust="spacingAndGlyphs">12 Oct</text>
<text x="301.46" y="1213.00" font-size="10.67" textLength="37.50" lengthAdjust="spacingAndGlyphs">19 Oct</text>
<text x="355.72" y="1213.00" font-size="10.67" textLength="37.50" lengthAdjust="spacingAndGlyphs">26 Oct</text>
<text x="411.11" y="1213.00" font-size="10.67" textLength="32.83" lengthAdjust="spacingAndGlyphs">2 Nov</text>
<text x="465.11" y="1213.00" font-size="10.67" textLength="32.83" lengthAdjust="spacingAndGlyphs">9 Nov</text>
<text x="514.26" y="1213.00" font-size="10.67" textLength="40.02" lengthAdjust="spacingAndGlyphs">16 Nov</text>
<text x="568.53" y="1213.00" font-size="10.67" textLength="40.02" lengthAdjust="spacingAndGlyphs">23 Nov</text>
<text x="626.37" y="1214.30" font-size="10.67" textLength="32.64" lengthAdjust="spacingAndGlyphs">2 Déc</text>
<text x="679.37" y="1214.30" font-size="10.67" textLength="32.64" lengthAdjust="spacingAndGlyphs">9 Déc</text>
<text x="729.53" y="1214.30" font-size="10.67" textLength="39.83" lengthAdjust="spacingAndGlyphs">16 Déc</text>
<text x="782.79" y="1214.30" font-size="10.67" textLength="39.83" lengthAdjust="spacingAndGlyphs">23 Déc</text>
<text x="839.18" y="1213.00" font-size="10.67" textLength="34.88" lengthAdjust="spacingAndGlyphs">2 Janv</text>
<text x="892.18" y="1213.00" font-size="10.67" textLength="34.88" lengthAdjust="spacingAndGlyphs">9 Janv</text>
<text x="942.33" y="1213.00" font-size="10.67" textLength="42.07" lengthAdjust="spacingAndGlyphs">16 Janv</text>
<text x="996.60" y="1213.00" font-size="10.67" textLength="42.07" lengthAdjust="spacingAndGlyphs">23 Janv</text>
<text x="1049.60" y="1213.00" font-size="10.67" textLength="42.07" lengthAdjust="spacingAndGlyphs">30 Janv</text>
<text x="1109.16" y="1214.30" font-size="10.67" textLength="30.92" lengthAdjust="spacingAndGlyphs">6 Fév</text>
<text x="487.02" y="1226.50" font-size="10.67" textLength="278.69" lengthAdjust="spacingAndGlyphs">Date (du 21 Septembre 2016 au 8 Février 2017)</text>
<text transform="translate(58.00 1121.25) rotate(-90)" font-size="10.67" textLength="21.57" lengthAdjust="spacingAndGlyphs">RSI</text>
<text x="110.99" y="1294.60" font-size="24" textLength="83.84" lengthAdjust="spacingAndGlyphs" class="T">Sanofi:</text>
<text x="203.27" y="1294.60" font-size="24" textLength="119.85" lengthAdjust="spacingAndGlyphs" class="T">graphique</text>
<text x="330.29" y="1294.60" font-size="24" textLength="31.81" lengthAdjust="spacingAndGlyphs" class="T">du</text>
<text x="368.77" y="1294.60" font-size="24" textLength="71.59" lengthAdjust="spacingAndGlyphs" class="T">MACD</text>
<text x="450.96" y="1294.60" font-size="24" textLength="9.30" lengthAdjust="spacingAndGlyphs" class="T">-</text>
<text x="467.69" y="1294.60" font-size="24" textLength="187.62" lengthAdjust="spacingAndGlyphs" class="T">MACD(12,26,9)</text>
<text x="664.24" y="1294.60" font-size="24" textLength="9.43" lengthAdjust="spacingAndGlyphs" class="T">-</text>
<text x="682.25" y="1294.60" font-size="24" textLength="208.63" lengthAdjust="spacingAndGlyphs" class="T">AnalyBourse.com</text>
<g shape-rendering="crispEdges">
<rect x="102" y="1351" width="1049" height="24" fill="#f8f8f8"/>
<rect x="102" y="1401" width="1049" height="24" fill="#f8f8f8"/>
<rect x="102" y="1451" width="1049" height="24" fill="#f8f8f8"/>
</g>
<g shape-rendering="crispEdges" fill="none" stroke-width="1">
<line x1="105.5" y1="1325" x2="105.5" y2="1500" stroke="#000" stroke-opacity="0.125" stroke-dasharray="4 4" stroke-dashoffset="1"/>
<line x1="116.5" y1="1325" x2="116.5" y2="1500" stroke="#000" stroke-opacity="0.045" stroke-dasharray="6 6" stroke-dashoffset="1"/>
<line x1="126.5" y1="1325" x2="126.5" y2="1500" stroke="#000" stroke-opacity="0.045" stroke-dasharray="6 6" stroke-dashoffset="1"/>
<line x1="137.5" y1="1325" x2="137.5" y2="1500" stroke="#000" stroke-opacity="0.045" stroke-dasharray="6 6" stroke-dashoffset="1"/>
<line x1="148.5" y1="1325" x2="148.5" y2="1500" stroke="#000" stroke-opacity="0.045" stroke-dasharray="6 6" stroke-dashoffset="1"/>
<line x1="158.5" y1="1325" x2="158.5" y2="1500" stroke="#000" stroke-opacity="0.125" stroke-dasharray="4 4" stroke-dashoffset="1"/>
<line x1="169.5" y1="1325" x2="169.5" y2="1500" stroke="#000" stroke-opacity="0.045" stroke-dasharray="6 6" stroke-dashoffset="1"/>
<line x1="180.5" y1="1325" x2="180.5" y2="1500" stroke="#000" stroke-opacity="0.045" stroke-dasharray="6 6" stroke-dashoffset="1"/>
<line x1="191.5" y1="1325" x2="191.5" y2="1500" stroke="#000" stroke-opacity="0.045" stroke-dasharray="6 6" stroke-dashoffset="1"/>
<line x1="201.5" y1="1325" x2="201.5" y2="1500" stroke="#000" stroke-opacity="0.045" stroke-dasharray="6 6" stroke-dashoffset="1"/>
<line x1="212.5" y1="1325" x2="212.5" y2="1500" stroke="#000" stroke-opacity="0.125" stroke-dasharray="4 4" stroke-dashoffset="1"/>
<line x1="223.5" y1="1325" x2="223.5" y2="1500" stroke="#000" stroke-opacity="0.045" stroke-dasharray="6 6" stroke-dashoffset="1"/>
<line x1="233.5" y1="1325" x2="233.5" y2="1500" stroke="#000" stroke-opacity="0.045" stroke-dasharray="6 6" stroke-dashoffset="1"/>
<line x1="244.5" y1="1325" x2="244.5" y2="1500" stroke="#000" stroke-opacity="0.045" stroke-dasharray="6 6" stroke-dashoffset="1"/>
<line x1="255.5" y1="1325" x2="255.5" y2="1500" stroke="#000" stroke-opacity="0.045" stroke-dasharray="6 6" stroke-dashoffset="1"/>
<line x1="266.5" y1="1325" x2="266.5" y2="1500" stroke="#000" stroke-opacity="0.125" stroke-dasharray="4 4" stroke-dashoffset="1"/>
<line x1="276.5" y1="1325" x2="276.5" y2="1500" stroke="#000" stroke-opacity="0.045" stroke-dasharray="6 6" stroke-dashoffset="1"/>
<line x1="287.5" y1="1325" x2="287.5" y2="1500" stroke="#000" stroke-opacity="0.045" stroke-dasharray="6 6" stroke-dashoffset="1"/>
<line x1="298.5" y1="1325" x2="298.5" y2="1500" stroke="#000" stroke-opacity="0.045" stroke-dasharray="6 6" stroke-dashoffset="1"/>
<line x1="308.5" y1="1325" x2="308.5" y2="1500" stroke="#000" stroke-opacity="0.045" stroke-dasharray="6 6" stroke-dashoffset="1"/>
<line x1="319.5" y1="1325" x2="319.5" y2="1500" stroke="#000" stroke-opacity="0.125" stroke-dasharray="4 4" stroke-dashoffset="1"/>
<line x1="330.5" y1="1325" x2="330.5" y2="1500" stroke="#000" stroke-opacity="0.045" stroke-dasharray="6 6" stroke-dashoffset="1"/>
<line x1="341.5" y1="1325" x2="341.5" y2="1500" stroke="#000" stroke-opacity="0.045" stroke-dasharray="6 6" stroke-dashoffset="1"/>
<line x1="351.5" y1="1325" x2="351.5" y2="1500" stroke="#000" stroke-opacity="0.045" stroke-dasharray="6 6" stroke-dashoffset="1"/>
<line x1="362.5" y1="1325" x2="362.5" y2="1500" stroke="#000" stroke-opacity="0.045" stroke-dasharray="6 6" stroke-dashoffset="1"/>
<line x1="373.5" y1="1325" x2="373.5" y2="1500" stroke="#000" stroke-opacity="0.125" stroke-dasharray="4 4" stroke-dashoffset="1"/>
<line x1="383.5" y1="1325" x2="383.5" y2="1500" stroke="#000" stroke-opacity="0.045" stroke-dasharray="6 6" stroke-dashoffset="1"/>
<line x1="394.5" y1="1325" x2="394.5" y2="1500" stroke="#000" stroke-opacity="0.045" stroke-dasharray="6 6" stroke-dashoffset="1"/>
<line x1="405.5" y1="1325" x2="405.5" y2="1500" stroke="#000" stroke-opacity="0.045" stroke-dasharray="6 6" stroke-dashoffset="1"/>
<line x1="416.5" y1="1325" x2="416.5" y2="1500" stroke="#000" stroke-opacity="0.045" stroke-dasharray="6 6" stroke-dashoffset="1"/>
<line x1="426.5" y1="1325" x2="426.5" y2="1500" stroke="#000" stroke-opacity="0.125" stroke-dasharray="4 4" stroke-dashoffset="1"/>
<line x1="437.5" y1="1325" x2="437.5" y2="1500" stroke="#000" stroke-opacity="0.045" stroke-dasharray="6 6" stroke-dashoffset="1"/>
<line x1="448.5" y1="1325" x2="448.5" y2="1500" stroke="#000" stroke-opacity="0.045" stroke-dasharray="6 6" stroke-dashoffset="1"/>
<line x1="458.5" y1="1325" x2="458.5" y2="1500" stroke="#000" stroke-opacity="0.045" stroke-dasharray="6 6" stroke-dashoffset="1"/>
<line x1="469.5" y1="1325" x2="469.5" y2="1500" stroke="#000" stroke-opacity="0.045" stroke-dasharray="6 6" stroke-dashoffset="1"/>
<line x1="480.5" y1="1325" x2="480.5" y2="1500" stroke="#000" stroke-opacity="0.125" stroke-dasharray="4 4" stroke-dashoffset="1"/>
<line x1="491.5" y1="1325" x2="491.5" y2="1500" stroke="#000" stroke-opacity="0.045" stroke-dasharray="6 6" stroke-dashoffset="1"/>
<line x1="501.5" y1="1325" x2="501.5" y2="1500" stroke="#000" stroke-opacity="0.045" stroke-dasharray="6 6" stroke-dashoffset="1"/>
<line x1="512.5" y1="1325" x2="512.5" y2="1500" stroke="#000" stroke-opacity="0.045" stroke-dasharray="6 6" stroke-dashoffset="1"/>
<line x1="523.5" y1="1325" x2="523.5" y2="1500" stroke="#000" stroke-opacity="0.045" stroke-dasharray="6 6" stroke-dashoffset="1"/>
<line x1="533.5" y1="1325" x2="533.5" y2="1500" stroke="#000" stroke-opacity="0.125" stroke-dasharray="4 4" stroke-dashoffset="1"/>
<line x1="544.5" y1="1325" x2="544.5" y2="1500" stroke="#000" stroke-opacity="0.045" stroke-dasharray="6 6" stroke-dashoffset="1"/>
<line x1="555.5" y1="1325" x2="555.5" y2="1500" stroke="#000" stroke-opacity="0.045" stroke-dasharray="6 6" stroke-dashoffset="1"/>
<line x1="566.5" y1="1325" x2="566.5" y2="1500" stroke="#000" stroke-opacity="0.045" stroke-dasharray="6 6" stroke-dashoffset="1"/>
<line x1="576.5" y1="1325" x2="576.5" y2="1500" stroke="#000" stroke-opacity="0.045" stroke-dasharray="6 6" stroke-dashoffset="1"/>
<line x1="587.5" y1="1325" x2="587.5" y2="1500" stroke="#000" stroke-opacity="0.125" stroke-dasharray="4 4" stroke-dashoffset="1"/>
<line x1="598.5" y1="1325" x2="598.5" y2="1500" stroke="#000" stroke-opacity="0.045" stroke-dasharray="6 6" stroke-dashoffset="1"/>
<line x1="608.5" y1="1325" x2="608.5" y2="1500" stroke="#000" stroke-opacity="0.045" stroke-dasharray="6 6" stroke-dashoffset="1"/>
<line x1="619.5" y1="1325" x2="619.5" y2="1500" stroke="#000" stroke-opacity="0.045" stroke-dasharray="6 6" stroke-dashoffset="1"/>
<line x1="630.5" y1="1325" x2="630.5" y2="1500" stroke="#000" stroke-opacity="0.045" stroke-dasharray="6 6" stroke-dashoffset="1"/>
<line x1="641.5" y1="1325" x2="641.5" y2="1500" stroke="#000" stroke-opacity="0.125" stroke-dasharray="4 4" stroke-dashoffset="1"/>
<line x1="651.5" y1="1325" x2="651.5" y2="1500" stroke="#000" stroke-opacity="0.045" stroke-dasharray="6 6" stroke-dashoffset="1"/>
<line x1="662.5" y1="1325" x2="662.5" y2="1500" stroke="#000" stroke-opacity="0.045" stroke-dasharray="6 6" stroke-dashoffset="1"/>
<line x1="673.5" y1="1325" x2="673.5" y2="1500" stroke="#000" stroke-opacity="0.045" stroke-dasharray="6 6" stroke-dashoffset="1"/>
<line x1="683.5" y1="1325" x2="683.5" y2="1500" stroke="#000" stroke-opacity="0.045" stroke-dasharray="6 6" stroke-dashoffset="1"/>
<line x1="694.5" y1="1325" x2="694.5" y2="1500" stroke="#000" stroke-opacity="0.125" stroke-dasharray="4 4" stroke-dashoffset="1"/>
<line x1="705.5" y1="1325" x2="705.5" y2="1500" stroke="#000" stroke-opacity="0.045" stroke-dasharray="6 6" stroke-dashoffset="1"/>
<line x1="716.5" y1="1325" x2="716.5" y2="1500" stroke="#000" stroke-opacity="0.045" stroke-dasharray="6 6" stroke-dashoffset="1"/>
<line x1="726.5" y1="1325" x2="726.5" y2="1500" stroke="#000" stroke-opacity="0.045" stroke-dasharray="6 6" stroke-dashoffset="1"/>
<line x1="737.5" y1="1325" x2="737.5" y2="1500" stroke="#000" stroke-opacity="0.045" stroke-dasharray="6 6" stroke-dashoffset="1"/>
<line x1="748.5" y1="1325" x2="748.5" y2="1500" stroke="#000" stroke-opacity="0.125" stroke-dasharray="4 4" stroke-dashoffset="1"/>
<line x1="758.5" y1="1325" x2="758.5" y2="1500" stroke="#000" stroke-opacity="0.045" stroke-dasharray="6 6" stroke-dashoffset="1"/>
<line x1="769.5" y1="1325" x2="769.5" y2="1500" stroke="#000" stroke-opacity="0.045" stroke-dasharray="6 6" stroke-dashoffset="1"/>
<line x1="780.5" y1="1325" x2="780.5" y2="1500" stroke="#000" stroke-opacity="0.045" stroke-dasharray="6 6" stroke-dashoffset="1"/>
<line x1="791.5" y1="1325" x2="791.5" y2="1500" stroke="#000" stroke-opacity="0.045" stroke-dasharray="6 6" stroke-dashoffset="1"/>
<line x1="801.5" y1="1325" x2="801.5" y2="1500" stroke="#000" stroke-opacity="0.125" stroke-dasharray="4 4" stroke-dashoffset="1"/>
<line x1="812.5" y1="1325" x2="812.5" y2="1500" stroke="#000" stroke-opacity="0.045" stroke-dasharray="6 6" stroke-dashoffset="1"/>
<line x1="823.5" y1="1325" x2="823.5" y2="1500" stroke="#000" stroke-opacity="0.045" stroke-dasharray="6 6" stroke-dashoffset="1"/>
<line x1="833.5" y1="1325" x2="833.5" y2="1500" stroke="#000" stroke-opacity="0.045" stroke-dasharray="6 6" stroke-dashoffset="1"/>
<line x1="844.5" y1="1325" x2="844.5" y2="1500" stroke="#000" stroke-opacity="0.045" stroke-dasharray="6 6" stroke-dashoffset="1"/>
<line x1="855.5" y1="1325" x2="855.5" y2="1500" stroke="#000" stroke-opacity="0.125" stroke-dasharray="4 4" stroke-dashoffset="1"/>
<line x1="866.5" y1="1325" x2="866.5" y2="1500" stroke="#000" stroke-opacity="0.045" stroke-dasharray="6 6" stroke-dashoffset="1"/>
<line x1="876.5" y1="1325" x2="876.5" y2="1500" stroke="#000" stroke-opacity="0.045" stroke-dasharray="6 6" stroke-dashoffset="1"/>
<line x1="887.5" y1="1325" x2="887.5" y2="1500" stroke="#000" stroke-opacity="0.045" stroke-dasharray="6 6" stroke-dashoffset="1"/>
<line x1="898.5" y1="1325" x2="898.5" y2="1500" stroke="#000" stroke-opacity="0.045" stroke-dasharray="6 6" stroke-dashoffset="1"/>
<line x1="908.5" y1="1325" x2="908.5" y2="1500" stroke="#000" stroke-opacity="0.125" stroke-dasharray="4 4" stroke-dashoffset="1"/>
<line x1="919.5" y1="1325" x2="919.5" y2="1500" stroke="#000" stroke-opacity="0.045" stroke-dasharray="6 6" stroke-dashoffset="1"/>
<line x1="930.5" y1="1325" x2="930.5" y2="1500" stroke="#000" stroke-opacity="0.045" stroke-dasharray="6 6" stroke-dashoffset="1"/>
<line x1="941.5" y1="1325" x2="941.5" y2="1500" stroke="#000" stroke-opacity="0.045" stroke-dasharray="6 6" stroke-dashoffset="1"/>
<line x1="951.5" y1="1325" x2="951.5" y2="1500" stroke="#000" stroke-opacity="0.045" stroke-dasharray="6 6" stroke-dashoffset="1"/>
<line x1="962.5" y1="1325" x2="962.5" y2="1500" stroke="#000" stroke-opacity="0.125" stroke-dasharray="4 4" stroke-dashoffset="1"/>
<line x1="973.5" y1="1325" x2="973.5" y2="1500" stroke="#000" stroke-opacity="0.045" stroke-dasharray="6 6" stroke-dashoffset="1"/>
<line x1="983.5" y1="1325" x2="983.5" y2="1500" stroke="#000" stroke-opacity="0.045" stroke-dasharray="6 6" stroke-dashoffset="1"/>
<line x1="994.5" y1="1325" x2="994.5" y2="1500" stroke="#000" stroke-opacity="0.045" stroke-dasharray="6 6" stroke-dashoffset="1"/>
<line x1="1005.5" y1="1325" x2="1005.5" y2="1500" stroke="#000" stroke-opacity="0.045" stroke-dasharray="6 6" stroke-dashoffset="1"/>
<line x1="1016.5" y1="1325" x2="1016.5" y2="1500" stroke="#000" stroke-opacity="0.125" stroke-dasharray="4 4" stroke-dashoffset="1"/>
<line x1="1026.5" y1="1325" x2="1026.5" y2="1500" stroke="#000" stroke-opacity="0.045" stroke-dasharray="6 6" stroke-dashoffset="1"/>
<line x1="1037.5" y1="1325" x2="1037.5" y2="1500" stroke="#000" stroke-opacity="0.045" stroke-dasharray="6 6" stroke-dashoffset="1"/>
<line x1="1048.5" y1="1325" x2="1048.5" y2="1500" stroke="#000" stroke-opacity="0.045" stroke-dasharray="6 6" stroke-dashoffset="1"/>
<line x1="1058.5" y1="1325" x2="1058.5" y2="1500" stroke="#000" stroke-opacity="0.045" stroke-dasharray="6 6" stroke-dashoffset="1"/>
<line x1="1069.5" y1="1325" x2="1069.5" y2="1500" stroke="#000" stroke-opacity="0.125" stroke-dasharray="4 4" stroke-dashoffset="1"/>
<line x1="1080.5" y1="1325" x2="1080.5" y2="1500" stroke="#000" stroke-opacity="0.045" stroke-dasharray="6 6" stroke-dashoffset="1"/>
<line x1="1091.5" y1="1325" x2="1091.5" y2="1500" stroke="#000" stroke-opacity="0.045" stroke-dasharray="6 6" stroke-dashoffset="1"/>
<line x1="1101.5" y1="1325" x2="1101.5" y2="1500" stroke="#000" stroke-opacity="0.045" stroke-dasharray="6 6" stroke-dashoffset="1"/>
<line x1="1112.5" y1="1325" x2="1112.5" y2="1500" stroke="#000" stroke-opacity="0.045" stroke-dasharray="6 6" stroke-dashoffset="1"/>
<line x1="1123.5" y1="1325" x2="1123.5" y2="1500" stroke="#000" stroke-opacity="0.125" stroke-dasharray="4 4" stroke-dashoffset="1"/>
<line x1="1133.5" y1="1325" x2="1133.5" y2="1500" stroke="#000" stroke-opacity="0.045" stroke-dasharray="6 6" stroke-dashoffset="1"/>
<line x1="1144.5" y1="1325" x2="1144.5" y2="1500" stroke="#000" stroke-opacity="0.045" stroke-dasharray="6 6" stroke-dashoffset="1"/>
<line x1="102" y1="1325.5" x2="1151" y2="1325.5" stroke="#000" stroke-opacity="0.115" stroke-dasharray="4 4" stroke-dashoffset="3"/>
<line x1="102" y1="1350.5" x2="1151" y2="1350.5" stroke="#000" stroke-opacity="0.115" stroke-dasharray="4 4" stroke-dashoffset="3"/>
<line x1="102" y1="1375.5" x2="1151" y2="1375.5" stroke="#000" stroke-opacity="0.115" stroke-dasharray="4 4" stroke-dashoffset="3"/>
<line x1="102" y1="1400.5" x2="1151" y2="1400.5" stroke="#000" stroke-opacity="0.115" stroke-dasharray="4 4" stroke-dashoffset="3"/>
<line x1="102" y1="1425.5" x2="1151" y2="1425.5" stroke="#000" stroke-opacity="0.115" stroke-dasharray="4 4" stroke-dashoffset="3"/>
<line x1="102" y1="1450.5" x2="1151" y2="1450.5" stroke="#000" stroke-opacity="0.115" stroke-dasharray="4 4" stroke-dashoffset="3"/>
<line x1="102" y1="1475.5" x2="1151" y2="1475.5" stroke="#000" stroke-opacity="0.115" stroke-dasharray="4 4" stroke-dashoffset="3"/>
</g>
<defs><clipPath id="cpos"><rect x="100" y="1325" width="1060" height="101"/></clipPath><clipPath id="cneg"><rect x="100" y="1426" width="1060" height="74"/></clipPath></defs>
<path d="M105.5 1419.3C106.8 1419.4 114.0 1419.8 116.5 1420.5C119.0 1421.2 124.0 1423.9 126.5 1425.5C128.9 1427.1 134.9 1433.0 137.5 1434.3C140.1 1435.6 146.1 1436.4 148.5 1436.3C150.9 1436.2 156.1 1433.7 158.5 1433.3C160.9 1432.9 166.9 1432.9 169.5 1433.0C172.1 1433.1 177.9 1434.3 180.5 1433.8C183.1 1433.3 189.1 1430.5 191.5 1428.8C193.9 1427.0 199.1 1420.5 201.5 1418.8C203.9 1417.0 209.9 1414.7 212.5 1413.8C215.1 1412.9 221.1 1411.4 223.5 1410.8C225.9 1410.2 231.1 1409.5 233.5 1408.3C235.9 1407.1 241.9 1401.8 244.5 1400.8C247.1 1399.8 252.9 1399.4 255.5 1400.0C258.1 1400.6 264.1 1404.8 266.5 1406.3C268.9 1407.8 274.1 1412.0 276.5 1413.0C278.9 1414.0 284.9 1414.0 287.5 1415.0C290.1 1416.0 296.1 1421.0 298.5 1421.3C300.9 1421.6 306.1 1418.0 308.5 1417.5C310.9 1417.0 316.9 1417.8 319.5 1417.0C322.1 1416.2 327.9 1411.5 330.5 1410.5C333.1 1409.5 339.1 1408.3 341.5 1408.0C343.9 1407.7 349.1 1406.8 351.5 1407.5C353.9 1408.2 359.9 1412.3 362.5 1413.8C365.1 1415.3 371.1 1419.3 373.5 1420.0C375.9 1420.7 381.1 1422.8 383.5 1420.0C385.9 1417.2 391.9 1399.9 394.5 1396.3C397.1 1392.7 402.9 1390.8 405.5 1389.5C408.1 1388.2 414.1 1386.3 416.5 1385.0C418.9 1383.7 424.1 1379.6 426.5 1378.3C428.9 1377.0 434.9 1373.7 437.5 1373.8C440.1 1373.9 446.1 1378.6 448.5 1379.3C450.9 1380.0 456.1 1380.2 458.5 1380.0C460.9 1379.8 466.9 1381.6 469.5 1377.5C472.1 1373.4 477.9 1350.2 480.5 1345.0C483.1 1339.8 489.1 1333.9 491.5 1333.0C493.9 1332.1 499.1 1336.5 501.5 1337.0C503.9 1337.5 509.9 1336.5 512.5 1337.0C515.1 1337.5 521.0 1340.1 523.5 1341.3C526.0 1342.5 531.0 1345.3 533.5 1347.5C536.0 1349.7 541.9 1356.2 544.5 1360.0C547.1 1363.8 552.9 1374.8 555.5 1380.0C558.1 1385.2 564.0 1399.5 566.5 1405.0C569.0 1410.5 574.0 1422.2 576.5 1427.5C579.0 1432.8 584.9 1446.0 587.5 1450.0C590.1 1454.0 596.0 1460.2 598.5 1461.8C601.0 1463.4 606.0 1463.7 608.5 1463.3C611.0 1462.9 616.9 1458.2 619.5 1458.0C622.1 1457.8 627.9 1461.3 630.5 1461.8C633.1 1462.3 639.0 1463.1 641.5 1462.5C644.0 1461.9 649.0 1457.6 651.5 1457.0C654.0 1456.4 659.9 1457.1 662.5 1457.5C665.1 1457.9 671.0 1460.2 673.5 1460.8C676.0 1461.4 681.0 1464.0 683.5 1463.0C686.0 1462.0 691.9 1454.4 694.5 1452.5C697.1 1450.6 702.9 1448.3 705.5 1446.3C708.1 1444.3 714.0 1435.4 716.5 1435.0C719.0 1434.6 724.0 1441.4 726.5 1442.5C729.0 1443.6 734.9 1442.5 737.5 1444.3C740.1 1446.0 746.0 1455.5 748.5 1457.5C751.0 1459.5 756.0 1461.9 758.5 1461.8C761.0 1461.7 766.9 1457.6 769.5 1457.0C772.1 1456.4 777.9 1457.9 780.5 1457.0C783.1 1456.1 789.0 1450.7 791.5 1449.3C794.0 1447.9 799.0 1446.1 801.5 1445.0C804.0 1443.9 809.9 1441.0 812.5 1440.0C815.1 1439.0 821.0 1437.4 823.5 1436.8C826.0 1436.2 831.0 1436.1 833.5 1435.0C836.0 1433.9 841.9 1429.7 844.5 1427.5C847.1 1425.3 852.9 1418.8 855.5 1416.3C858.1 1413.8 864.0 1407.9 866.5 1406.3C869.0 1404.7 874.0 1403.0 876.5 1402.5C879.0 1402.0 884.9 1400.2 887.5 1401.8C890.1 1403.4 896.0 1414.2 898.5 1416.3C901.0 1418.4 906.0 1419.4 908.5 1419.5C911.0 1419.6 916.9 1416.5 919.5 1417.0C922.1 1417.5 927.9 1421.7 930.5 1423.8C933.1 1425.9 939.0 1434.1 941.5 1435.0C944.0 1435.9 949.0 1431.2 951.5 1431.8C954.0 1432.4 959.9 1438.0 962.5 1440.0C965.1 1442.0 971.0 1447.9 973.5 1449.3C976.0 1450.7 981.0 1450.7 983.5 1451.8C986.0 1452.9 991.9 1457.5 994.5 1458.8C997.1 1460.1 1002.9 1461.5 1005.5 1463.0C1008.1 1464.5 1014.0 1469.2 1016.5 1471.3C1019.0 1473.4 1024.0 1479.6 1026.5 1480.8C1029.0 1482.0 1034.9 1482.4 1037.5 1482.0C1040.1 1481.6 1046.0 1478.1 1048.5 1477.0C1051.0 1475.9 1056.0 1474.0 1058.5 1472.5C1061.0 1471.0 1066.9 1465.8 1069.5 1464.3C1072.1 1462.8 1077.9 1462.4 1080.5 1460.0C1083.1 1457.6 1089.0 1446.2 1091.5 1443.8C1094.0 1441.4 1099.0 1440.9 1101.5 1439.3C1104.0 1437.7 1109.9 1431.8 1112.5 1430.0C1115.1 1428.2 1121.0 1425.2 1123.5 1423.8C1126.0 1422.4 1131.0 1420.9 1133.5 1418.3C1136.0 1415.7 1143.2 1403.7 1144.5 1401.8 L1144.5 1426 L105.5 1426 Z" fill="#00ff00" fill-opacity="0.41" shape-rendering="crispEdges" clip-path="url(#cpos)"/>
<path d="M105.5 1419.3C106.8 1419.4 114.0 1419.8 116.5 1420.5C119.0 1421.2 124.0 1423.9 126.5 1425.5C128.9 1427.1 134.9 1433.0 137.5 1434.3C140.1 1435.6 146.1 1436.4 148.5 1436.3C150.9 1436.2 156.1 1433.7 158.5 1433.3C160.9 1432.9 166.9 1432.9 169.5 1433.0C172.1 1433.1 177.9 1434.3 180.5 1433.8C183.1 1433.3 189.1 1430.5 191.5 1428.8C193.9 1427.0 199.1 1420.5 201.5 1418.8C203.9 1417.0 209.9 1414.7 212.5 1413.8C215.1 1412.9 221.1 1411.4 223.5 1410.8C225.9 1410.2 231.1 1409.5 233.5 1408.3C235.9 1407.1 241.9 1401.8 244.5 1400.8C247.1 1399.8 252.9 1399.4 255.5 1400.0C258.1 1400.6 264.1 1404.8 266.5 1406.3C268.9 1407.8 274.1 1412.0 276.5 1413.0C278.9 1414.0 284.9 1414.0 287.5 1415.0C290.1 1416.0 296.1 1421.0 298.5 1421.3C300.9 1421.6 306.1 1418.0 308.5 1417.5C310.9 1417.0 316.9 1417.8 319.5 1417.0C322.1 1416.2 327.9 1411.5 330.5 1410.5C333.1 1409.5 339.1 1408.3 341.5 1408.0C343.9 1407.7 349.1 1406.8 351.5 1407.5C353.9 1408.2 359.9 1412.3 362.5 1413.8C365.1 1415.3 371.1 1419.3 373.5 1420.0C375.9 1420.7 381.1 1422.8 383.5 1420.0C385.9 1417.2 391.9 1399.9 394.5 1396.3C397.1 1392.7 402.9 1390.8 405.5 1389.5C408.1 1388.2 414.1 1386.3 416.5 1385.0C418.9 1383.7 424.1 1379.6 426.5 1378.3C428.9 1377.0 434.9 1373.7 437.5 1373.8C440.1 1373.9 446.1 1378.6 448.5 1379.3C450.9 1380.0 456.1 1380.2 458.5 1380.0C460.9 1379.8 466.9 1381.6 469.5 1377.5C472.1 1373.4 477.9 1350.2 480.5 1345.0C483.1 1339.8 489.1 1333.9 491.5 1333.0C493.9 1332.1 499.1 1336.5 501.5 1337.0C503.9 1337.5 509.9 1336.5 512.5 1337.0C515.1 1337.5 521.0 1340.1 523.5 1341.3C526.0 1342.5 531.0 1345.3 533.5 1347.5C536.0 1349.7 541.9 1356.2 544.5 1360.0C547.1 1363.8 552.9 1374.8 555.5 1380.0C558.1 1385.2 564.0 1399.5 566.5 1405.0C569.0 1410.5 574.0 1422.2 576.5 1427.5C579.0 1432.8 584.9 1446.0 587.5 1450.0C590.1 1454.0 596.0 1460.2 598.5 1461.8C601.0 1463.4 606.0 1463.7 608.5 1463.3C611.0 1462.9 616.9 1458.2 619.5 1458.0C622.1 1457.8 627.9 1461.3 630.5 1461.8C633.1 1462.3 639.0 1463.1 641.5 1462.5C644.0 1461.9 649.0 1457.6 651.5 1457.0C654.0 1456.4 659.9 1457.1 662.5 1457.5C665.1 1457.9 671.0 1460.2 673.5 1460.8C676.0 1461.4 681.0 1464.0 683.5 1463.0C686.0 1462.0 691.9 1454.4 694.5 1452.5C697.1 1450.6 702.9 1448.3 705.5 1446.3C708.1 1444.3 714.0 1435.4 716.5 1435.0C719.0 1434.6 724.0 1441.4 726.5 1442.5C729.0 1443.6 734.9 1442.5 737.5 1444.3C740.1 1446.0 746.0 1455.5 748.5 1457.5C751.0 1459.5 756.0 1461.9 758.5 1461.8C761.0 1461.7 766.9 1457.6 769.5 1457.0C772.1 1456.4 777.9 1457.9 780.5 1457.0C783.1 1456.1 789.0 1450.7 791.5 1449.3C794.0 1447.9 799.0 1446.1 801.5 1445.0C804.0 1443.9 809.9 1441.0 812.5 1440.0C815.1 1439.0 821.0 1437.4 823.5 1436.8C826.0 1436.2 831.0 1436.1 833.5 1435.0C836.0 1433.9 841.9 1429.7 844.5 1427.5C847.1 1425.3 852.9 1418.8 855.5 1416.3C858.1 1413.8 864.0 1407.9 866.5 1406.3C869.0 1404.7 874.0 1403.0 876.5 1402.5C879.0 1402.0 884.9 1400.2 887.5 1401.8C890.1 1403.4 896.0 1414.2 898.5 1416.3C901.0 1418.4 906.0 1419.4 908.5 1419.5C911.0 1419.6 916.9 1416.5 919.5 1417.0C922.1 1417.5 927.9 1421.7 930.5 1423.8C933.1 1425.9 939.0 1434.1 941.5 1435.0C944.0 1435.9 949.0 1431.2 951.5 1431.8C954.0 1432.4 959.9 1438.0 962.5 1440.0C965.1 1442.0 971.0 1447.9 973.5 1449.3C976.0 1450.7 981.0 1450.7 983.5 1451.8C986.0 1452.9 991.9 1457.5 994.5 1458.8C997.1 1460.1 1002.9 1461.5 1005.5 1463.0C1008.1 1464.5 1014.0 1469.2 1016.5 1471.3C1019.0 1473.4 1024.0 1479.6 1026.5 1480.8C1029.0 1482.0 1034.9 1482.4 1037.5 1482.0C1040.1 1481.6 1046.0 1478.1 1048.5 1477.0C1051.0 1475.9 1056.0 1474.0 1058.5 1472.5C1061.0 1471.0 1066.9 1465.8 1069.5 1464.3C1072.1 1462.8 1077.9 1462.4 1080.5 1460.0C1083.1 1457.6 1089.0 1446.2 1091.5 1443.8C1094.0 1441.4 1099.0 1440.9 1101.5 1439.3C1104.0 1437.7 1109.9 1431.8 1112.5 1430.0C1115.1 1428.2 1121.0 1425.2 1123.5 1423.8C1126.0 1422.4 1131.0 1420.9 1133.5 1418.3C1136.0 1415.7 1143.2 1403.7 1144.5 1401.8 L1144.5 1426 L105.5 1426 Z" fill="#ff0000" fill-opacity="0.41" shape-rendering="crispEdges" clip-path="url(#cneg)"/>
<rect x="105" y="1425" width="1040" height="1" fill="#8cf88c" shape-rendering="crispEdges"/>
<g shape-rendering="crispEdges">
<rect x="100" y="1318" width="1" height="183" fill="#000"/>
<rect x="100" y="1500" width="1056" height="1" fill="#000"/>
<rect x="98" y="1325" width="5" height="1" fill="#000"/>
<rect x="98" y="1337" width="2" height="1" fill="#f00"/>
<rect x="98" y="1350" width="5" height="1" fill="#000"/>
<rect x="98" y="1362" width="2" height="1" fill="#f00"/>
<rect x="98" y="1375" width="5" height="1" fill="#000"/>
<rect x="98" y="1387" width="2" height="1" fill="#f00"/>
<rect x="98" y="1400" width="5" height="1" fill="#000"/>
<rect x="98" y="1412" width="2" height="1" fill="#f00"/>
<rect x="98" y="1425" width="5" height="1" fill="#000"/>
<rect x="98" y="1437" width="2" height="1" fill="#f00"/>
<rect x="98" y="1450" width="5" height="1" fill="#000"/>
<rect x="98" y="1462" width="2" height="1" fill="#f00"/>
<rect x="98" y="1475" width="5" height="1" fill="#000"/>
<rect x="98" y="1487" width="2" height="1" fill="#f00"/>
<rect x="98" y="1500" width="5" height="1" fill="#000"/>
<rect x="105" y="1498" width="1" height="5" fill="#000"/>
<rect x="158" y="1498" width="1" height="5" fill="#000"/>
<rect x="212" y="1498" width="1" height="5" fill="#000"/>
<rect x="266" y="1498" width="1" height="5" fill="#000"/>
<rect x="319" y="1498" width="1" height="5" fill="#000"/>
<rect x="373" y="1498" width="1" height="5" fill="#000"/>
<rect x="426" y="1498" width="1" height="5" fill="#000"/>
<rect x="480" y="1498" width="1" height="5" fill="#000"/>
<rect x="533" y="1498" width="1" height="5" fill="#000"/>
<rect x="587" y="1498" width="1" height="5" fill="#000"/>
<rect x="641" y="1498" width="1" height="5" fill="#000"/>
<rect x="694" y="1498" width="1" height="5" fill="#000"/>
<rect x="748" y="1498" width="1" height="5" fill="#000"/>
<rect x="801" y="1498" width="1" height="5" fill="#000"/>
<rect x="855" y="1498" width="1" height="5" fill="#000"/>
<rect x="908" y="1498" width="1" height="5" fill="#000"/>
<rect x="962" y="1498" width="1" height="5" fill="#000"/>
<rect x="1016" y="1498" width="1" height="5" fill="#000"/>
<rect x="1069" y="1498" width="1" height="5" fill="#000"/>
<rect x="1123" y="1498" width="1" height="5" fill="#000"/>
<rect x="116" y="1501" width="1" height="2" fill="#d0d0d0"/>
<rect x="126" y="1501" width="1" height="2" fill="#d0d0d0"/>
<rect x="137" y="1501" width="1" height="2" fill="#d0d0d0"/>
<rect x="148" y="1501" width="1" height="2" fill="#d0d0d0"/>
<rect x="169" y="1501" width="1" height="2" fill="#d0d0d0"/>
<rect x="180" y="1501" width="1" height="2" fill="#d0d0d0"/>
<rect x="191" y="1501" width="1" height="2" fill="#d0d0d0"/>
<rect x="201" y="1501" width="1" height="2" fill="#d0d0d0"/>
<rect x="223" y="1501" width="1" height="2" fill="#d0d0d0"/>
<rect x="233" y="1501" width="1" height="2" fill="#d0d0d0"/>
<rect x="244" y="1501" width="1" height="2" fill="#d0d0d0"/>
<rect x="255" y="1501" width="1" height="2" fill="#d0d0d0"/>
<rect x="276" y="1501" width="1" height="2" fill="#d0d0d0"/>
<rect x="287" y="1501" width="1" height="2" fill="#d0d0d0"/>
<rect x="298" y="1501" width="1" height="2" fill="#d0d0d0"/>
<rect x="308" y="1501" width="1" height="2" fill="#d0d0d0"/>
<rect x="330" y="1501" width="1" height="2" fill="#d0d0d0"/>
<rect x="341" y="1501" width="1" height="2" fill="#d0d0d0"/>
<rect x="351" y="1501" width="1" height="2" fill="#d0d0d0"/>
<rect x="362" y="1501" width="1" height="2" fill="#d0d0d0"/>
<rect x="383" y="1501" width="1" height="2" fill="#d0d0d0"/>
<rect x="394" y="1501" width="1" height="2" fill="#d0d0d0"/>
<rect x="405" y="1501" width="1" height="2" fill="#d0d0d0"/>
<rect x="416" y="1501" width="1" height="2" fill="#d0d0d0"/>
<rect x="437" y="1501" width="1" height="2" fill="#d0d0d0"/>
<rect x="448" y="1501" width="1" height="2" fill="#d0d0d0"/>
<rect x="458" y="1501" width="1" height="2" fill="#d0d0d0"/>
<rect x="469" y="1501" width="1" height="2" fill="#d0d0d0"/>
<rect x="491" y="1501" width="1" height="2" fill="#d0d0d0"/>
<rect x="501" y="1501" width="1" height="2" fill="#d0d0d0"/>
<rect x="512" y="1501" width="1" height="2" fill="#d0d0d0"/>
<rect x="523" y="1501" width="1" height="2" fill="#d0d0d0"/>
<rect x="544" y="1501" width="1" height="2" fill="#d0d0d0"/>
<rect x="555" y="1501" width="1" height="2" fill="#d0d0d0"/>
<rect x="566" y="1501" width="1" height="2" fill="#d0d0d0"/>
<rect x="576" y="1501" width="1" height="2" fill="#d0d0d0"/>
<rect x="598" y="1501" width="1" height="2" fill="#d0d0d0"/>
<rect x="608" y="1501" width="1" height="2" fill="#d0d0d0"/>
<rect x="619" y="1501" width="1" height="2" fill="#d0d0d0"/>
<rect x="630" y="1501" width="1" height="2" fill="#d0d0d0"/>
<rect x="651" y="1501" width="1" height="2" fill="#d0d0d0"/>
<rect x="662" y="1501" width="1" height="2" fill="#d0d0d0"/>
<rect x="673" y="1501" width="1" height="2" fill="#d0d0d0"/>
<rect x="683" y="1501" width="1" height="2" fill="#d0d0d0"/>
<rect x="705" y="1501" width="1" height="2" fill="#d0d0d0"/>
<rect x="716" y="1501" width="1" height="2" fill="#d0d0d0"/>
<rect x="726" y="1501" width="1" height="2" fill="#d0d0d0"/>
<rect x="737" y="1501" width="1" height="2" fill="#d0d0d0"/>
<rect x="758" y="1501" width="1" height="2" fill="#d0d0d0"/>
<rect x="769" y="1501" width="1" height="2" fill="#d0d0d0"/>
<rect x="780" y="1501" width="1" height="2" fill="#d0d0d0"/>
<rect x="791" y="1501" width="1" height="2" fill="#d0d0d0"/>
<rect x="812" y="1501" width="1" height="2" fill="#d0d0d0"/>
<rect x="823" y="1501" width="1" height="2" fill="#d0d0d0"/>
<rect x="833" y="1501" width="1" height="2" fill="#d0d0d0"/>
<rect x="844" y="1501" width="1" height="2" fill="#d0d0d0"/>
<rect x="866" y="1501" width="1" height="2" fill="#d0d0d0"/>
<rect x="876" y="1501" width="1" height="2" fill="#d0d0d0"/>
<rect x="887" y="1501" width="1" height="2" fill="#d0d0d0"/>
<rect x="898" y="1501" width="1" height="2" fill="#d0d0d0"/>
<rect x="919" y="1501" width="1" height="2" fill="#d0d0d0"/>
<rect x="930" y="1501" width="1" height="2" fill="#d0d0d0"/>
<rect x="941" y="1501" width="1" height="2" fill="#d0d0d0"/>
<rect x="951" y="1501" width="1" height="2" fill="#d0d0d0"/>
<rect x="973" y="1501" width="1" height="2" fill="#d0d0d0"/>
<rect x="983" y="1501" width="1" height="2" fill="#d0d0d0"/>
<rect x="994" y="1501" width="1" height="2" fill="#d0d0d0"/>
<rect x="1005" y="1501" width="1" height="2" fill="#d0d0d0"/>
<rect x="1026" y="1501" width="1" height="2" fill="#d0d0d0"/>
<rect x="1037" y="1501" width="1" height="2" fill="#d0d0d0"/>
<rect x="1048" y="1501" width="1" height="2" fill="#d0d0d0"/>
<rect x="1058" y="1501" width="1" height="2" fill="#d0d0d0"/>
<rect x="1080" y="1501" width="1" height="2" fill="#d0d0d0"/>
<rect x="1091" y="1501" width="1" height="2" fill="#d0d0d0"/>
<rect x="1101" y="1501" width="1" height="2" fill="#d0d0d0"/>
<rect x="1112" y="1501" width="1" height="2" fill="#d0d0d0"/>
<rect x="1133" y="1501" width="1" height="2" fill="#d0d0d0"/>
<rect x="1144" y="1501" width="1" height="2" fill="#d0d0d0"/>
</g>
<g shape-rendering="crispEdges" fill="#000">
<rect x="97" y="1318" width="7" height="2"/>
<rect x="1155" y="1497" width="2" height="7"/>
<rect x="98" y="1316" width="5" height="2"/>
<rect x="1157" y="1498" width="2" height="5"/>
<rect x="99" y="1314" width="3" height="2"/>
<rect x="1159" y="1499" width="2" height="3"/>
<rect x="100" y="1313" width="1" height="1"/>
<rect x="1161" y="1500" width="2" height="1"/>
</g>
<text x="74.21" y="1329.70" font-size="10.67" textLength="24.45" lengthAdjust="spacingAndGlyphs">0.80</text>
<text x="74.21" y="1354.70" font-size="10.67" textLength="24.45" lengthAdjust="spacingAndGlyphs">0.60</text>
<text x="74.21" y="1379.70" font-size="10.67" textLength="24.45" lengthAdjust="spacingAndGlyphs">0.40</text>
<text x="74.21" y="1404.70" font-size="10.67" textLength="24.45" lengthAdjust="spacingAndGlyphs">0.20</text>
<text x="74.21" y="1429.70" font-size="10.67" textLength="24.45" lengthAdjust="spacingAndGlyphs">0.00</text>
<text x="70.09" y="1454.70" font-size="10.67" textLength="28.41" lengthAdjust="spacingAndGlyphs">-0.20</text>
<text x="70.09" y="1479.70" font-size="10.67" textLength="28.41" lengthAdjust="spacingAndGlyphs">-0.40</text>
<text x="70.09" y="1504.70" font-size="10.67" textLength="28.41" lengthAdjust="spacingAndGlyphs">-0.60</text>
<text x="84.67" y="1513.00" font-size="10.67" textLength="43.69" lengthAdjust="spacingAndGlyphs">21 Sept</text>
<text x="137.67" y="1513.00" font-size="10.67" textLength="43.69" lengthAdjust="spacingAndGlyphs">28 Sept</text>
<text x="198.30" y="1513.00" font-size="10.67" textLength="30.31" lengthAdjust="spacingAndGlyphs">5 Oct</text>
<text x="248.46" y="1513.00" font-size="10.67" textLength="37.50" lengthAdjust="spacingAndGlyphs">12 Oct</text>
<text x="301.46" y="1513.00" font-size="10.67" textLength="37.50" lengthAdjust="spacingAndGlyphs">19 Oct</text>
<text x="355.72" y="1513.00" font-size="10.67" textLength="37.50" lengthAdjust="spacingAndGlyphs">26 Oct</text>
<text x="411.11" y="1513.00" font-size="10.67" textLength="32.83" lengthAdjust="spacingAndGlyphs">2 Nov</text>
<text x="465.11" y="1513.00" font-size="10.67" textLength="32.83" lengthAdjust="spacingAndGlyphs">9 Nov</text>
<text x="514.26" y="1513.00" font-size="10.67" textLength="40.02" lengthAdjust="spacingAndGlyphs">16 Nov</text>
<text x="568.53" y="1513.00" font-size="10.67" textLength="40.02" lengthAdjust="spacingAndGlyphs">23 Nov</text>
<text x="626.37" y="1514.30" font-size="10.67" textLength="32.64" lengthAdjust="spacingAndGlyphs">2 Déc</text>
<text x="679.37" y="1514.30" font-size="10.67" textLength="32.64" lengthAdjust="spacingAndGlyphs">9 Déc</text>
<text x="729.53" y="1514.30" font-size="10.67" textLength="39.83" lengthAdjust="spacingAndGlyphs">16 Déc</text>
<text x="782.79" y="1514.30" font-size="10.67" textLength="39.83" lengthAdjust="spacingAndGlyphs">23 Déc</text>
<text x="839.18" y="1513.00" font-size="10.67" textLength="34.88" lengthAdjust="spacingAndGlyphs">2 Janv</text>
<text x="892.18" y="1513.00" font-size="10.67" textLength="34.88" lengthAdjust="spacingAndGlyphs">9 Janv</text>
<text x="942.33" y="1513.00" font-size="10.67" textLength="42.07" lengthAdjust="spacingAndGlyphs">16 Janv</text>
<text x="996.60" y="1513.00" font-size="10.67" textLength="42.07" lengthAdjust="spacingAndGlyphs">23 Janv</text>
<text x="1049.60" y="1513.00" font-size="10.67" textLength="42.07" lengthAdjust="spacingAndGlyphs">30 Janv</text>
<text x="1109.16" y="1514.30" font-size="10.67" textLength="30.92" lengthAdjust="spacingAndGlyphs">6 Fév</text>
<text x="487.02" y="1526.50" font-size="10.67" textLength="278.69" lengthAdjust="spacingAndGlyphs">Date (du 21 Septembre 2016 au 8 Février 2017)</text>
<text transform="translate(67.00 1428.09) rotate(-90)" font-size="10.67" textLength="34.99" lengthAdjust="spacingAndGlyphs">MACD</text>
</svg></body></html>
